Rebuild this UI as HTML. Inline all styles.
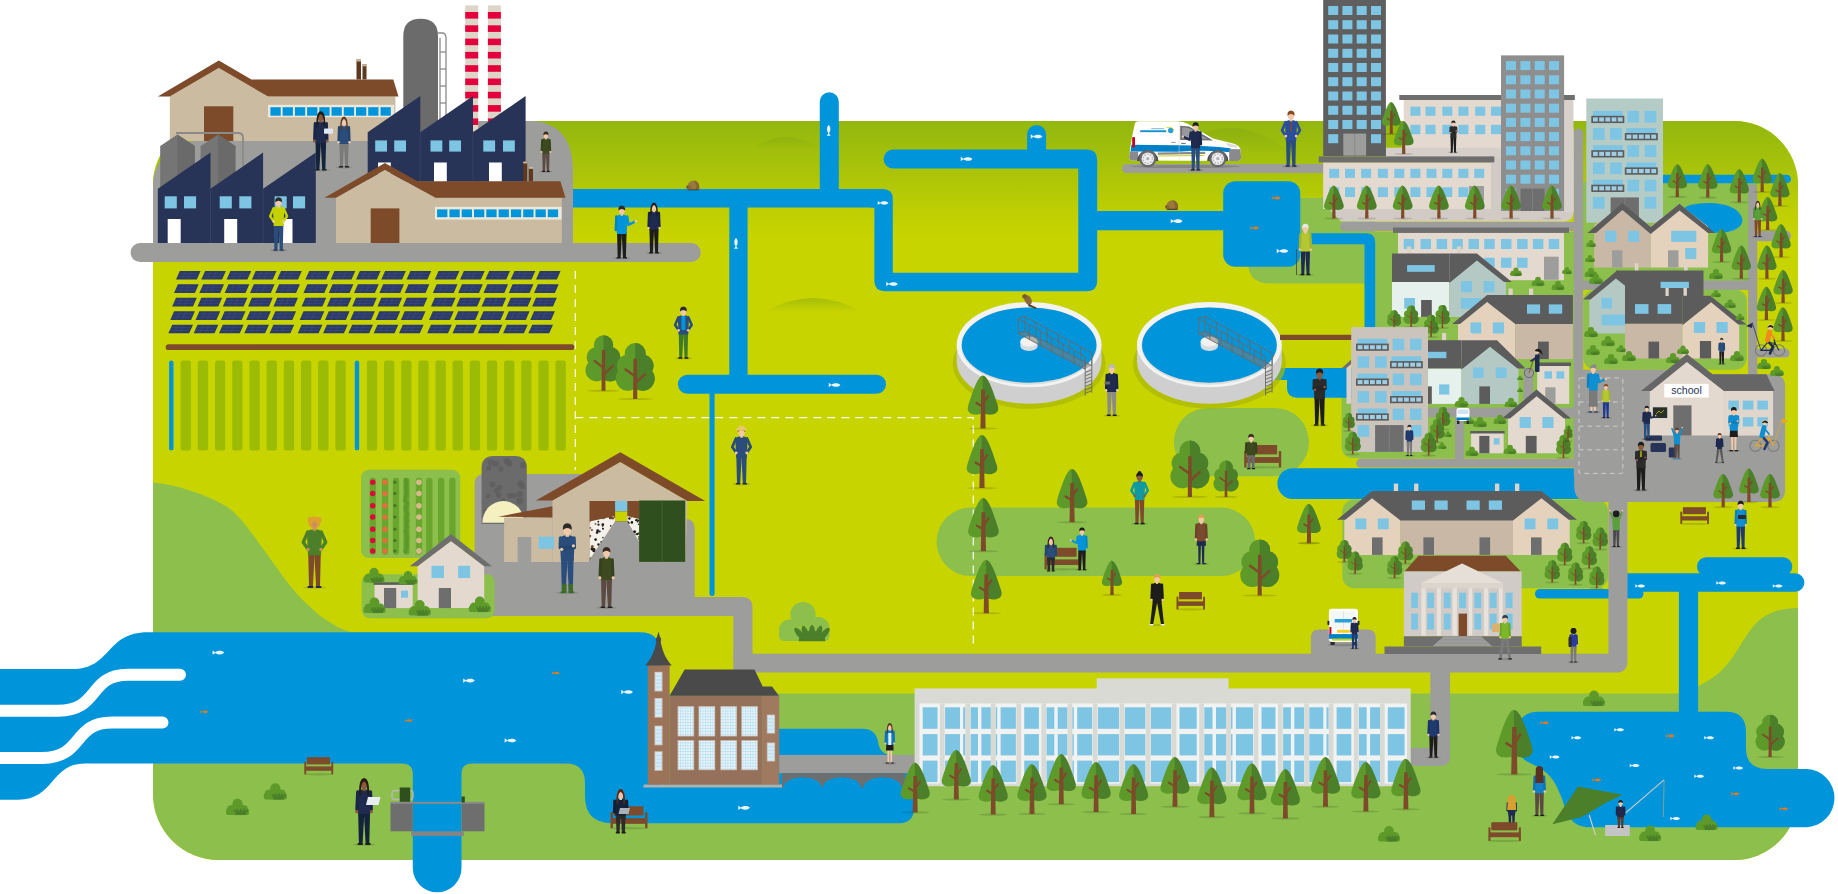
<!DOCTYPE html><html><head><meta charset="utf-8"><style>html,body{margin:0;padding:0;background:#fff}svg{display:block}</style></head><body><svg width="1838" height="894" viewBox="0 0 1838 894" font-family="Liberation Sans, sans-serif"><defs><linearGradient id="lg" x1="0" y1="0" x2="0" y2="1"><stop offset="0" stop-color="#93b70f"/><stop offset="0.4" stop-color="#a8c309"/><stop offset="0.75" stop-color="#bdce03"/><stop offset="1" stop-color="#c8d400"/></linearGradient><radialGradient id="hill" cx="0.5" cy="1" r="1" gradientTransform="translate(0,0)"><stop offset="0" stop-color="#9ab90a" stop-opacity="0"/><stop offset="0.8" stop-color="#9ab90a" stop-opacity="0.05"/><stop offset="1" stop-color="#8fb20c" stop-opacity="0.55"/></radialGradient><clipPath id="land"><path id="landp" d="M153,185 A64,64 0 0 1 217,121 L1734,121 A64,64 0 0 1 1798,185 L1798,796 A64,64 0 0 1 1734,860 L219,860 A66,66 0 0 1 153,794 Z"/></clipPath></defs><path d="M153,185 A64,64 0 0 1 217,121 L1734,121 A64,64 0 0 1 1798,185 L1798,796 A64,64 0 0 1 1734,860 L219,860 A66,66 0 0 1 153,794 Z" fill="#c8d400"/><g clip-path="url(#land)"><rect x="153" y="121" width="1650" height="118" fill="url(#lg)"/><defs><linearGradient id="hg" x1="0" y1="0" x2="0" y2="1"><stop offset="0" stop-color="#86ab10" stop-opacity="0.55"/><stop offset="1" stop-color="#86ab10" stop-opacity="0"/></linearGradient></defs><path d="M752,149 Q786,125 820,149 Z" fill="url(#hg)"/><path d="M765,312 Q813,284 861,312 Z" fill="url(#hg)"/><path d="M1168,154 Q1230,102 1292,154 Z" fill="url(#hg)"/><path d="M153,482.4 C175,484 205,494 226,506 C240,515 252,534 264,550 L283,576.5 C295,593 308,606 321,616.4 C332,624 342,630 352,632.2 L153,632.2 Z" fill="#8cbf4c"/><path d="M153,632 L640,632 L640,870 L153,870 Z" fill="#8cbf4c"/><path d="M640,693.5 L1678,693.5 L1698,686 C1730,672 1735,650 1752,628 C1765,612 1780,608.5 1798,608 L1798,870 L640,870 Z" fill="#8cbf4c"/></g><rect x="936.6" y="507.6" width="318.5" height="68.4" fill="#8cbf4c" rx="34"/><rect x="1173.9" y="407.9" width="135" height="68.3" fill="#8cbf4c" rx="34"/><path d="M1262,198 L1375,198 L1375,283.5 L1270,283.5 Q1248,283.5 1248,262 L1248,230 Z" fill="#8cbf4c"/><path d="M1375,232 L1574,232 L1574,458 L1354,458 Q1341.6,458 1341.6,446 L1341.6,392 Q1341.6,380 1354,380 L1375,380 Z" fill="#8cbf4c"/><rect x="1583" y="182" width="174" height="108" fill="#8cbf4c"/><rect x="1583.3" y="289.6" width="163.5" height="80.1" fill="#8cbf4c" rx="12"/><rect x="1342.3" y="499.6" width="265.8" height="88.7" fill="#8cbf4c" rx="12"/><path d="M0,669.1 L72,669.1 C112,669.1 105,632.2 148,632.2 L640,632.2 Q660,632.2 660,652 L660,784.5 L779,784.5 L779,728.7 L862,728.7 Q876,728.7 878,742 Q880,755 892,755 L914,755 L914,808 Q914,823.2 899,823.2 L612,823.2 Q585,823.2 585,796 L585,783 Q585,763.5 566,763.5 L472,763.5 Q461.5,763.5 461.5,774 L461.5,868 A24.3,24.3 0 0 1 412.8,868 L412.8,774 Q412.8,763.5 402,763.5 L85,763.5 C50,763.5 55,799.7 18,799.7 L0,799.7 Z" fill="#0095db"/><path d="M-10,710.7 L58,710.7 C100,710.7 88,674.8 128,674.8 L180,674.8" fill="none" stroke="#fff" stroke-width="12" stroke-linecap="round"/><path d="M-10,757.9 L42,757.9 C84,757.9 72,722.5 112,722.5 L162.5,722.5" fill="none" stroke="#fff" stroke-width="12" stroke-linecap="round"/><rect x="565" y="189" width="319" height="18.5" fill="#0095db"/><path d="M870,189 L883,189 Q892.8,189 892.8,199 L892.8,272.8 L1078.3,272.8 L1078.3,168.4 L893,168.4 A9.4,9.4 0 0 1 893,149.6 L1087,149.6 Q1097.2,149.6 1097.2,160 L1097.2,281 Q1097.2,291.2 1087,291.2 L885,291.2 Q874.4,291.2 874.4,281 L874.4,207.5 L870,207.5 Z" fill="#0095db"/><path d="M1027.1,152 L1027.1,134.4 A9.5,9.5 0 0 1 1046.1,134.4 L1046.1,152 Z" fill="#0095db"/><path d="M819.8,192 L819.8,101.7 A9.5,9.5 0 0 1 838.8,101.7 L838.8,192 Z" fill="#0095db"/><rect x="1095" y="211" width="135" height="19.3" fill="#0095db"/><rect x="1223.2" y="181.2" width="77.1" height="85.6" fill="#0095db" rx="12"/><path d="M1298,233.2 L1366,233.2 Q1375.2,233.2 1375.2,242 L1375.2,398 L1364.5,398 L1364.5,244.3 L1298,244.3 Z" fill="#0095db"/><path d="M1270,368 L1375.2,368 L1375.2,397.7 L1297,397.7 Q1287,397.7 1287,388 L1287,380 L1270,380 Z" fill="#0095db"/><rect x="729.3" y="200" width="18.3" height="180" fill="#0095db"/><rect x="677.9" y="374.8" width="208.1" height="19" fill="#0095db" rx="9.5"/><rect x="709.5" y="388" width="5.1" height="208" fill="#0095db" rx="2.5"/><path d="M1292.8,468.2 L1590,468.2 L1590,499 L1292.8,499 A15.4,15.4 0 0 1 1292.8,468.2 Z" fill="#0095db"/><rect x="1534.9" y="589.1" width="108.6" height="9.5" fill="#0095db" rx="4.8"/><rect x="1612" y="573.2" width="192.4" height="18.5" fill="#0095db" rx="9.2"/><rect x="1697" y="557.3" width="95.2" height="18.7" fill="#0095db" rx="9"/><rect x="1678.9" y="585" width="19.2" height="135" fill="#0095db"/><path d="M1539,711.7 L1726,711.7 Q1746,711.7 1746,732 L1746,748 Q1746,768.9 1767,768.9 L1807,768.9 A29.2,29.2 0 0 1 1807,827.2 L1590,827.2 C1566,827.2 1566,806 1560,794 C1553,776 1545,770 1532,764 C1520,759 1517.5,752 1517.5,742 L1517.5,733 Q1517.5,711.7 1539,711.7 Z" fill="#0095db"/><rect x="1660" y="174.7" width="131" height="8.6" fill="#0095db" rx="4.3"/><path d="M1690,205 C1712,200 1738,204 1742,218 C1745,230 1725,235 1708,232 C1695,230 1688,232 1682,228 C1676,222 1680,208 1690,205 Z" fill="#0095db"/><rect x="130.6" y="243" width="570.1" height="19" fill="#9d9d9c" rx="9.5"/><path d="M153,250 L153,186 A45,45 0 0 1 198,141 L420,141 L420,121 L528,121 Q573,121 573,172 L573,250 Z" fill="#9d9d9c"/><rect x="1122" y="164" width="208" height="9" fill="#9d9d9c" rx="4.5"/><path d="M474.6,484 Q474.6,474 484.6,474 L610,474 L610,518.8 L684.7,518.8 Q694.7,518.8 694.7,528.8 L694.7,597 L742,597 Q752.5,597 752.5,607.5 L752.5,660 L733.3,660 L733.3,616 L474.6,616 Z" fill="#9d9d9c"/><path d="M733.3,653.7 L1608.4,653.7 L1608.4,495 L1627.5,495 L1627.5,661 Q1627.5,672.6 1616,672.6 L733.3,672.6 Z" fill="#9d9d9c"/><path d="M1310.9,655 L1310.9,637.6 Q1310.9,629.6 1318.9,629.6 L1367.7,629.6 Q1375.7,629.6 1375.7,637.6 L1375.7,655 Z" fill="#9d9d9c"/><path d="M1430.3,670 L1450,670 L1450,757 Q1450,765.7 1441,765.7 L1410.7,765.7 L1410.7,747.7 L1430.3,747.7 Z" fill="#9d9d9c"/><rect x="1340" y="222" width="243" height="9.2" fill="#9d9d9c" rx="4.6"/><rect x="1573.8" y="128.5" width="9.4" height="351.5" fill="#9d9d9c" rx="4.7"/><rect x="1356.2" y="458.6" width="223.8" height="8.9" fill="#9d9d9c" rx="4.4"/><rect x="1428" y="407.7" width="148" height="9.6" fill="#9d9d9c"/><rect x="1455.1" y="417.3" width="8.7" height="42.7" fill="#9d9d9c"/><rect x="1523.5" y="368.4" width="9.6" height="41.6" fill="#9d9d9c"/><rect x="1580" y="280.6" width="170" height="9" fill="#9d9d9c"/><rect x="1748.2" y="184.6" width="9" height="195.4" fill="#9d9d9c"/><rect x="1755" y="230.8" width="36" height="10.4" fill="#9d9d9c" rx="5.2"/><rect x="1755" y="348.6" width="34.7" height="9" fill="#9d9d9c" rx="4.5"/><path d="M1574.2,369.7 L1700,369.7 L1700,374.3 L1773,374.3 Q1785.1,374.3 1785.1,386.4 L1785.1,490 Q1785.1,502.1 1773,502.1 L1590.2,502.1 Q1574.2,502.1 1574.2,486 Z" fill="#9d9d9c"/><g fill="none" stroke="#dcdcd8" stroke-width="0.8" stroke-dasharray="4.5 4"><rect x="1579" y="377.9" width="43.9" height="95.5" rx="1.5"/><line x1="1579" y1="402" x2="1622.9" y2="402"/><line x1="1579" y1="426.2" x2="1622.9" y2="426.2"/><line x1="1579" y1="449.8" x2="1622.9" y2="449.8"/></g><g fill="none" stroke="#fff" stroke-width="1.25" stroke-dasharray="8 6" opacity="0.92"><path d="M575.3,271 L575.3,470"/><path d="M575.3,417.6 L973.3,417.6 L973.3,647"/></g><path d="M403.3,140 L403.3,36 Q403.3,18.7 420.6,18.7 Q438,18.7 438,36 L438,140 Z" fill="#6b6b6b"/><g fill="none" stroke="#8a8a8a" stroke-width="1.3"><path d="M438,33 L442,33 Q446,33 446,38 L446,125"/><path d="M440,38 L440,125"/><line x1="440" y1="52" x2="446" y2="52"/><line x1="440" y1="69" x2="446" y2="69"/><line x1="440" y1="86" x2="446" y2="86"/><line x1="440" y1="103" x2="446" y2="103"/></g><rect x="465.2" y="5.4" width="13" height="129.6" fill="#ddd5c8"/><rect x="465.2" y="12" width="13" height="6.6" fill="#e4003a"/><rect x="465.2" y="25.3" width="13" height="6.6" fill="#e4003a"/><rect x="465.2" y="38.6" width="13" height="6.6" fill="#e4003a"/><rect x="465.2" y="51.9" width="13" height="6.6" fill="#e4003a"/><rect x="465.2" y="65.2" width="13" height="6.6" fill="#e4003a"/><rect x="465.2" y="78.5" width="13" height="6.6" fill="#e4003a"/><rect x="465.2" y="91.8" width="13" height="6.6" fill="#e4003a"/><rect x="465.2" y="105.1" width="13" height="6.6" fill="#e4003a"/><rect x="465.2" y="118.4" width="13" height="6.6" fill="#e4003a"/><rect x="465.2" y="131.7" width="13" height="6.6" fill="#e4003a"/><rect x="487.9" y="5.4" width="13" height="129.6" fill="#ddd5c8"/><rect x="487.9" y="12" width="13" height="6.6" fill="#e4003a"/><rect x="487.9" y="25.3" width="13" height="6.6" fill="#e4003a"/><rect x="487.9" y="38.6" width="13" height="6.6" fill="#e4003a"/><rect x="487.9" y="51.9" width="13" height="6.6" fill="#e4003a"/><rect x="487.9" y="65.2" width="13" height="6.6" fill="#e4003a"/><rect x="487.9" y="78.5" width="13" height="6.6" fill="#e4003a"/><rect x="487.9" y="91.8" width="13" height="6.6" fill="#e4003a"/><rect x="487.9" y="105.1" width="13" height="6.6" fill="#e4003a"/><rect x="487.9" y="118.4" width="13" height="6.6" fill="#e4003a"/><rect x="487.9" y="131.7" width="13" height="6.6" fill="#e4003a"/><polygon points="169.8,96.6 218.8,68 268,96.6 395.4,96.6 395.4,141 169.8,141" fill="#cbbba0"/><polygon points="157.8,96.6 218.8,60.4 251.4,79.4 393.3,79.4 398.5,96.6 268,96.6 218.8,68 169.8,96.6" fill="#7d4b2a"/><rect x="204" y="106.3" width="29.3" height="34.7" fill="#7d4b2a"/><rect x="268" y="104.8" width="126.2" height="12.4" fill="#eee8dc"/><rect x="270.4" y="107.2" width="10.3" height="8.5" fill="#0095db"/><rect x="282.6" y="107.2" width="10.3" height="8.5" fill="#0095db"/><rect x="294.9" y="107.2" width="10.3" height="8.5" fill="#0095db"/><rect x="307.1" y="107.2" width="10.3" height="8.5" fill="#0095db"/><rect x="319.3" y="107.2" width="10.3" height="8.5" fill="#0095db"/><rect x="331.5" y="107.2" width="10.3" height="8.5" fill="#0095db"/><rect x="343.8" y="107.2" width="10.3" height="8.5" fill="#0095db"/><rect x="356" y="107.2" width="10.3" height="8.5" fill="#0095db"/><rect x="368.2" y="107.2" width="10.3" height="8.5" fill="#0095db"/><rect x="380.5" y="107.2" width="10.3" height="8.5" fill="#0095db"/><rect x="356.5" y="59.5" width="4.5" height="19.9" fill="#5f3820"/><rect x="362.5" y="64.3" width="4" height="15.1" fill="#5f3820"/><rect x="356.5" y="59.5" width="4.5" height="2" fill="#cbbba0"/><rect x="362.5" y="64.3" width="4" height="2" fill="#cbbba0"/><polygon points="160.2,146 177.4,134.4 194.9,146 194.9,215 160.2,215" fill="#757575"/><polygon points="177.4,134.4 194.9,146 194.9,215 177.4,215" fill="#6a6a6a"/><polygon points="200.6,146 218.2,134.4 235.4,146 235.4,215 200.6,215" fill="#757575"/><polygon points="218.2,134.4 235.4,146 235.4,215 218.2,215" fill="#6a6a6a"/><path d="M176,133 L238,133 Q243,133 243,138 L243,166" fill="none" stroke="#8a8a8a" stroke-width="1.8"/><polygon points="367.7,181.5 367.7,132.3 420.3,96 420.3,132.3 473,96 473,132.3 525.6,96 525.6,181.5" fill="#283457"/><line x1="420.3" y1="132.3" x2="420.3" y2="181.5" stroke="#3a476b" stroke-width="0.6"/><line x1="473" y1="132.3" x2="473" y2="181.5" stroke="#3a476b" stroke-width="0.6"/><rect x="375.2" y="140.4" width="11.8" height="11.2" fill="#7ec5e3"/><rect x="394.2" y="140.4" width="11.8" height="11.2" fill="#7ec5e3"/><rect x="430.5" y="140.4" width="11.8" height="11.2" fill="#7ec5e3"/><rect x="449.2" y="140.4" width="11.8" height="11.2" fill="#7ec5e3"/><rect x="483.3" y="140.4" width="11.8" height="11.2" fill="#7ec5e3"/><rect x="503" y="140.4" width="11.8" height="11.2" fill="#7ec5e3"/><rect x="378" y="162.5" width="12.8" height="19.5" fill="#fff"/><rect x="434" y="162.5" width="12.8" height="19.5" fill="#fff"/><rect x="489" y="162.5" width="12.8" height="19.5" fill="#fff"/><ellipse cx="320.8" cy="170.3" rx="9.6" ry="1.1" fill="#000" opacity="0.13"/><polygon points="315.5,140.6 321,140.6 319.4,169.2 316.2,169.2" fill="#14233a"/><polygon points="320.6,140.6 326.1,140.6 325.4,169.2 322.2,169.2" fill="#14233a"/><rect x="314.9" y="168.9" width="4.9" height="1.7" fill="#1d1d1b" rx="0.8"/><rect x="321.8" y="168.9" width="4.9" height="1.7" fill="#1d1d1b" rx="0.8"/><path d="M318.3,121.4 L323.3,121.4 Q327,121.9 327,126 L326.2,143.1 L315.4,143.1 L314.6,126 Q314.6,121.9 318.3,121.4 Z" fill="#1f2a4f"/><line x1="315.1" y1="123.5" x2="314.5" y2="139" stroke="#1b2547" stroke-width="2.8" stroke-linecap="round"/><line x1="326.5" y1="123.5" x2="327.1" y2="139" stroke="#1b2547" stroke-width="2.8" stroke-linecap="round"/><circle cx="314.3" cy="141" r="1.4" fill="#8b5a3c"/><circle cx="327.3" cy="141" r="1.4" fill="#8b5a3c"/><rect x="319.4" y="119.2" width="2.7" height="3.4" fill="#8b5a3c"/><ellipse cx="320.8" cy="116.7" rx="3.4" ry="4.3" fill="#8b5a3c"/><path d="M316.5,126.4 Q315.8,111.7 320.8,111.2 Q325.8,111.7 325.1,126.4 L323.5,126.4 Q324.2,114.9 320.8,114.2 Q317.4,114.9 318.1,126.4 Z" fill="#1d1d1b"/><rect x="324" y="128.5" width="9" height="5.3" fill="#dfe8f2" rx="0.8"/><ellipse cx="344" cy="167.3" rx="8.3" ry="1.1" fill="#000" opacity="0.13"/><polygon points="339.4,141.8 344.2,141.8 342.8,166.4 340,166.4" fill="#7a7a7a"/><polygon points="343.8,141.8 348.6,141.8 348,166.4 345.2,166.4" fill="#7a7a7a"/><rect x="338.9" y="166.1" width="4.2" height="1.5" fill="#1d1d1b" rx="0.7"/><rect x="344.9" y="166.1" width="4.2" height="1.5" fill="#1d1d1b" rx="0.7"/><path d="M341.9,125.4 L346.1,125.4 Q349.4,125.8 349.4,129.3 L348.7,144 L339.3,144 L338.6,129.3 Q338.6,125.8 341.9,125.4 Z" fill="#2a4d7c"/><line x1="339.1" y1="127.1" x2="338.6" y2="140.5" stroke="#25456f" stroke-width="2.4" stroke-linecap="round"/><line x1="348.9" y1="127.1" x2="349.4" y2="140.5" stroke="#25456f" stroke-width="2.4" stroke-linecap="round"/><circle cx="338.5" cy="142.2" r="1.2" fill="#f2c9a8"/><circle cx="349.5" cy="142.2" r="1.2" fill="#f2c9a8"/><rect x="342.8" y="123.4" width="2.3" height="2.9" fill="#f2c9a8"/><ellipse cx="344" cy="121.3" rx="2.9" ry="3.7" fill="#f2c9a8"/><path d="M340.3,129.7 Q339.7,117 344,116.6 Q348.3,117 347.7,129.7 L346.3,129.7 Q346.9,119.7 344,119.1 Q341.1,119.7 341.7,129.7 Z" fill="#5a3a28"/><ellipse cx="545.9" cy="171.8" rx="6.5" ry="1.1" fill="#000" opacity="0.13"/><polygon points="542.3,151.6 546.1,151.6 545,171.1 542.7,171.1" fill="#5a4a42"/><polygon points="545.7,151.6 549.5,151.6 549.1,171.1 546.8,171.1" fill="#5a4a42"/><rect x="541.9" y="170.8" width="3.3" height="1.2" fill="#1d1d1b" rx="0.5"/><rect x="546.6" y="170.8" width="3.3" height="1.2" fill="#1d1d1b" rx="0.5"/><path d="M544.2,138.6 L547.6,138.6 Q550.1,138.9 550.1,141.7 L549.6,153.3 L542.2,153.3 L541.7,141.7 Q541.7,138.9 544.2,138.6 Z" fill="#3d4a1f"/><line x1="542.1" y1="140" x2="541.6" y2="150.5" stroke="#36421b" stroke-width="1.9" stroke-linecap="round"/><line x1="549.7" y1="140" x2="550.2" y2="150.5" stroke="#36421b" stroke-width="1.9" stroke-linecap="round"/><circle cx="541.5" cy="151.9" r="1" fill="#f2c9a8"/><circle cx="550.3" cy="151.9" r="1" fill="#f2c9a8"/><rect x="545" y="137.1" width="1.8" height="2.3" fill="#f2c9a8"/><ellipse cx="545.9" cy="135.4" rx="2.3" ry="2.9" fill="#f2c9a8"/><path d="M543.4,135.4 Q543,131.8 545.9,131.6 Q548.8,131.8 548.4,135.4 Q545.9,133.1 543.4,135.4 Z" fill="#3a2a20"/><polygon points="157.8,243 157.8,188.8 210.5,152.5 210.5,188.8 263.1,152.5 263.1,188.8 315.8,152.5 315.8,243" fill="#283457"/><line x1="210.5" y1="188.8" x2="210.5" y2="243" stroke="#3a476b" stroke-width="0.6"/><line x1="263.1" y1="188.8" x2="263.1" y2="243" stroke="#3a476b" stroke-width="0.6"/><rect x="164.7" y="196.3" width="12.1" height="12.1" fill="#7ec5e3"/><rect x="184" y="196.3" width="12.1" height="12.1" fill="#7ec5e3"/><rect x="219.7" y="196.3" width="12.1" height="12.1" fill="#7ec5e3"/><rect x="239.3" y="196.3" width="12.1" height="12.1" fill="#7ec5e3"/><rect x="274.6" y="196.3" width="12.1" height="12.1" fill="#7ec5e3"/><rect x="293" y="196.3" width="12.1" height="12.1" fill="#7ec5e3"/><rect x="167.7" y="219" width="13" height="24" fill="#fff"/><rect x="224.2" y="219" width="13" height="24" fill="#fff"/><rect x="279.5" y="219" width="13" height="24" fill="#fff"/><polygon points="336,197.8 384.9,170 435.6,197.8 561.9,197.8 561.9,243 336,243" fill="#cbbba0"/><polygon points="324.5,197.8 384.9,163.1 417.5,181.2 560.4,181.2 565.5,197.8 435.6,197.8 384.9,170 336,197.8" fill="#7d4b2a"/><rect x="370.7" y="208.4" width="28.7" height="34.6" fill="#7d4b2a"/><rect x="435" y="206.9" width="126.6" height="12.7" fill="#eee8dc"/><rect x="437.1" y="209.4" width="10.3" height="7.8" fill="#0095db"/><rect x="449.4" y="209.4" width="10.3" height="7.8" fill="#0095db"/><rect x="461.7" y="209.4" width="10.3" height="7.8" fill="#0095db"/><rect x="474" y="209.4" width="10.3" height="7.8" fill="#0095db"/><rect x="486.3" y="209.4" width="10.3" height="7.8" fill="#0095db"/><rect x="498.6" y="209.4" width="10.3" height="7.8" fill="#0095db"/><rect x="510.9" y="209.4" width="10.3" height="7.8" fill="#0095db"/><rect x="523.2" y="209.4" width="10.3" height="7.8" fill="#0095db"/><rect x="535.5" y="209.4" width="10.3" height="7.8" fill="#0095db"/><rect x="547.8" y="209.4" width="10.3" height="7.8" fill="#0095db"/><rect x="523.2" y="161.6" width="4" height="19.6" fill="#5f3820"/><rect x="528.7" y="167" width="4.3" height="14.2" fill="#5f3820"/><rect x="523.2" y="161.6" width="4" height="1.8" fill="#cbbba0"/><rect x="528.7" y="167" width="4.3" height="1.8" fill="#cbbba0"/><ellipse cx="278.6" cy="250.4" rx="8.6" ry="1.1" fill="#000" opacity="0.13"/><polygon points="273.8,223.7 278.8,223.7 277.4,249.5 274.4,249.5" fill="#2a4d7c"/><polygon points="278.4,223.7 283.4,223.7 282.8,249.5 279.8,249.5" fill="#2a4d7c"/><rect x="273.3" y="249.2" width="4.4" height="1.5" fill="#1f3a5f" rx="0.7"/><rect x="279.5" y="249.2" width="4.4" height="1.5" fill="#1f3a5f" rx="0.7"/><path d="M276.4,206.5 L280.8,206.5 Q284.2,207 284.2,210.6 L283.5,226 L273.7,226 L273,210.6 Q273,207 276.4,206.5 Z" fill="#c4d200"/><polyline points="273.5,208.4 270.2,216.2 273.7,221.3" fill="none" stroke="#c4d200" stroke-width="2.5" stroke-linejoin="round" stroke-linecap="round"/><polyline points="283.7,208.4 287,216.2 283.5,221.3" fill="none" stroke="#c4d200" stroke-width="2.5" stroke-linejoin="round" stroke-linecap="round"/><circle cx="273.7" cy="221.6" r="1.3" fill="#f2c9a8"/><circle cx="283.5" cy="221.6" r="1.3" fill="#f2c9a8"/><rect x="277.4" y="204.5" width="2.4" height="3.1" fill="#f2c9a8"/><ellipse cx="278.6" cy="202.3" rx="3.1" ry="3.9" fill="#f2c9a8"/><path d="M275.2,202.3 Q274.7,197.5 278.6,197.3 Q282.5,197.5 282,202.3 Q278.6,199.2 275.2,202.3 Z" fill="#2b2b2b"/><polygon points="179.8,270.9 200.6,270.9 196.8,279.5 176,279.5" fill="#2b3a67"/><path d="M178.6,273.8 L198.2,273.8 M177.3,276.7 L196.9,276.7 M185.6,270.9 L181.8,279.5 M191.4,270.9 L187.6,279.5" stroke="#4a5a8a" stroke-width="0.35" fill="none"/><polygon points="205.1,270.9 225.9,270.9 222.1,279.5 201.3,279.5" fill="#2b3a67"/><path d="M203.9,273.8 L223.5,273.8 M202.6,276.7 L222.2,276.7 M210.9,270.9 L207.1,279.5 M216.7,270.9 L212.9,279.5" stroke="#4a5a8a" stroke-width="0.35" fill="none"/><polygon points="230.4,270.9 251.2,270.9 247.4,279.5 226.6,279.5" fill="#2b3a67"/><path d="M229.2,273.8 L248.8,273.8 M227.9,276.7 L247.5,276.7 M236.2,270.9 L232.4,279.5 M242,270.9 L238.2,279.5" stroke="#4a5a8a" stroke-width="0.35" fill="none"/><polygon points="255.7,270.9 276.5,270.9 272.7,279.5 251.9,279.5" fill="#2b3a67"/><path d="M254.5,273.8 L274.1,273.8 M253.2,276.7 L272.8,276.7 M261.5,270.9 L257.7,279.5 M267.3,270.9 L263.5,279.5" stroke="#4a5a8a" stroke-width="0.35" fill="none"/><polygon points="281,270.9 301.8,270.9 298,279.5 277.2,279.5" fill="#2b3a67"/><path d="M279.8,273.8 L299.4,273.8 M278.5,276.7 L298.1,276.7 M286.8,270.9 L283,279.5 M292.6,270.9 L288.8,279.5" stroke="#4a5a8a" stroke-width="0.35" fill="none"/><polygon points="309.2,270.9 330,270.9 326.2,279.5 305.4,279.5" fill="#2b3a67"/><path d="M308,273.8 L327.6,273.8 M306.7,276.7 L326.3,276.7 M315,270.9 L311.2,279.5 M320.8,270.9 L317,279.5" stroke="#4a5a8a" stroke-width="0.35" fill="none"/><polygon points="334.5,270.9 355.3,270.9 351.5,279.5 330.7,279.5" fill="#2b3a67"/><path d="M333.3,273.8 L352.9,273.8 M332,276.7 L351.6,276.7 M340.3,270.9 L336.5,279.5 M346.1,270.9 L342.3,279.5" stroke="#4a5a8a" stroke-width="0.35" fill="none"/><polygon points="359.8,270.9 380.6,270.9 376.8,279.5 356,279.5" fill="#2b3a67"/><path d="M358.6,273.8 L378.2,273.8 M357.3,276.7 L376.9,276.7 M365.6,270.9 L361.8,279.5 M371.4,270.9 L367.6,279.5" stroke="#4a5a8a" stroke-width="0.35" fill="none"/><polygon points="385.1,270.9 405.9,270.9 402.1,279.5 381.3,279.5" fill="#2b3a67"/><path d="M383.9,273.8 L403.5,273.8 M382.6,276.7 L402.2,276.7 M390.9,270.9 L387.1,279.5 M396.7,270.9 L392.9,279.5" stroke="#4a5a8a" stroke-width="0.35" fill="none"/><polygon points="410.4,270.9 431.2,270.9 427.4,279.5 406.6,279.5" fill="#2b3a67"/><path d="M409.2,273.8 L428.8,273.8 M407.9,276.7 L427.5,276.7 M416.2,270.9 L412.4,279.5 M422,270.9 L418.2,279.5" stroke="#4a5a8a" stroke-width="0.35" fill="none"/><polygon points="438.6,270.9 459.4,270.9 455.6,279.5 434.8,279.5" fill="#2b3a67"/><path d="M437.4,273.8 L457,273.8 M436.1,276.7 L455.7,276.7 M444.4,270.9 L440.6,279.5 M450.2,270.9 L446.4,279.5" stroke="#4a5a8a" stroke-width="0.35" fill="none"/><polygon points="463.9,270.9 484.7,270.9 480.9,279.5 460.1,279.5" fill="#2b3a67"/><path d="M462.7,273.8 L482.3,273.8 M461.4,276.7 L481,276.7 M469.7,270.9 L465.9,279.5 M475.5,270.9 L471.7,279.5" stroke="#4a5a8a" stroke-width="0.35" fill="none"/><polygon points="489.2,270.9 510,270.9 506.2,279.5 485.4,279.5" fill="#2b3a67"/><path d="M488,273.8 L507.6,273.8 M486.7,276.7 L506.3,276.7 M495,270.9 L491.2,279.5 M500.8,270.9 L497,279.5" stroke="#4a5a8a" stroke-width="0.35" fill="none"/><polygon points="514.5,270.9 535.3,270.9 531.5,279.5 510.7,279.5" fill="#2b3a67"/><path d="M513.3,273.8 L532.9,273.8 M512,276.7 L531.6,276.7 M520.3,270.9 L516.5,279.5 M526.1,270.9 L522.3,279.5" stroke="#4a5a8a" stroke-width="0.35" fill="none"/><polygon points="539.8,270.9 560.6,270.9 556.8,279.5 536,279.5" fill="#2b3a67"/><path d="M538.6,273.8 L558.2,273.8 M537.3,276.7 L556.9,276.7 M545.6,270.9 L541.8,279.5 M551.4,270.9 L547.6,279.5" stroke="#4a5a8a" stroke-width="0.35" fill="none"/><polygon points="177.9,284.3 198.7,284.3 194.9,292.9 174.1,292.9" fill="#2b3a67"/><path d="M176.7,287.2 L196.3,287.2 M175.4,290.1 L195,290.1 M183.7,284.3 L179.9,292.9 M189.5,284.3 L185.7,292.9" stroke="#4a5a8a" stroke-width="0.35" fill="none"/><polygon points="203.2,284.3 224,284.3 220.2,292.9 199.4,292.9" fill="#2b3a67"/><path d="M202,287.2 L221.6,287.2 M200.7,290.1 L220.3,290.1 M209,284.3 L205.2,292.9 M214.8,284.3 L211,292.9" stroke="#4a5a8a" stroke-width="0.35" fill="none"/><polygon points="228.5,284.3 249.3,284.3 245.5,292.9 224.7,292.9" fill="#2b3a67"/><path d="M227.3,287.2 L246.9,287.2 M226,290.1 L245.6,290.1 M234.3,284.3 L230.5,292.9 M240.1,284.3 L236.3,292.9" stroke="#4a5a8a" stroke-width="0.35" fill="none"/><polygon points="253.8,284.3 274.6,284.3 270.8,292.9 250,292.9" fill="#2b3a67"/><path d="M252.6,287.2 L272.2,287.2 M251.3,290.1 L270.9,290.1 M259.6,284.3 L255.8,292.9 M265.4,284.3 L261.6,292.9" stroke="#4a5a8a" stroke-width="0.35" fill="none"/><polygon points="279.1,284.3 299.9,284.3 296.1,292.9 275.3,292.9" fill="#2b3a67"/><path d="M277.9,287.2 L297.5,287.2 M276.6,290.1 L296.2,290.1 M284.9,284.3 L281.1,292.9 M290.7,284.3 L286.9,292.9" stroke="#4a5a8a" stroke-width="0.35" fill="none"/><polygon points="307.3,284.3 328.1,284.3 324.3,292.9 303.5,292.9" fill="#2b3a67"/><path d="M306.1,287.2 L325.7,287.2 M304.8,290.1 L324.4,290.1 M313.1,284.3 L309.3,292.9 M318.9,284.3 L315.1,292.9" stroke="#4a5a8a" stroke-width="0.35" fill="none"/><polygon points="332.6,284.3 353.4,284.3 349.6,292.9 328.8,292.9" fill="#2b3a67"/><path d="M331.4,287.2 L351,287.2 M330.1,290.1 L349.7,290.1 M338.4,284.3 L334.6,292.9 M344.2,284.3 L340.4,292.9" stroke="#4a5a8a" stroke-width="0.35" fill="none"/><polygon points="357.9,284.3 378.7,284.3 374.9,292.9 354.1,292.9" fill="#2b3a67"/><path d="M356.7,287.2 L376.3,287.2 M355.4,290.1 L375,290.1 M363.7,284.3 L359.9,292.9 M369.5,284.3 L365.7,292.9" stroke="#4a5a8a" stroke-width="0.35" fill="none"/><polygon points="383.2,284.3 404,284.3 400.2,292.9 379.4,292.9" fill="#2b3a67"/><path d="M382,287.2 L401.6,287.2 M380.7,290.1 L400.3,290.1 M389,284.3 L385.2,292.9 M394.8,284.3 L391,292.9" stroke="#4a5a8a" stroke-width="0.35" fill="none"/><polygon points="408.5,284.3 429.3,284.3 425.5,292.9 404.7,292.9" fill="#2b3a67"/><path d="M407.3,287.2 L426.9,287.2 M406,290.1 L425.6,290.1 M414.3,284.3 L410.5,292.9 M420.1,284.3 L416.3,292.9" stroke="#4a5a8a" stroke-width="0.35" fill="none"/><polygon points="436.7,284.3 457.5,284.3 453.7,292.9 432.9,292.9" fill="#2b3a67"/><path d="M435.5,287.2 L455.1,287.2 M434.2,290.1 L453.8,290.1 M442.5,284.3 L438.7,292.9 M448.3,284.3 L444.5,292.9" stroke="#4a5a8a" stroke-width="0.35" fill="none"/><polygon points="462,284.3 482.8,284.3 479,292.9 458.2,292.9" fill="#2b3a67"/><path d="M460.8,287.2 L480.4,287.2 M459.5,290.1 L479.1,290.1 M467.8,284.3 L464,292.9 M473.6,284.3 L469.8,292.9" stroke="#4a5a8a" stroke-width="0.35" fill="none"/><polygon points="487.3,284.3 508.1,284.3 504.3,292.9 483.5,292.9" fill="#2b3a67"/><path d="M486.1,287.2 L505.7,287.2 M484.8,290.1 L504.4,290.1 M493.1,284.3 L489.3,292.9 M498.9,284.3 L495.1,292.9" stroke="#4a5a8a" stroke-width="0.35" fill="none"/><polygon points="512.6,284.3 533.4,284.3 529.6,292.9 508.8,292.9" fill="#2b3a67"/><path d="M511.4,287.2 L531,287.2 M510.1,290.1 L529.7,290.1 M518.4,284.3 L514.6,292.9 M524.2,284.3 L520.4,292.9" stroke="#4a5a8a" stroke-width="0.35" fill="none"/><polygon points="537.9,284.3 558.7,284.3 554.9,292.9 534.1,292.9" fill="#2b3a67"/><path d="M536.7,287.2 L556.3,287.2 M535.4,290.1 L555,290.1 M543.7,284.3 L539.9,292.9 M549.5,284.3 L545.7,292.9" stroke="#4a5a8a" stroke-width="0.35" fill="none"/><polygon points="176,297.8 196.8,297.8 193,306.4 172.2,306.4" fill="#2b3a67"/><path d="M174.8,300.7 L194.4,300.7 M173.5,303.6 L193.1,303.6 M181.8,297.8 L178,306.4 M187.6,297.8 L183.8,306.4" stroke="#4a5a8a" stroke-width="0.35" fill="none"/><polygon points="201.3,297.8 222.1,297.8 218.3,306.4 197.5,306.4" fill="#2b3a67"/><path d="M200.1,300.7 L219.7,300.7 M198.8,303.6 L218.4,303.6 M207.1,297.8 L203.3,306.4 M212.9,297.8 L209.1,306.4" stroke="#4a5a8a" stroke-width="0.35" fill="none"/><polygon points="226.6,297.8 247.4,297.8 243.6,306.4 222.8,306.4" fill="#2b3a67"/><path d="M225.4,300.7 L245,300.7 M224.1,303.6 L243.7,303.6 M232.4,297.8 L228.6,306.4 M238.2,297.8 L234.4,306.4" stroke="#4a5a8a" stroke-width="0.35" fill="none"/><polygon points="251.9,297.8 272.7,297.8 268.9,306.4 248.1,306.4" fill="#2b3a67"/><path d="M250.7,300.7 L270.3,300.7 M249.4,303.6 L269,303.6 M257.7,297.8 L253.9,306.4 M263.5,297.8 L259.7,306.4" stroke="#4a5a8a" stroke-width="0.35" fill="none"/><polygon points="277.2,297.8 298,297.8 294.2,306.4 273.4,306.4" fill="#2b3a67"/><path d="M276,300.7 L295.6,300.7 M274.7,303.6 L294.3,303.6 M283,297.8 L279.2,306.4 M288.8,297.8 L285,306.4" stroke="#4a5a8a" stroke-width="0.35" fill="none"/><polygon points="305.4,297.8 326.2,297.8 322.4,306.4 301.6,306.4" fill="#2b3a67"/><path d="M304.2,300.7 L323.8,300.7 M302.9,303.6 L322.5,303.6 M311.2,297.8 L307.4,306.4 M317,297.8 L313.2,306.4" stroke="#4a5a8a" stroke-width="0.35" fill="none"/><polygon points="330.7,297.8 351.5,297.8 347.7,306.4 326.9,306.4" fill="#2b3a67"/><path d="M329.5,300.7 L349.1,300.7 M328.2,303.6 L347.8,303.6 M336.5,297.8 L332.7,306.4 M342.3,297.8 L338.5,306.4" stroke="#4a5a8a" stroke-width="0.35" fill="none"/><polygon points="356,297.8 376.8,297.8 373,306.4 352.2,306.4" fill="#2b3a67"/><path d="M354.8,300.7 L374.4,300.7 M353.5,303.6 L373.1,303.6 M361.8,297.8 L358,306.4 M367.6,297.8 L363.8,306.4" stroke="#4a5a8a" stroke-width="0.35" fill="none"/><polygon points="381.3,297.8 402.1,297.8 398.3,306.4 377.5,306.4" fill="#2b3a67"/><path d="M380.1,300.7 L399.7,300.7 M378.8,303.6 L398.4,303.6 M387.1,297.8 L383.3,306.4 M392.9,297.8 L389.1,306.4" stroke="#4a5a8a" stroke-width="0.35" fill="none"/><polygon points="406.6,297.8 427.4,297.8 423.6,306.4 402.8,306.4" fill="#2b3a67"/><path d="M405.4,300.7 L425,300.7 M404.1,303.6 L423.7,303.6 M412.4,297.8 L408.6,306.4 M418.2,297.8 L414.4,306.4" stroke="#4a5a8a" stroke-width="0.35" fill="none"/><polygon points="434.8,297.8 455.6,297.8 451.8,306.4 431,306.4" fill="#2b3a67"/><path d="M433.6,300.7 L453.2,300.7 M432.3,303.6 L451.9,303.6 M440.6,297.8 L436.8,306.4 M446.4,297.8 L442.6,306.4" stroke="#4a5a8a" stroke-width="0.35" fill="none"/><polygon points="460.1,297.8 480.9,297.8 477.1,306.4 456.3,306.4" fill="#2b3a67"/><path d="M458.9,300.7 L478.5,300.7 M457.6,303.6 L477.2,303.6 M465.9,297.8 L462.1,306.4 M471.7,297.8 L467.9,306.4" stroke="#4a5a8a" stroke-width="0.35" fill="none"/><polygon points="485.4,297.8 506.2,297.8 502.4,306.4 481.6,306.4" fill="#2b3a67"/><path d="M484.2,300.7 L503.8,300.7 M482.9,303.6 L502.5,303.6 M491.2,297.8 L487.4,306.4 M497,297.8 L493.2,306.4" stroke="#4a5a8a" stroke-width="0.35" fill="none"/><polygon points="510.7,297.8 531.5,297.8 527.7,306.4 506.9,306.4" fill="#2b3a67"/><path d="M509.5,300.7 L529.1,300.7 M508.2,303.6 L527.8,303.6 M516.5,297.8 L512.7,306.4 M522.3,297.8 L518.5,306.4" stroke="#4a5a8a" stroke-width="0.35" fill="none"/><polygon points="536,297.8 556.8,297.8 553,306.4 532.2,306.4" fill="#2b3a67"/><path d="M534.8,300.7 L554.4,300.7 M533.5,303.6 L553.1,303.6 M541.8,297.8 L538,306.4 M547.6,297.8 L543.8,306.4" stroke="#4a5a8a" stroke-width="0.35" fill="none"/><polygon points="174.1,311.2 194.9,311.2 191.1,319.9 170.3,319.9" fill="#2b3a67"/><path d="M172.9,314.1 L192.5,314.1 M171.6,317.1 L191.2,317.1 M179.9,311.2 L176.1,319.9 M185.7,311.2 L181.9,319.9" stroke="#4a5a8a" stroke-width="0.35" fill="none"/><polygon points="199.4,311.2 220.2,311.2 216.4,319.9 195.6,319.9" fill="#2b3a67"/><path d="M198.2,314.1 L217.8,314.1 M196.9,317.1 L216.5,317.1 M205.2,311.2 L201.4,319.9 M211,311.2 L207.2,319.9" stroke="#4a5a8a" stroke-width="0.35" fill="none"/><polygon points="224.7,311.2 245.5,311.2 241.7,319.9 220.9,319.9" fill="#2b3a67"/><path d="M223.5,314.1 L243.1,314.1 M222.2,317.1 L241.8,317.1 M230.5,311.2 L226.7,319.9 M236.3,311.2 L232.5,319.9" stroke="#4a5a8a" stroke-width="0.35" fill="none"/><polygon points="250,311.2 270.8,311.2 267,319.9 246.2,319.9" fill="#2b3a67"/><path d="M248.8,314.1 L268.4,314.1 M247.5,317.1 L267.1,317.1 M255.8,311.2 L252,319.9 M261.6,311.2 L257.8,319.9" stroke="#4a5a8a" stroke-width="0.35" fill="none"/><polygon points="275.3,311.2 296.1,311.2 292.3,319.9 271.5,319.9" fill="#2b3a67"/><path d="M274.1,314.1 L293.7,314.1 M272.8,317.1 L292.4,317.1 M281.1,311.2 L277.3,319.9 M286.9,311.2 L283.1,319.9" stroke="#4a5a8a" stroke-width="0.35" fill="none"/><polygon points="303.5,311.2 324.3,311.2 320.5,319.9 299.7,319.9" fill="#2b3a67"/><path d="M302.3,314.1 L321.9,314.1 M301,317.1 L320.6,317.1 M309.3,311.2 L305.5,319.9 M315.1,311.2 L311.3,319.9" stroke="#4a5a8a" stroke-width="0.35" fill="none"/><polygon points="328.8,311.2 349.6,311.2 345.8,319.9 325,319.9" fill="#2b3a67"/><path d="M327.6,314.1 L347.2,314.1 M326.3,317.1 L345.9,317.1 M334.6,311.2 L330.8,319.9 M340.4,311.2 L336.6,319.9" stroke="#4a5a8a" stroke-width="0.35" fill="none"/><polygon points="354.1,311.2 374.9,311.2 371.1,319.9 350.3,319.9" fill="#2b3a67"/><path d="M352.9,314.1 L372.5,314.1 M351.6,317.1 L371.2,317.1 M359.9,311.2 L356.1,319.9 M365.7,311.2 L361.9,319.9" stroke="#4a5a8a" stroke-width="0.35" fill="none"/><polygon points="379.4,311.2 400.2,311.2 396.4,319.9 375.6,319.9" fill="#2b3a67"/><path d="M378.2,314.1 L397.8,314.1 M376.9,317.1 L396.5,317.1 M385.2,311.2 L381.4,319.9 M391,311.2 L387.2,319.9" stroke="#4a5a8a" stroke-width="0.35" fill="none"/><polygon points="404.7,311.2 425.5,311.2 421.7,319.9 400.9,319.9" fill="#2b3a67"/><path d="M403.5,314.1 L423.1,314.1 M402.2,317.1 L421.8,317.1 M410.5,311.2 L406.7,319.9 M416.3,311.2 L412.5,319.9" stroke="#4a5a8a" stroke-width="0.35" fill="none"/><polygon points="432.9,311.2 453.7,311.2 449.9,319.9 429.1,319.9" fill="#2b3a67"/><path d="M431.7,314.1 L451.3,314.1 M430.4,317.1 L450,317.1 M438.7,311.2 L434.9,319.9 M444.5,311.2 L440.7,319.9" stroke="#4a5a8a" stroke-width="0.35" fill="none"/><polygon points="458.2,311.2 479,311.2 475.2,319.9 454.4,319.9" fill="#2b3a67"/><path d="M457,314.1 L476.6,314.1 M455.7,317.1 L475.3,317.1 M464,311.2 L460.2,319.9 M469.8,311.2 L466,319.9" stroke="#4a5a8a" stroke-width="0.35" fill="none"/><polygon points="483.5,311.2 504.3,311.2 500.5,319.9 479.7,319.9" fill="#2b3a67"/><path d="M482.3,314.1 L501.9,314.1 M481,317.1 L500.6,317.1 M489.3,311.2 L485.5,319.9 M495.1,311.2 L491.3,319.9" stroke="#4a5a8a" stroke-width="0.35" fill="none"/><polygon points="508.8,311.2 529.6,311.2 525.8,319.9 505,319.9" fill="#2b3a67"/><path d="M507.6,314.1 L527.2,314.1 M506.3,317.1 L525.9,317.1 M514.6,311.2 L510.8,319.9 M520.4,311.2 L516.6,319.9" stroke="#4a5a8a" stroke-width="0.35" fill="none"/><polygon points="534.1,311.2 554.9,311.2 551.1,319.9 530.3,319.9" fill="#2b3a67"/><path d="M532.9,314.1 L552.5,314.1 M531.6,317.1 L551.2,317.1 M539.9,311.2 L536.1,319.9 M545.7,311.2 L541.9,319.9" stroke="#4a5a8a" stroke-width="0.35" fill="none"/><polygon points="172.2,324.7 193,324.7 189.2,333.3 168.4,333.3" fill="#2b3a67"/><path d="M171,327.6 L190.6,327.6 M169.7,330.5 L189.3,330.5 M178,324.7 L174.2,333.3 M183.8,324.7 L180,333.3" stroke="#4a5a8a" stroke-width="0.35" fill="none"/><polygon points="197.5,324.7 218.3,324.7 214.5,333.3 193.7,333.3" fill="#2b3a67"/><path d="M196.3,327.6 L215.9,327.6 M195,330.5 L214.6,330.5 M203.3,324.7 L199.5,333.3 M209.1,324.7 L205.3,333.3" stroke="#4a5a8a" stroke-width="0.35" fill="none"/><polygon points="222.8,324.7 243.6,324.7 239.8,333.3 219,333.3" fill="#2b3a67"/><path d="M221.6,327.6 L241.2,327.6 M220.3,330.5 L239.9,330.5 M228.6,324.7 L224.8,333.3 M234.4,324.7 L230.6,333.3" stroke="#4a5a8a" stroke-width="0.35" fill="none"/><polygon points="248.1,324.7 268.9,324.7 265.1,333.3 244.3,333.3" fill="#2b3a67"/><path d="M246.9,327.6 L266.5,327.6 M245.6,330.5 L265.2,330.5 M253.9,324.7 L250.1,333.3 M259.7,324.7 L255.9,333.3" stroke="#4a5a8a" stroke-width="0.35" fill="none"/><polygon points="273.4,324.7 294.2,324.7 290.4,333.3 269.6,333.3" fill="#2b3a67"/><path d="M272.2,327.6 L291.8,327.6 M270.9,330.5 L290.5,330.5 M279.2,324.7 L275.4,333.3 M285,324.7 L281.2,333.3" stroke="#4a5a8a" stroke-width="0.35" fill="none"/><polygon points="301.6,324.7 322.4,324.7 318.6,333.3 297.8,333.3" fill="#2b3a67"/><path d="M300.4,327.6 L320,327.6 M299.1,330.5 L318.7,330.5 M307.4,324.7 L303.6,333.3 M313.2,324.7 L309.4,333.3" stroke="#4a5a8a" stroke-width="0.35" fill="none"/><polygon points="326.9,324.7 347.7,324.7 343.9,333.3 323.1,333.3" fill="#2b3a67"/><path d="M325.7,327.6 L345.3,327.6 M324.4,330.5 L344,330.5 M332.7,324.7 L328.9,333.3 M338.5,324.7 L334.7,333.3" stroke="#4a5a8a" stroke-width="0.35" fill="none"/><polygon points="352.2,324.7 373,324.7 369.2,333.3 348.4,333.3" fill="#2b3a67"/><path d="M351,327.6 L370.6,327.6 M349.7,330.5 L369.3,330.5 M358,324.7 L354.2,333.3 M363.8,324.7 L360,333.3" stroke="#4a5a8a" stroke-width="0.35" fill="none"/><polygon points="377.5,324.7 398.3,324.7 394.5,333.3 373.7,333.3" fill="#2b3a67"/><path d="M376.3,327.6 L395.9,327.6 M375,330.5 L394.6,330.5 M383.3,324.7 L379.5,333.3 M389.1,324.7 L385.3,333.3" stroke="#4a5a8a" stroke-width="0.35" fill="none"/><polygon points="402.8,324.7 423.6,324.7 419.8,333.3 399,333.3" fill="#2b3a67"/><path d="M401.6,327.6 L421.2,327.6 M400.3,330.5 L419.9,330.5 M408.6,324.7 L404.8,333.3 M414.4,324.7 L410.6,333.3" stroke="#4a5a8a" stroke-width="0.35" fill="none"/><polygon points="431,324.7 451.8,324.7 448,333.3 427.2,333.3" fill="#2b3a67"/><path d="M429.8,327.6 L449.4,327.6 M428.5,330.5 L448.1,330.5 M436.8,324.7 L433,333.3 M442.6,324.7 L438.8,333.3" stroke="#4a5a8a" stroke-width="0.35" fill="none"/><polygon points="456.3,324.7 477.1,324.7 473.3,333.3 452.5,333.3" fill="#2b3a67"/><path d="M455.1,327.6 L474.7,327.6 M453.8,330.5 L473.4,330.5 M462.1,324.7 L458.3,333.3 M467.9,324.7 L464.1,333.3" stroke="#4a5a8a" stroke-width="0.35" fill="none"/><polygon points="481.6,324.7 502.4,324.7 498.6,333.3 477.8,333.3" fill="#2b3a67"/><path d="M480.4,327.6 L500,327.6 M479.1,330.5 L498.7,330.5 M487.4,324.7 L483.6,333.3 M493.2,324.7 L489.4,333.3" stroke="#4a5a8a" stroke-width="0.35" fill="none"/><polygon points="506.9,324.7 527.7,324.7 523.9,333.3 503.1,333.3" fill="#2b3a67"/><path d="M505.7,327.6 L525.3,327.6 M504.4,330.5 L524,330.5 M512.7,324.7 L508.9,333.3 M518.5,324.7 L514.7,333.3" stroke="#4a5a8a" stroke-width="0.35" fill="none"/><polygon points="532.2,324.7 553,324.7 549.2,333.3 528.4,333.3" fill="#2b3a67"/><path d="M531,327.6 L550.6,327.6 M529.7,330.5 L549.3,330.5 M538,324.7 L534.2,333.3 M543.8,324.7 L540,333.3" stroke="#4a5a8a" stroke-width="0.35" fill="none"/><rect x="165.7" y="344.2" width="408.6" height="5.9" fill="#7d4b2a" rx="2.9"/><rect x="180.6" y="360.4" width="10.3" height="90" fill="#9cbb05" rx="2.5"/><rect x="197.8" y="360.4" width="10.3" height="90" fill="#9cbb05" rx="2.5"/><rect x="215" y="360.4" width="10.3" height="90" fill="#9cbb05" rx="2.5"/><rect x="232.2" y="360.4" width="10.3" height="90" fill="#9cbb05" rx="2.5"/><rect x="249.4" y="360.4" width="10.3" height="90" fill="#9cbb05" rx="2.5"/><rect x="266.6" y="360.4" width="10.3" height="90" fill="#9cbb05" rx="2.5"/><rect x="283.8" y="360.4" width="10.3" height="90" fill="#9cbb05" rx="2.5"/><rect x="301" y="360.4" width="10.3" height="90" fill="#9cbb05" rx="2.5"/><rect x="318.2" y="360.4" width="10.3" height="90" fill="#9cbb05" rx="2.5"/><rect x="335.4" y="360.4" width="10.3" height="90" fill="#9cbb05" rx="2.5"/><rect x="366.9" y="360.4" width="10.3" height="90" fill="#9cbb05" rx="2.5"/><rect x="384" y="360.4" width="10.3" height="90" fill="#9cbb05" rx="2.5"/><rect x="401.2" y="360.4" width="10.3" height="90" fill="#9cbb05" rx="2.5"/><rect x="418.3" y="360.4" width="10.3" height="90" fill="#9cbb05" rx="2.5"/><rect x="435.5" y="360.4" width="10.3" height="90" fill="#9cbb05" rx="2.5"/><rect x="452.6" y="360.4" width="10.3" height="90" fill="#9cbb05" rx="2.5"/><rect x="469.8" y="360.4" width="10.3" height="90" fill="#9cbb05" rx="2.5"/><rect x="486.9" y="360.4" width="10.3" height="90" fill="#9cbb05" rx="2.5"/><rect x="504.1" y="360.4" width="10.3" height="90" fill="#9cbb05" rx="2.5"/><rect x="521.2" y="360.4" width="10.3" height="90" fill="#9cbb05" rx="2.5"/><rect x="538.4" y="360.4" width="10.3" height="90" fill="#9cbb05" rx="2.5"/><rect x="555.5" y="360.4" width="10.3" height="90" fill="#9cbb05" rx="2.5"/><rect x="169.1" y="360.4" width="4.4" height="90" fill="#0095db" rx="2.2"/><rect x="354.8" y="360.4" width="4.4" height="90" fill="#0095db" rx="2.2"/><rect x="361" y="469.7" width="99.2" height="88.3" fill="#8cbf4c" rx="8"/><rect x="369.6" y="477.8" width="6.3" height="77" fill="#6aa52e" rx="3"/><rect x="381.9" y="477.8" width="6.3" height="77" fill="#6aa52e" rx="3"/><rect x="392.8" y="477.8" width="6.3" height="77" fill="#6aa52e" rx="3"/><rect x="403.3" y="477.8" width="6.3" height="77" fill="#6aa52e" rx="3"/><rect x="415.8" y="477.8" width="6.3" height="77" fill="#6aa52e" rx="3"/><rect x="426.2" y="477.8" width="6.3" height="77" fill="#6aa52e" rx="3"/><rect x="438" y="477.8" width="6.3" height="77" fill="#6aa52e" rx="3"/><rect x="449.2" y="477.8" width="6.3" height="77" fill="#6aa52e" rx="3"/><circle cx="372.7" cy="482.2" r="2.7" fill="#e4003a"/><circle cx="385" cy="482.2" r="2.6" fill="#ea6b3c"/><circle cx="394.9" cy="482.2" r="1.6" fill="#3f7a22"/><circle cx="418.9" cy="482.2" r="2.8" fill="#d8b98c"/><circle cx="372.7" cy="493.5" r="2.7" fill="#e4003a"/><circle cx="385" cy="493.5" r="2.6" fill="#ea6b3c"/><circle cx="394.9" cy="493.5" r="1.6" fill="#3f7a22"/><circle cx="418.9" cy="493.5" r="2.8" fill="#d8b98c"/><circle cx="372.7" cy="505.7" r="2.7" fill="#e4003a"/><circle cx="385" cy="505.7" r="2.6" fill="#ea6b3c"/><circle cx="394.9" cy="505.7" r="1.6" fill="#3f7a22"/><circle cx="418.9" cy="505.7" r="2.8" fill="#d8b98c"/><circle cx="372.7" cy="517" r="2.7" fill="#e4003a"/><circle cx="385" cy="517" r="2.6" fill="#ea6b3c"/><circle cx="394.9" cy="517" r="1.6" fill="#3f7a22"/><circle cx="418.9" cy="517" r="2.8" fill="#d8b98c"/><circle cx="372.7" cy="529.2" r="2.7" fill="#e4003a"/><circle cx="385" cy="529.2" r="2.6" fill="#ea6b3c"/><circle cx="394.9" cy="529.2" r="1.6" fill="#3f7a22"/><circle cx="418.9" cy="529.2" r="2.8" fill="#d8b98c"/><circle cx="372.7" cy="540.5" r="2.7" fill="#e4003a"/><circle cx="385" cy="540.5" r="2.6" fill="#ea6b3c"/><circle cx="394.9" cy="540.5" r="1.6" fill="#3f7a22"/><circle cx="418.9" cy="540.5" r="2.8" fill="#d8b98c"/><circle cx="372.7" cy="550.9" r="2.7" fill="#e4003a"/><circle cx="385" cy="550.9" r="2.6" fill="#ea6b3c"/><circle cx="394.9" cy="550.9" r="1.6" fill="#3f7a22"/><circle cx="418.9" cy="550.9" r="2.8" fill="#d8b98c"/><circle cx="405.9" cy="480" r="2.1" fill="#5a982a"/><circle cx="406.5" cy="483.4" r="2.1" fill="#5a982a"/><circle cx="406.1" cy="486.8" r="2.1" fill="#5a982a"/><circle cx="406.6" cy="490.2" r="2.1" fill="#5a982a"/><circle cx="406.7" cy="493.6" r="2.1" fill="#5a982a"/><circle cx="405.5" cy="497" r="2.1" fill="#5a982a"/><circle cx="405.4" cy="500.4" r="2.1" fill="#5a982a"/><circle cx="407.1" cy="503.8" r="2.1" fill="#5a982a"/><circle cx="405.9" cy="507.2" r="2.1" fill="#5a982a"/><circle cx="405.9" cy="510.6" r="2.1" fill="#5a982a"/><circle cx="407.4" cy="514" r="2.1" fill="#5a982a"/><circle cx="406.3" cy="517.4" r="2.1" fill="#5a982a"/><circle cx="407.1" cy="520.8" r="2.1" fill="#5a982a"/><circle cx="406.4" cy="524.2" r="2.1" fill="#5a982a"/><circle cx="406.7" cy="527.6" r="2.1" fill="#5a982a"/><circle cx="405.7" cy="531" r="2.1" fill="#5a982a"/><circle cx="406.7" cy="534.4" r="2.1" fill="#5a982a"/><circle cx="407.1" cy="537.8" r="2.1" fill="#5a982a"/><circle cx="406.4" cy="541.2" r="2.1" fill="#5a982a"/><circle cx="406.9" cy="544.6" r="2.1" fill="#5a982a"/><circle cx="406.7" cy="548" r="2.1" fill="#5a982a"/><circle cx="405.5" cy="551.4" r="2.1" fill="#5a982a"/><rect x="361.7" y="574.2" width="133" height="44.1" fill="#8cbf4c" rx="8"/><path d="M481.6,524 L481.6,468 Q481.6,456.1 493.6,456.1 L514.8,456.1 Q526.8,456.1 526.8,468 L526.8,524 Z" fill="#6b6b6b"/><circle cx="514.2" cy="495.5" r="2.6" fill="#5e5e5e" opacity="0.8"/><circle cx="486.2" cy="511.9" r="2.8" fill="#5e5e5e" opacity="0.8"/><circle cx="512.7" cy="512.7" r="3.1" fill="#5e5e5e" opacity="0.8"/><circle cx="520.5" cy="483.7" r="3.2" fill="#5e5e5e" opacity="0.8"/><circle cx="502.1" cy="516.1" r="3.3" fill="#5e5e5e" opacity="0.8"/><circle cx="488.8" cy="468.2" r="2.5" fill="#5e5e5e" opacity="0.8"/><circle cx="522.2" cy="486.2" r="3" fill="#5e5e5e" opacity="0.8"/><circle cx="496.6" cy="490.4" r="2.7" fill="#5e5e5e" opacity="0.8"/><circle cx="498.5" cy="495.1" r="2.9" fill="#5e5e5e" opacity="0.8"/><circle cx="519.8" cy="500.9" r="3.3" fill="#5e5e5e" opacity="0.8"/><circle cx="518" cy="519.5" r="3" fill="#5e5e5e" opacity="0.8"/><circle cx="491.3" cy="511.6" r="3.4" fill="#5e5e5e" opacity="0.8"/><circle cx="519.8" cy="494.1" r="3.1" fill="#5e5e5e" opacity="0.8"/><circle cx="493.1" cy="509.9" r="2.9" fill="#5e5e5e" opacity="0.8"/><circle cx="496" cy="463.8" r="3.2" fill="#5e5e5e" opacity="0.8"/><circle cx="523.1" cy="465.3" r="3.2" fill="#5e5e5e" opacity="0.8"/><circle cx="500.8" cy="469" r="2.6" fill="#5e5e5e" opacity="0.8"/><circle cx="514.6" cy="512.4" r="2.3" fill="#5e5e5e" opacity="0.8"/><circle cx="508.7" cy="462.7" r="3.1" fill="#5e5e5e" opacity="0.8"/><circle cx="497.7" cy="512.9" r="3.4" fill="#5e5e5e" opacity="0.8"/><circle cx="504.5" cy="519.9" r="2.6" fill="#5e5e5e" opacity="0.8"/><circle cx="488" cy="496" r="2.2" fill="#5e5e5e" opacity="0.8"/><circle cx="492.6" cy="484.5" r="2.9" fill="#5e5e5e" opacity="0.8"/><circle cx="491" cy="462.5" r="3.2" fill="#5e5e5e" opacity="0.8"/><circle cx="497.1" cy="517.5" r="3.3" fill="#5e5e5e" opacity="0.8"/><circle cx="499.5" cy="487.6" r="2.8" fill="#5e5e5e" opacity="0.8"/><circle cx="509.8" cy="495.7" r="2.9" fill="#5e5e5e" opacity="0.8"/><circle cx="508.9" cy="516.4" r="2.8" fill="#5e5e5e" opacity="0.8"/><circle cx="501.6" cy="503.2" r="2.5" fill="#5e5e5e" opacity="0.8"/><circle cx="496.6" cy="518.7" r="2.8" fill="#5e5e5e" opacity="0.8"/><circle cx="506.1" cy="460.7" r="2.7" fill="#5e5e5e" opacity="0.8"/><circle cx="507.3" cy="461.2" r="2.9" fill="#5e5e5e" opacity="0.8"/><circle cx="509.3" cy="463.6" r="3" fill="#5e5e5e" opacity="0.8"/><circle cx="503" cy="500.8" r="2.6" fill="#5e5e5e" opacity="0.8"/><path d="M482.4,522.7 A20.9,21.7 0 0 1 524.2,522.7 Z" fill="#f5f0c0"/><polygon points="552.4,500.5 620.3,461.9 687.4,501 685.3,561.9 552.4,561.9" fill="#cbbba0"/><polygon points="504.1,517.5 552.4,517.5 552.4,561.9 504.1,561.9" fill="#cbbba0"/><polygon points="498.1,516.7 552.4,506.3 552.4,517.5" fill="#7d4b2a"/><rect x="517.7" y="537.1" width="13.5" height="24.8" fill="#9d9d9c"/><rect x="538.6" y="536.6" width="15.6" height="12.2" fill="#7ec5e3"/><rect x="589.5" y="501" width="49.6" height="60.9" fill="#7d4b2a"/><rect x="615.1" y="501" width="12.2" height="10.5" fill="#7ec5e3"/><rect x="615.1" y="511.5" width="12.2" height="9.9" fill="#c8d400"/><polygon points="615.1,521.4 627.3,521.4 639.1,542 639.1,561.9 589.5,561.9 589.5,560" fill="#9d9d9c"/><clipPath id="cowL"><polygon points="589.5,521.4 615.1,516 615.1,521.4 589.5,560"/></clipPath><clipPath id="cowR"><polygon points="627.3,516 639.1,519 639.1,542 627.3,521.4"/></clipPath><g clip-path="url(#cowL)"><rect x="589" y="515" width="27" height="47" fill="#f4f1ea"/><circle cx="608.1" cy="548.5" r="0.7" fill="#1d1d1b"/><circle cx="614.8" cy="516.9" r="1" fill="#7d4b2a"/><circle cx="601.3" cy="542.1" r="1" fill="#1d1d1b"/><circle cx="594" cy="549.4" r="1.4" fill="#1d1d1b"/><circle cx="597.1" cy="532.6" r="1.3" fill="#1d1d1b"/><circle cx="615.2" cy="546.1" r="0.8" fill="#7d4b2a"/><circle cx="595" cy="551.4" r="0.9" fill="#1d1d1b"/><circle cx="607.3" cy="544.6" r="0.8" fill="#7d4b2a"/><circle cx="597.7" cy="530.7" r="1.4" fill="#1d1d1b"/><circle cx="610.9" cy="558.3" r="0.8" fill="#7d4b2a"/><circle cx="606.6" cy="554.9" r="1.1" fill="#1d1d1b"/><circle cx="610.2" cy="517.5" r="1.5" fill="#1d1d1b"/><circle cx="610.8" cy="552.9" r="0.8" fill="#1d1d1b"/><circle cx="598.2" cy="552.4" r="0.8" fill="#7d4b2a"/><circle cx="598.3" cy="521.7" r="0.9" fill="#1d1d1b"/><circle cx="601.5" cy="543.9" r="0.9" fill="#7d4b2a"/><circle cx="600.1" cy="556.5" r="0.8" fill="#1d1d1b"/><circle cx="601.9" cy="552.6" r="1.2" fill="#7d4b2a"/><circle cx="600.7" cy="557.8" r="1.4" fill="#1d1d1b"/><circle cx="589.9" cy="536.1" r="1.3" fill="#7d4b2a"/><circle cx="603" cy="528.7" r="1" fill="#1d1d1b"/><circle cx="612.3" cy="553.8" r="1.5" fill="#1d1d1b"/><circle cx="610.9" cy="518" r="1.4" fill="#7d4b2a"/><circle cx="602.8" cy="524.7" r="1.4" fill="#1d1d1b"/><circle cx="604.6" cy="516.6" r="1.3" fill="#1d1d1b"/><circle cx="602.6" cy="526.5" r="0.7" fill="#7d4b2a"/><circle cx="600.2" cy="557.3" r="1.2" fill="#1d1d1b"/><circle cx="592.4" cy="558.8" r="1.1" fill="#1d1d1b"/><circle cx="598.5" cy="524.7" r="1.1" fill="#1d1d1b"/><circle cx="593.6" cy="550.8" r="1.4" fill="#1d1d1b"/><circle cx="611.2" cy="516.3" r="1.2" fill="#1d1d1b"/><circle cx="590.3" cy="527.9" r="0.9" fill="#7d4b2a"/><circle cx="603" cy="518.2" r="1" fill="#1d1d1b"/><circle cx="612.1" cy="550.1" r="0.7" fill="#1d1d1b"/><circle cx="590.8" cy="558.9" r="1.4" fill="#1d1d1b"/><circle cx="602.9" cy="537.6" r="0.8" fill="#1d1d1b"/><circle cx="598.5" cy="544.5" r="1.2" fill="#1d1d1b"/><circle cx="596.2" cy="559.5" r="1" fill="#1d1d1b"/><circle cx="604" cy="547.5" r="1" fill="#1d1d1b"/><circle cx="604.3" cy="517.9" r="1.1" fill="#7d4b2a"/><circle cx="610.1" cy="532.7" r="1.3" fill="#7d4b2a"/><circle cx="612.9" cy="518.3" r="1.2" fill="#7d4b2a"/><circle cx="597.5" cy="557.8" r="1" fill="#1d1d1b"/><circle cx="595.6" cy="539.6" r="1.3" fill="#1d1d1b"/><circle cx="610.7" cy="525.9" r="0.8" fill="#1d1d1b"/><circle cx="614.3" cy="532.5" r="1.4" fill="#1d1d1b"/><circle cx="592.3" cy="546.4" r="1.5" fill="#7d4b2a"/><circle cx="606.9" cy="555" r="1.3" fill="#7d4b2a"/><circle cx="591.9" cy="530" r="1.1" fill="#7d4b2a"/><circle cx="608.3" cy="536.8" r="0.9" fill="#1d1d1b"/><circle cx="590.2" cy="520" r="0.8" fill="#1d1d1b"/><circle cx="593.8" cy="517" r="1.4" fill="#1d1d1b"/><circle cx="589.7" cy="521.1" r="1.1" fill="#7d4b2a"/><circle cx="614.7" cy="541.5" r="1.3" fill="#1d1d1b"/><circle cx="615.9" cy="540.8" r="1.1" fill="#1d1d1b"/><circle cx="591.9" cy="549" r="1.4" fill="#1d1d1b"/><circle cx="603.9" cy="554.3" r="0.8" fill="#1d1d1b"/><circle cx="595.5" cy="523.9" r="0.9" fill="#7d4b2a"/><circle cx="607.9" cy="557.5" r="0.9" fill="#7d4b2a"/><circle cx="599.7" cy="531.4" r="1" fill="#1d1d1b"/></g><g clip-path="url(#cowR)"><rect x="627" y="515" width="13" height="30" fill="#f4f1ea"/><circle cx="631.9" cy="522.4" r="1.3" fill="#1d1d1b"/><circle cx="638" cy="542.1" r="0.9" fill="#1d1d1b"/><circle cx="634.4" cy="531.7" r="1.2" fill="#1d1d1b"/><circle cx="635.9" cy="520.2" r="0.9" fill="#1d1d1b"/><circle cx="638.5" cy="520.4" r="0.9" fill="#1d1d1b"/><circle cx="633.3" cy="534.9" r="1.3" fill="#1d1d1b"/><circle cx="634.6" cy="539.2" r="0.7" fill="#1d1d1b"/><circle cx="636.8" cy="520" r="1" fill="#1d1d1b"/><circle cx="639.2" cy="539" r="1" fill="#1d1d1b"/><circle cx="637.1" cy="534.1" r="1.2" fill="#1d1d1b"/><circle cx="634.7" cy="531.8" r="1.3" fill="#1d1d1b"/><circle cx="638.6" cy="524.3" r="0.8" fill="#1d1d1b"/><circle cx="637.5" cy="521.4" r="1" fill="#1d1d1b"/><circle cx="630.1" cy="529" r="1.2" fill="#1d1d1b"/><circle cx="632.4" cy="534.8" r="1.1" fill="#1d1d1b"/><circle cx="629.7" cy="531.7" r="1.2" fill="#1d1d1b"/><circle cx="635.5" cy="516.7" r="1.3" fill="#1d1d1b"/><circle cx="627.9" cy="541.6" r="1.1" fill="#1d1d1b"/><circle cx="638.5" cy="517.2" r="1.2" fill="#1d1d1b"/><circle cx="638.6" cy="533.5" r="1.1" fill="#1d1d1b"/><circle cx="627.9" cy="521.9" r="0.8" fill="#1d1d1b"/><circle cx="638.6" cy="536.9" r="0.7" fill="#1d1d1b"/><circle cx="635.1" cy="534.2" r="0.6" fill="#1d1d1b"/><circle cx="639.1" cy="520.6" r="0.6" fill="#1d1d1b"/><circle cx="629.4" cy="518.5" r="1.2" fill="#1d1d1b"/><circle cx="628.5" cy="523.1" r="1.2" fill="#1d1d1b"/><circle cx="627.5" cy="528.2" r="1.1" fill="#1d1d1b"/><circle cx="631.4" cy="516.8" r="0.8" fill="#1d1d1b"/></g><rect x="639.1" y="500.5" width="46.2" height="61.4" fill="#2f4f1f"/><line x1="662.1" y1="500.5" x2="662.1" y2="561.9" stroke="#46692f" stroke-width="0.8"/><polygon points="535.9,500.5 620.3,452.2 705.2,501 687.4,501 620.3,461.9 552.4,500.5" fill="#7d4b2a"/><polygon points="417.6,566.3 451,541 484.2,566.3 484.2,608.1 417.6,608.1" fill="#e3d9cf"/><polygon points="409.8,566.3 451,534 492,566.3 484.2,566.3 451,541 417.6,566.3" fill="#6e6e6e"/><rect x="431.5" y="565.8" width="12.5" height="12.2" fill="#7ec5e3"/><rect x="458.1" y="565.8" width="12" height="12.2" fill="#7ec5e3"/><rect x="438.8" y="588" width="12.2" height="20.1" fill="#6e6e6e"/><rect x="374.5" y="584.5" width="38.2" height="23.6" fill="#e3d9cf"/><rect x="373.5" y="582.3" width="40.2" height="2.5" fill="#5c5c5c"/><rect x="384" y="588" width="12.2" height="20.1" fill="#6e6e6e"/><rect x="401" y="590.6" width="7" height="7.1" fill="#7ec5e3"/><g fill="#5e9a2a"><circle cx="374" cy="572.4" r="4.6"/><circle cx="368.5" cy="577.7" r="4.2"/><circle cx="379.5" cy="577.7" r="4.2"/><circle cx="372" cy="578.5" r="4.4"/><circle cx="376.6" cy="578.5" r="4.4"/><rect x="363.5" y="576.7" width="21" height="5.9" rx="2"/></g><g fill="#4b7f2a"><path d="M372.3,582.6 A4.8,3.8 0 0 1 382,582.6 Z"/><ellipse cx="374" cy="579.5" rx="1.1" ry="2.7" transform="rotate(-40 374 581.6)"/><ellipse cx="375.5" cy="579.5" rx="1.1" ry="2.7" transform="rotate(-20 375.5 581.6)"/><ellipse cx="377.1" cy="579.5" rx="1.1" ry="2.7" transform="rotate(0 377.1 581.6)"/><ellipse cx="378.8" cy="579.5" rx="1.1" ry="2.7" transform="rotate(20 378.8 581.6)"/><ellipse cx="380.3" cy="579.5" rx="1.1" ry="2.7" transform="rotate(40 380.3 581.6)"/></g><g fill="#5e9a2a"><circle cx="408" cy="575.1" r="4.2"/><circle cx="403.1" cy="579.9" r="3.8"/><circle cx="412.9" cy="579.9" r="3.8"/><circle cx="406.2" cy="580.6" r="4"/><circle cx="410.4" cy="580.6" r="4"/><rect x="398.5" y="579" width="19" height="5.3" rx="2"/></g><g fill="#4b7f2a"><path d="M406.5,584.3 A4.4,3.4 0 0 1 415.2,584.3 Z"/><ellipse cx="408" cy="581.4" rx="1" ry="2.5" transform="rotate(-40 408 583.3)"/><ellipse cx="409.3" cy="581.4" rx="1" ry="2.5" transform="rotate(-20 409.3 583.3)"/><ellipse cx="410.9" cy="581.4" rx="1" ry="2.5" transform="rotate(0 410.9 583.3)"/><ellipse cx="412.4" cy="581.4" rx="1" ry="2.5" transform="rotate(20 412.4 583.3)"/><ellipse cx="413.7" cy="581.4" rx="1" ry="2.5" transform="rotate(40 413.7 583.3)"/></g><g fill="#5e9a2a"><circle cx="374.5" cy="602.4" r="4.9"/><circle cx="368.8" cy="607.9" r="4.4"/><circle cx="380.2" cy="607.9" r="4.4"/><circle cx="372.5" cy="608.7" r="4.6"/><circle cx="377.2" cy="608.7" r="4.6"/><rect x="363.5" y="606.8" width="22" height="6.2" rx="2"/></g><g fill="#4b7f2a"><path d="M372.7,613 A5.1,4 0 0 1 382.9,613 Z"/><ellipse cx="374.5" cy="609.7" rx="1.1" ry="2.9" transform="rotate(-40 374.5 611.9)"/><ellipse cx="376" cy="609.7" rx="1.1" ry="2.9" transform="rotate(-20 376 611.9)"/><ellipse cx="377.8" cy="609.7" rx="1.1" ry="2.9" transform="rotate(0 377.8 611.9)"/><ellipse cx="379.6" cy="609.7" rx="1.1" ry="2.9" transform="rotate(20 379.6 611.9)"/><ellipse cx="381.1" cy="609.7" rx="1.1" ry="2.9" transform="rotate(40 381.1 611.9)"/></g><g fill="#5e9a2a"><circle cx="419.7" cy="604.9" r="4.9"/><circle cx="414" cy="610.4" r="4.4"/><circle cx="425.4" cy="610.4" r="4.4"/><circle cx="417.7" cy="611.2" r="4.6"/><circle cx="422.4" cy="611.2" r="4.6"/><rect x="408.7" y="609.3" width="22" height="6.2" rx="2"/></g><g fill="#4b7f2a"><path d="M417.9,615.5 A5.1,4 0 0 1 428.1,615.5 Z"/><ellipse cx="419.7" cy="612.2" rx="1.1" ry="2.9" transform="rotate(-40 419.7 614.4)"/><ellipse cx="421.2" cy="612.2" rx="1.1" ry="2.9" transform="rotate(-20 421.2 614.4)"/><ellipse cx="423" cy="612.2" rx="1.1" ry="2.9" transform="rotate(0 423 614.4)"/><ellipse cx="424.8" cy="612.2" rx="1.1" ry="2.9" transform="rotate(20 424.8 614.4)"/><ellipse cx="426.3" cy="612.2" rx="1.1" ry="2.9" transform="rotate(40 426.3 614.4)"/></g><g fill="#5e9a2a"><circle cx="479.8" cy="601.4" r="4.9"/><circle cx="474.1" cy="606.9" r="4.4"/><circle cx="485.5" cy="606.9" r="4.4"/><circle cx="477.8" cy="607.7" r="4.6"/><circle cx="482.5" cy="607.7" r="4.6"/><rect x="468.8" y="605.8" width="22" height="6.2" rx="2"/></g><g fill="#4b7f2a"><path d="M478,612 A5.1,4 0 0 1 488.2,612 Z"/><ellipse cx="479.8" cy="608.7" rx="1.1" ry="2.9" transform="rotate(-40 479.8 610.9)"/><ellipse cx="481.3" cy="608.7" rx="1.1" ry="2.9" transform="rotate(-20 481.3 610.9)"/><ellipse cx="483.1" cy="608.7" rx="1.1" ry="2.9" transform="rotate(0 483.1 610.9)"/><ellipse cx="484.9" cy="608.7" rx="1.1" ry="2.9" transform="rotate(20 484.9 610.9)"/><ellipse cx="486.4" cy="608.7" rx="1.1" ry="2.9" transform="rotate(40 486.4 610.9)"/></g><ellipse cx="567.3" cy="592.8" rx="11.3" ry="1.1" fill="#000" opacity="0.13"/><polygon points="561,557.9 567.6,557.9 565.7,591.6 561.8,591.6" fill="#2a4d7c"/><polygon points="567,557.9 573.6,557.9 572.8,591.6 568.9,591.6" fill="#2a4d7c"/><rect x="560.4" y="591.2" width="5.7" height="2" fill="#3d6b2a" rx="0.9"/><rect x="568.5" y="591.2" width="5.7" height="2" fill="#3d6b2a" rx="0.9"/><path d="M564.4,535.4 L570.2,535.4 Q574.6,536 574.6,540.8 L573.7,560.9 L560.9,560.9 L560,540.8 Q560,536 564.4,535.4 Z" fill="#2a4d7c"/><line x1="560.5" y1="537.8" x2="560.2" y2="547.4" stroke="#2a4d7c" stroke-width="3.3" stroke-linecap="round"/><line x1="574.1" y1="537.8" x2="574.4" y2="547.4" stroke="#2a4d7c" stroke-width="3.3" stroke-linecap="round"/><line x1="560.5" y1="547.8" x2="572.9" y2="546.1" stroke="#25456f" stroke-width="3.3" stroke-linecap="round"/><line x1="574.1" y1="547.8" x2="562.9" y2="549.2" stroke="#25456f" stroke-width="3.3" stroke-linecap="round"/><circle cx="573.4" cy="545.8" r="1.6" fill="#f2c9a8"/><circle cx="561.7" cy="549.3" r="1.6" fill="#f2c9a8"/><rect x="565.7" y="532.8" width="3.2" height="4" fill="#f2c9a8"/><ellipse cx="567.3" cy="529.9" rx="4" ry="5.1" fill="#f2c9a8"/><path d="M562.9,529.9 Q562.2,523.6 567.3,523.3 Q572.4,523.6 571.7,529.9 Q567.3,525.9 562.9,529.9 Z" fill="#2b2b2b"/><rect x="562" y="584" width="4.5" height="8.5" fill="#3d6b2a"/><rect x="568.5" y="584" width="4.5" height="8.5" fill="#3d6b2a"/><ellipse cx="606.5" cy="607.8" rx="9.9" ry="1.1" fill="#000" opacity="0.13"/><polygon points="601,577.2 606.7,577.2 605.1,606.7 601.7,606.7" fill="#5a4a42"/><polygon points="606.3,577.2 612,577.2 611.3,606.7 607.9,606.7" fill="#5a4a42"/><rect x="600.4" y="606.4" width="5" height="1.7" fill="#1d1d1b" rx="0.8"/><rect x="607.5" y="606.4" width="5" height="1.7" fill="#1d1d1b" rx="0.8"/><path d="M603.9,557.5 L609.1,557.5 Q612.9,558 612.9,562.2 L612.1,579.8 L600.9,579.8 L600.1,562.2 Q600.1,558 603.9,557.5 Z" fill="#3d4a1f"/><line x1="600.7" y1="559.6" x2="600" y2="575.6" stroke="#36421b" stroke-width="2.9" stroke-linecap="round"/><line x1="612.3" y1="559.6" x2="613" y2="575.6" stroke="#36421b" stroke-width="2.9" stroke-linecap="round"/><circle cx="599.9" cy="577.7" r="1.5" fill="#f2c9a8"/><circle cx="613.1" cy="577.7" r="1.5" fill="#f2c9a8"/><rect x="605.1" y="555.2" width="2.8" height="3.5" fill="#f2c9a8"/><ellipse cx="606.5" cy="552.6" rx="3.5" ry="4.4" fill="#f2c9a8"/><path d="M602.7,552.6 Q602.1,547.2 606.5,546.9 Q610.9,547.2 610.3,552.6 Q606.5,549.1 602.7,552.6 Z" fill="#3a2a20"/><ellipse cx="314.5" cy="587.5" rx="11.4" ry="1.1" fill="#000" opacity="0.13"/><polygon points="308.2,552.3 314.8,552.3 312.9,586.3 309,586.3" fill="#7d4b2a"/><polygon points="314.2,552.3 320.8,552.3 320,586.3 316.1,586.3" fill="#7d4b2a"/><rect x="307.5" y="585.9" width="5.8" height="2" fill="#1f2a5f" rx="0.9"/><rect x="315.7" y="585.9" width="5.8" height="2" fill="#1f2a5f" rx="0.9"/><path d="M311.5,529.6 L317.5,529.6 Q321.9,530.1 321.9,534.9 L321,555.2 L308,555.2 L307.1,534.9 Q307.1,530.1 311.5,529.6 Z" fill="#4b7f2a"/><polyline points="307.8,532 303.3,542.3 308,549.1" fill="none" stroke="#4b7f2a" stroke-width="3.4" stroke-linejoin="round" stroke-linecap="round"/><polyline points="321.2,532 325.7,542.3 321,549.1" fill="none" stroke="#4b7f2a" stroke-width="3.4" stroke-linejoin="round" stroke-linecap="round"/><circle cx="308" cy="549.5" r="1.7" fill="#c98f62"/><circle cx="321" cy="549.5" r="1.7" fill="#c98f62"/><rect x="312.9" y="526.9" width="3.2" height="4" fill="#c98f62"/><ellipse cx="314.5" cy="523.9" rx="4" ry="5.1" fill="#c98f62"/><path d="M310.1,523.9 Q309.4,517.6 314.5,517.3 Q319.6,517.6 318.9,523.9 Q314.5,519.9 310.1,523.9 Z" fill="#e0a030"/><circle cx="314.5" cy="522.5" r="6" fill="#e0a030"/><circle cx="310.5" cy="520" r="3" fill="#e0a030"/><circle cx="318.5" cy="520" r="3" fill="#e0a030"/><ellipse cx="314.5" cy="524.8" rx="2.5" ry="3.1" fill="#c98f62"/><ellipse cx="741.5" cy="484.3" rx="9.4" ry="1.1" fill="#000" opacity="0.13"/><polygon points="736.3,455.2 741.7,455.2 740.2,483.3 737,483.3" fill="#2a4d7c"/><polygon points="741.3,455.2 746.7,455.2 746,483.3 742.8,483.3" fill="#2a4d7c"/><rect x="735.7" y="482.9" width="4.8" height="1.7" fill="#1f2a4f" rx="0.8"/><rect x="742.5" y="482.9" width="4.8" height="1.7" fill="#1f2a4f" rx="0.8"/><path d="M739.1,436.5 L743.9,436.5 Q747.6,437 747.6,441 L746.8,457.7 L736.2,457.7 L735.4,441 Q735.4,437 739.1,436.5 Z" fill="#2a4d7c"/><polyline points="736,438.5 732.3,447 736.2,452.6" fill="none" stroke="#2a4d7c" stroke-width="2.8" stroke-linejoin="round" stroke-linecap="round"/><polyline points="747,438.5 750.7,447 746.8,452.6" fill="none" stroke="#2a4d7c" stroke-width="2.8" stroke-linejoin="round" stroke-linecap="round"/><circle cx="736.2" cy="452.9" r="1.4" fill="#f2c9a8"/><circle cx="746.8" cy="452.9" r="1.4" fill="#f2c9a8"/><rect x="740.2" y="434.3" width="2.7" height="3.3" fill="#f2c9a8"/><ellipse cx="741.5" cy="431.9" rx="3.3" ry="4.2" fill="#f2c9a8"/><path d="M737.8,431.9 Q737.3,426.7 741.5,426.4 Q745.7,426.7 745.2,431.9 Q741.5,428.6 737.8,431.9 Z" fill="#8a4a20"/><ellipse cx="741.5" cy="429.2" rx="5.4" ry="1.6" fill="#e8c870"/><ellipse cx="741.5" cy="428" rx="3.2" ry="2.2" fill="#e8c870"/><g fill="#8cbf4c"><circle cx="803" cy="614.5" r="12.6"/><circle cx="789.5" cy="630" r="10.5"/><circle cx="818" cy="628.5" r="11.5"/><rect x="779" y="628" width="50.5" height="13" rx="5"/></g><g fill="#4b7f2a"><path d="M798.7,641.2 A13.3,10.4 0 0 1 825.3,641.2 Z"/><ellipse cx="803.3" cy="632.5" rx="2.9" ry="7.5" transform="rotate(-40 803.3 638.3)"/><ellipse cx="807.4" cy="632.5" rx="2.9" ry="7.5" transform="rotate(-20 807.4 638.3)"/><ellipse cx="812" cy="632.5" rx="2.9" ry="7.5" transform="rotate(0 812 638.3)"/><ellipse cx="816.6" cy="632.5" rx="2.9" ry="7.5" transform="rotate(20 816.6 638.3)"/><ellipse cx="820.7" cy="632.5" rx="2.9" ry="7.5" transform="rotate(40 820.7 638.3)"/></g><ellipse cx="603.5" cy="390.8" rx="16.2" ry="1.1" fill="#000" opacity="0.13"/><clipPath id="c676"><rect x="603.5" y="333.2" width="36" height="59.6"/></clipPath><g fill="#5e9a2a"><circle cx="603.5" cy="345" r="9.7"/><circle cx="596.7" cy="357.2" r="10.1"/><circle cx="610.3" cy="357.2" r="10.1"/><circle cx="596.7" cy="370.2" r="11.2"/><circle cx="610.3" cy="370.2" r="11.2"/><circle cx="603.5" cy="364.2" r="10.8"/></g><g fill="#4b7f2a" clip-path="url(#c676)"><circle cx="603.5" cy="345" r="9.7"/><circle cx="596.7" cy="357.2" r="10.1"/><circle cx="610.3" cy="357.2" r="10.1"/><circle cx="596.7" cy="370.2" r="11.2"/><circle cx="610.3" cy="370.2" r="11.2"/><circle cx="603.5" cy="364.2" r="10.8"/></g><polygon points="601.5,390.8 601.9,350.1 605.1,350.1 605.5,390.8" fill="#7d4b2a"/><line x1="603.5" y1="367.9" x2="594.5" y2="360.9" stroke="#7d4b2a" stroke-width="2.2" stroke-linecap="round"/><line x1="603.5" y1="374.9" x2="612.5" y2="366" stroke="#7d4b2a" stroke-width="2.2" stroke-linecap="round"/><ellipse cx="635.2" cy="399" rx="17.6" ry="1.1" fill="#000" opacity="0.13"/><clipPath id="c683"><rect x="635.2" y="341.9" width="39" height="59.1"/></clipPath><g fill="#5e9a2a"><circle cx="635.2" cy="353.6" r="10.5"/><circle cx="627.8" cy="365.7" r="10.9"/><circle cx="642.6" cy="365.7" r="10.9"/><circle cx="627.8" cy="378.6" r="12.1"/><circle cx="642.6" cy="378.6" r="12.1"/><circle cx="635.2" cy="372.6" r="11.7"/></g><g fill="#4b7f2a" clip-path="url(#c683)"><circle cx="635.2" cy="353.6" r="10.5"/><circle cx="627.8" cy="365.7" r="10.9"/><circle cx="642.6" cy="365.7" r="10.9"/><circle cx="627.8" cy="378.6" r="12.1"/><circle cx="642.6" cy="378.6" r="12.1"/><circle cx="635.2" cy="372.6" r="11.7"/></g><polygon points="633.1,399 633.5,358.7 636.9,358.7 637.3,399" fill="#7d4b2a"/><line x1="635.2" y1="376.3" x2="625.5" y2="369.4" stroke="#7d4b2a" stroke-width="2.4" stroke-linecap="round"/><line x1="635.2" y1="383.2" x2="645" y2="374.4" stroke="#7d4b2a" stroke-width="2.4" stroke-linecap="round"/><ellipse cx="621.8" cy="258.3" rx="8.6" ry="1.1" fill="#000" opacity="0.13"/><polygon points="617,231.8 622,231.8 620.6,257.4 617.7,257.4" fill="#1d1d1b"/><polygon points="621.6,231.8 626.6,231.8 625.9,257.4 623,257.4" fill="#1d1d1b"/><rect x="616.5" y="257.1" width="4.3" height="1.5" fill="#1d1d1b" rx="0.7"/><rect x="622.7" y="257.1" width="4.3" height="1.5" fill="#1d1d1b" rx="0.7"/><path d="M619.6,214.7 L624,214.7 Q627.4,215.1 627.4,218.7 L626.7,234 L616.9,234 L616.2,218.7 Q616.2,215.1 619.6,214.7 Z" fill="#0095db"/><line x1="616.4" y1="216.5" x2="615.8" y2="229.9" stroke="#0086c5" stroke-width="2.5" stroke-linecap="round"/><polyline points="627.2,216.5 628.4,224.8 634.4,221.8" fill="none" stroke="#0095db" stroke-width="2.5" stroke-linejoin="round" stroke-linecap="round"/><circle cx="635.8" cy="221.3" r="1.3" fill="#f2c9a8"/><rect x="620.6" y="212.7" width="2.4" height="3" fill="#f2c9a8"/><ellipse cx="621.8" cy="210.5" rx="3" ry="3.8" fill="#f2c9a8"/><path d="M618.5,210.5 Q618,205.7 621.8,205.5 Q625.6,205.7 625.1,210.5 Q621.8,207.4 618.5,210.5 Z" fill="#2b2b2b"/><ellipse cx="654" cy="253.1" rx="8.3" ry="1.1" fill="#000" opacity="0.13"/><polygon points="649.4,227.7 654.2,227.7 652.8,252.2 650,252.2" fill="#1d1d1b"/><polygon points="653.8,227.7 658.6,227.7 658,252.2 655.2,252.2" fill="#1d1d1b"/><rect x="649" y="251.9" width="4.2" height="1.5" fill="#1d1d1b" rx="0.7"/><rect x="654.9" y="251.9" width="4.2" height="1.5" fill="#1d1d1b" rx="0.7"/><path d="M651.9,211.3 L656.1,211.3 Q659.3,211.6 659.3,215.1 L658.7,229.8 L649.3,229.8 L648.7,215.1 Q648.7,211.6 651.9,211.3 Z" fill="#1f2a4f"/><line x1="649.1" y1="213" x2="648.6" y2="226.3" stroke="#1b2547" stroke-width="2.4" stroke-linecap="round"/><line x1="658.9" y1="213" x2="659.4" y2="226.3" stroke="#1b2547" stroke-width="2.4" stroke-linecap="round"/><circle cx="648.5" cy="228.1" r="1.2" fill="#f2c9a8"/><circle cx="659.5" cy="228.1" r="1.2" fill="#f2c9a8"/><rect x="652.8" y="209.3" width="2.3" height="2.9" fill="#f2c9a8"/><ellipse cx="654" cy="207.2" rx="2.9" ry="3.7" fill="#f2c9a8"/><path d="M650.3,215.5 Q649.7,202.9 654,202.5 Q658.3,202.9 657.7,215.5 L656.3,215.5 Q656.9,205.6 654,205 Q651.1,205.6 651.7,215.5 Z" fill="#1d1d1b"/><ellipse cx="683.4" cy="358.4" rx="8.5" ry="1.1" fill="#000" opacity="0.13"/><polygon points="678.7,332.4 683.6,332.4 682.2,357.5 679.3,357.5" fill="#3f7a2a"/><polygon points="683.2,332.4 688.1,332.4 687.5,357.5 684.6,357.5" fill="#3f7a2a"/><rect x="678.2" y="357.2" width="4.3" height="1.5" fill="#1d1d1b" rx="0.7"/><rect x="684.3" y="357.2" width="4.3" height="1.5" fill="#1d1d1b" rx="0.7"/><path d="M681.2,315.6 L685.6,315.6 Q688.9,315.9 688.9,319.5 L688.2,334.5 L678.6,334.5 L677.9,319.5 Q677.9,315.9 681.2,315.6 Z" fill="#2a4d7c"/><polyline points="678.4,317.3 675.1,325 678.6,330" fill="none" stroke="#2a4d7c" stroke-width="2.5" stroke-linejoin="round" stroke-linecap="round"/><polyline points="688.4,317.3 691.7,325 688.2,330" fill="none" stroke="#2a4d7c" stroke-width="2.5" stroke-linejoin="round" stroke-linecap="round"/><circle cx="678.6" cy="330.3" r="1.3" fill="#f2c9a8"/><circle cx="688.2" cy="330.3" r="1.3" fill="#f2c9a8"/><rect x="682.2" y="313.6" width="2.4" height="3" fill="#f2c9a8"/><ellipse cx="683.4" cy="311.4" rx="3" ry="3.8" fill="#f2c9a8"/><path d="M680.1,311.4 Q679.6,306.7 683.4,306.5 Q687.2,306.7 686.7,311.4 Q683.4,308.4 680.1,311.4 Z" fill="#2b2b2b"/><rect x="681.4" y="316" width="4" height="14" fill="#0095db"/><ellipse cx="1029.1" cy="363.7" rx="76.4" ry="45.1" fill="#a9b800" opacity="0.7"/><path d="M956.7,344.7 L956.7,361.2 A72.4,42.6 0 0 0 1101.5,361.2 L1101.5,344.7 Z" fill="#cfcfcf"/><ellipse cx="1029.1" cy="344.7" rx="72.4" ry="42.6" fill="#f3f3f1"/><ellipse cx="1029.1" cy="345.9" rx="67.8" ry="38.8" fill="#dcdcda"/><ellipse cx="1029.1" cy="345.1" rx="67.4" ry="37.6" fill="#0095db"/><path d="M1020.3,341.6 L1020.3,346 A8.7,5 0 0 0 1037.7,346 L1037.7,341.6 Z" fill="#d5dde1"/><ellipse cx="1029" cy="341.6" rx="8.7" ry="5" fill="#f2f2f0"/><polygon points="1018.3,333.6 1024.9,331.4 1091.8,365.6 1085.2,369.2" fill="#7a7a78" opacity="0.55"/><g stroke="#6a6a68" stroke-width="0.9" fill="none"><path d="M1018.3,333.6 L1085.2,369.2 M1024.9,331.4 L1091.8,365.6 M1018.3,318.6 L1085.2,356.7 M1024.9,316.4 L1091.8,353.1"/><path d="M1018.3,333.6 L1018.3,318.6"/><path d="M1024.9,331.4 L1024.9,316.4"/><path d="M1029.4,339.5 L1029.4,324.9"/><path d="M1036,337.1 L1036,322.5"/><path d="M1040.6,345.5 L1040.6,331.3"/><path d="M1047.2,342.8 L1047.2,328.6"/><path d="M1051.8,351.4 L1051.8,337.6"/><path d="M1058.3,348.5 L1058.3,334.8"/><path d="M1062.9,357.3 L1062.9,344"/><path d="M1069.5,354.2 L1069.5,340.9"/><path d="M1074,363.3 L1074,350.3"/><path d="M1080.6,359.9 L1080.6,347"/><path d="M1085.2,369.2 L1085.2,356.7"/><path d="M1091.8,365.6 L1091.8,353.1"/><path d="M1018.3,318.6 L1024.9,316.4 M1018.3,333.6 L1024.9,331.4"/></g><g stroke="#6a6a68" stroke-width="0.9" fill="none"><path d="M1085.2,359.2 L1085.2,395.6 M1091.8,355.6 L1091.8,392.7"/><path d="M1085.2,372.4 L1091.8,369.8"/><path d="M1085.2,375.9 L1091.8,373.3"/><path d="M1085.2,379.4 L1091.8,376.8"/><path d="M1085.2,382.9 L1091.8,380.3"/><path d="M1085.2,386.4 L1091.8,383.8"/><path d="M1085.2,389.9 L1091.8,387.3"/><path d="M1085.2,393.4 L1091.8,390.8"/></g><ellipse cx="1209.4" cy="363.7" rx="76.4" ry="45.1" fill="#a9b800" opacity="0.7"/><path d="M1137,344.7 L1137,361.2 A72.4,42.6 0 0 0 1281.8,361.2 L1281.8,344.7 Z" fill="#cfcfcf"/><ellipse cx="1209.4" cy="344.7" rx="72.4" ry="42.6" fill="#f3f3f1"/><ellipse cx="1209.4" cy="345.9" rx="67.8" ry="38.8" fill="#dcdcda"/><ellipse cx="1209.4" cy="345.1" rx="67.4" ry="37.6" fill="#0095db"/><path d="M1200.6,341.6 L1200.6,346 A8.7,5 0 0 0 1218,346 L1218,341.6 Z" fill="#d5dde1"/><ellipse cx="1209.3" cy="341.6" rx="8.7" ry="5" fill="#f2f2f0"/><polygon points="1198.6,333.6 1205.2,331.4 1272.1,365.6 1265.5,369.2" fill="#7a7a78" opacity="0.55"/><g stroke="#6a6a68" stroke-width="0.9" fill="none"><path d="M1198.6,333.6 L1265.5,369.2 M1205.2,331.4 L1272.1,365.6 M1198.6,318.6 L1265.5,356.7 M1205.2,316.4 L1272.1,353.1"/><path d="M1198.6,333.6 L1198.6,318.6"/><path d="M1205.2,331.4 L1205.2,316.4"/><path d="M1209.8,339.5 L1209.8,324.9"/><path d="M1216.3,337.1 L1216.3,322.5"/><path d="M1220.9,345.5 L1220.9,331.3"/><path d="M1227.5,342.8 L1227.5,328.6"/><path d="M1232.1,351.4 L1232.1,337.6"/><path d="M1238.7,348.5 L1238.7,334.8"/><path d="M1243.2,357.3 L1243.2,344"/><path d="M1249.8,354.2 L1249.8,340.9"/><path d="M1254.3,363.3 L1254.3,350.3"/><path d="M1260.9,359.9 L1260.9,347"/><path d="M1265.5,369.2 L1265.5,356.7"/><path d="M1272.1,365.6 L1272.1,353.1"/><path d="M1198.6,318.6 L1205.2,316.4 M1198.6,333.6 L1205.2,331.4"/></g><g stroke="#6a6a68" stroke-width="0.9" fill="none"><path d="M1265.5,359.2 L1265.5,395.6 M1272.1,355.6 L1272.1,392.7"/><path d="M1265.5,372.4 L1272.1,369.8"/><path d="M1265.5,375.9 L1272.1,373.3"/><path d="M1265.5,379.4 L1272.1,376.8"/><path d="M1265.5,382.9 L1272.1,380.3"/><path d="M1265.5,386.4 L1272.1,383.8"/><path d="M1265.5,389.9 L1272.1,387.3"/><path d="M1265.5,393.4 L1272.1,390.8"/></g><rect x="1280" y="334.8" width="73" height="5.2" fill="#7d4b2a"/><g transform="translate(693.2,185.2) scale(1)"><path d="M-6,4.4 Q-6.6,-1 -3,-3.6 Q0.5,-5.6 3.6,-3.4 Q6.4,-1 6,4.4 Z" fill="#9a7a3a"/><path d="M0.5,-4.6 Q4,-4.6 5.6,-1 Q6.3,1 6,4.4 L2.5,4.4 Q4,0 0.5,-4.6Z" fill="#84662e"/><ellipse cx="-4.6" cy="2.2" rx="2.5" ry="2.1" fill="#8a6a30"/><circle cx="-5.6" cy="1.6" r="0.5" fill="#2b2b2b"/><rect x="-5" y="4" width="10.5" height="1.1" rx="0.5" fill="#5a4020"/></g><g transform="translate(1172,204.8) scale(1)"><path d="M-6,4.4 Q-6.6,-1 -3,-3.6 Q0.5,-5.6 3.6,-3.4 Q6.4,-1 6,4.4 Z" fill="#9a7a3a"/><path d="M0.5,-4.6 Q4,-4.6 5.6,-1 Q6.3,1 6,4.4 L2.5,4.4 Q4,0 0.5,-4.6Z" fill="#84662e"/><ellipse cx="-4.6" cy="2.2" rx="2.5" ry="2.1" fill="#8a6a30"/><circle cx="-5.6" cy="1.6" r="0.5" fill="#2b2b2b"/><rect x="-5" y="4" width="10.5" height="1.1" rx="0.5" fill="#5a4020"/></g><g transform="translate(1028,300) rotate(-28)"><ellipse cx="0" cy="0" rx="3.4" ry="5.2" fill="#8a6a3a"/><circle cx="-1.4" cy="-4.8" r="2.3" fill="#7a5a2e"/><path d="M1,4 L8.5,7.5 L8,9 L0,6 Z" fill="#5a4020" transform="rotate(28)"/></g><g transform="translate(828.7,130) rotate(90) scale(1.1)"><path d="M-4.5,0 C-3,-2 1,-2 3,-0.3 L5.2,-1.8 L5.2,1.8 L3,0.3 C1,2 -3,2 -4.5,0Z" fill="#e8f4fb"/></g><g transform="translate(736,243) rotate(90) scale(1.1)"><path d="M-4.5,0 C-3,-2 1,-2 3,-0.3 L5.2,-1.8 L5.2,1.8 L3,0.3 C1,2 -3,2 -4.5,0Z" fill="#e8f4fb"/></g><g transform="translate(967,159) scale(-1.2,1.2)"><path d="M-4.5,0 C-3,-2 1,-2 3,-0.3 L5.2,-1.8 L5.2,1.8 L3,0.3 C1,2 -3,2 -4.5,0Z" fill="#e8f4fb"/></g><g transform="translate(1037,136.5) scale(-1.2,1.2)"><path d="M-4.5,0 C-3,-2 1,-2 3,-0.3 L5.2,-1.8 L5.2,1.8 L3,0.3 C1,2 -3,2 -4.5,0Z" fill="#e8f4fb"/></g><g transform="translate(883.5,203) scale(-1.1,1.1)"><path d="M-4.5,0 C-3,-2 1,-2 3,-0.3 L5.2,-1.8 L5.2,1.8 L3,0.3 C1,2 -3,2 -4.5,0Z" fill="#e8f4fb"/></g><g transform="translate(892.5,284) scale(-1.2,1.2)"><path d="M-4.5,0 C-3,-2 1,-2 3,-0.3 L5.2,-1.8 L5.2,1.8 L3,0.3 C1,2 -3,2 -4.5,0Z" fill="#e8f4fb"/></g><g transform="translate(835,385) scale(-1.2,1.2)"><path d="M-4.5,0 C-3,-2 1,-2 3,-0.3 L5.2,-1.8 L5.2,1.8 L3,0.3 C1,2 -3,2 -4.5,0Z" fill="#e8f4fb"/></g><g transform="translate(1177,221.2) scale(-1.2,1.2)"><path d="M-4.5,0 C-3,-2 1,-2 3,-0.3 L5.2,-1.8 L5.2,1.8 L3,0.3 C1,2 -3,2 -4.5,0Z" fill="#e8f4fb"/></g><g transform="translate(1283,251) scale(-1.2,1.2)"><path d="M-4.5,0 C-3,-2 1,-2 3,-0.3 L5.2,-1.8 L5.2,1.8 L3,0.3 C1,2 -3,2 -4.5,0Z" fill="#e8f4fb"/></g><g transform="translate(1276.5,198) scale(-0.9,0.9)"><path d="M-4.5,0 C-3,-2 1,-2 3,-0.3 L5.2,-1.8 L5.2,1.8 L3,0.3 C1,2 -3,2 -4.5,0Z" fill="#e07a1f"/></g><g transform="translate(1255,228) scale(-0.9,0.9)"><path d="M-4.5,0 C-3,-2 1,-2 3,-0.3 L5.2,-1.8 L5.2,1.8 L3,0.3 C1,2 -3,2 -4.5,0Z" fill="#e07a1f"/></g><ellipse cx="983" cy="428.5" rx="14.7" ry="1.1" fill="#000" opacity="0.13"/><path d="M983,375.5 C978.4,375.5 973.7,388.4 968.3,405.3 C966,412.4 970.6,414.7 976.5,414.7 L983,413.5 Z" fill="#5e9a2a"/><path d="M982.6,375.6 C987.6,375.5 992.3,388.4 997.7,405.3 C1000,412.4 995.4,414.7 989.5,414.7 L983,413.5 Z" fill="#4b7f2a"/><polygon points="980.4,428.5 981.2,389.6 984.8,389.6 985.6,428.5" fill="#7d4b2a"/><line x1="983" y1="406.9" x2="976.5" y2="403" stroke="#7d4b2a" stroke-width="2.2" stroke-linecap="round"/><line x1="983" y1="403" x2="988" y2="395.9" stroke="#7d4b2a" stroke-width="2.2" stroke-linecap="round"/><ellipse cx="982" cy="488.1" rx="14.7" ry="1.1" fill="#000" opacity="0.13"/><path d="M982,434.9 C977.4,434.9 972.7,447.9 967.3,464.8 C965,471.9 969.6,474.3 975.5,474.3 L982,473.1 Z" fill="#5e9a2a"/><path d="M981.6,435 C986.6,434.9 991.3,447.9 996.7,464.8 C999,471.9 994.4,474.3 988.5,474.3 L982,473.1 Z" fill="#4b7f2a"/><polygon points="979.4,488.1 980.2,449.1 983.8,449.1 984.6,488.1" fill="#7d4b2a"/><line x1="982" y1="466.4" x2="975.5" y2="462.5" stroke="#7d4b2a" stroke-width="2.2" stroke-linecap="round"/><line x1="982" y1="462.5" x2="987" y2="455.4" stroke="#7d4b2a" stroke-width="2.2" stroke-linecap="round"/><ellipse cx="983.4" cy="551.2" rx="14.7" ry="1.1" fill="#000" opacity="0.13"/><path d="M983.4,498 C978.8,498 974.1,511 968.7,527.9 C966.4,535 971,537.4 976.9,537.4 L983.4,536.2 Z" fill="#5e9a2a"/><path d="M983,498.1 C988,498 992.7,511 998.1,527.9 C1000.4,535 995.8,537.4 989.9,537.4 L983.4,536.2 Z" fill="#4b7f2a"/><polygon points="980.8,551.2 981.6,512.2 985.2,512.2 986,551.2" fill="#7d4b2a"/><line x1="983.4" y1="529.5" x2="976.9" y2="525.6" stroke="#7d4b2a" stroke-width="2.2" stroke-linecap="round"/><line x1="983.4" y1="525.6" x2="988.4" y2="518.5" stroke="#7d4b2a" stroke-width="2.2" stroke-linecap="round"/><ellipse cx="986.3" cy="613.2" rx="14.7" ry="1.1" fill="#000" opacity="0.13"/><path d="M986.3,560 C981.6,560 977,573 971.6,589.9 C969.2,597 973.9,599.4 979.8,599.4 L986.3,598.2 Z" fill="#5e9a2a"/><path d="M985.9,560.1 C990.9,560 995.6,573 1001,589.9 C1003.3,597 998.7,599.4 992.8,599.4 L986.3,598.2 Z" fill="#4b7f2a"/><polygon points="983.7,613.2 984.5,574.2 988.1,574.2 988.9,613.2" fill="#7d4b2a"/><line x1="986.3" y1="591.5" x2="979.8" y2="587.6" stroke="#7d4b2a" stroke-width="2.2" stroke-linecap="round"/><line x1="986.3" y1="587.6" x2="991.3" y2="580.5" stroke="#7d4b2a" stroke-width="2.2" stroke-linecap="round"/><ellipse cx="1072.1" cy="522.2" rx="14.7" ry="1.1" fill="#000" opacity="0.13"/><path d="M1072.1,468.9 C1067.4,468.9 1062.8,481.9 1057.4,498.9 C1055,506 1059.7,508.3 1065.6,508.3 L1072.1,507.2 Z" fill="#5e9a2a"/><path d="M1071.7,469 C1076.8,468.9 1081.4,481.9 1086.8,498.9 C1089.1,506 1084.5,508.3 1078.6,508.3 L1072.1,507.2 Z" fill="#4b7f2a"/><polygon points="1069.5,522.2 1070.3,483.1 1073.9,483.1 1074.7,522.2" fill="#7d4b2a"/><line x1="1072.1" y1="500.5" x2="1065.6" y2="496.5" stroke="#7d4b2a" stroke-width="2.2" stroke-linecap="round"/><line x1="1072.1" y1="496.5" x2="1077.1" y2="489.4" stroke="#7d4b2a" stroke-width="2.2" stroke-linecap="round"/><ellipse cx="1112" cy="594.9" rx="9.7" ry="1.1" fill="#000" opacity="0.13"/><path d="M1112,560.6 C1108.9,560.6 1105.8,569 1102.3,579.9 C1100.7,584.5 1103.8,586 1107.7,586 L1112,585.2 Z" fill="#5e9a2a"/><path d="M1111.6,560.8 C1115.1,560.6 1118.2,569 1121.7,579.9 C1123.3,584.5 1120.2,586 1116.3,586 L1112,585.2 Z" fill="#4b7f2a"/><polygon points="1110.3,594.9 1110.8,569.7 1113.2,569.7 1113.7,594.9" fill="#7d4b2a"/><line x1="1112" y1="580.9" x2="1107.7" y2="578.4" stroke="#7d4b2a" stroke-width="1.5" stroke-linecap="round"/><line x1="1112" y1="578.4" x2="1115.3" y2="573.8" stroke="#7d4b2a" stroke-width="1.5" stroke-linecap="round"/><ellipse cx="1308.9" cy="543.1" rx="11.2" ry="1.1" fill="#000" opacity="0.13"/><path d="M1308.9,503.8 C1305.4,503.8 1301.9,513.4 1297.7,525.9 C1296,531.1 1299.5,532.9 1304,532.9 L1308.9,532 Z" fill="#5e9a2a"/><path d="M1308.5,503.9 C1312.4,503.8 1316,513.4 1320.1,525.9 C1321.8,531.1 1318.3,532.9 1313.8,532.9 L1308.9,532 Z" fill="#4b7f2a"/><polygon points="1306.9,543.1 1307.5,514.3 1310.3,514.3 1310.9,543.1" fill="#7d4b2a"/><line x1="1308.9" y1="527.1" x2="1304" y2="524.2" stroke="#7d4b2a" stroke-width="1.7" stroke-linecap="round"/><line x1="1308.9" y1="524.2" x2="1312.7" y2="518.9" stroke="#7d4b2a" stroke-width="1.7" stroke-linecap="round"/><ellipse cx="1189.9" cy="496.9" rx="17.6" ry="1.1" fill="#000" opacity="0.13"/><clipPath id="c867"><rect x="1189.9" y="439.3" width="39" height="59.6"/></clipPath><g fill="#5e9a2a"><circle cx="1189.9" cy="451.1" r="10.5"/><circle cx="1182.5" cy="463.3" r="10.9"/><circle cx="1197.3" cy="463.3" r="10.9"/><circle cx="1182.5" cy="476.3" r="12.1"/><circle cx="1197.3" cy="476.3" r="12.1"/><circle cx="1189.9" cy="470.3" r="11.7"/></g><g fill="#4b7f2a" clip-path="url(#c867)"><circle cx="1189.9" cy="451.1" r="10.5"/><circle cx="1182.5" cy="463.3" r="10.9"/><circle cx="1197.3" cy="463.3" r="10.9"/><circle cx="1182.5" cy="476.3" r="12.1"/><circle cx="1197.3" cy="476.3" r="12.1"/><circle cx="1189.9" cy="470.3" r="11.7"/></g><polygon points="1187.8,496.9 1188.2,456.2 1191.6,456.2 1192,496.9" fill="#7d4b2a"/><line x1="1189.9" y1="474" x2="1180.2" y2="467" stroke="#7d4b2a" stroke-width="2.4" stroke-linecap="round"/><line x1="1189.9" y1="481" x2="1199.7" y2="472.1" stroke="#7d4b2a" stroke-width="2.4" stroke-linecap="round"/><ellipse cx="1226" cy="496.9" rx="11.2" ry="1.1" fill="#000" opacity="0.13"/><clipPath id="c874"><rect x="1226" y="459.1" width="25" height="39.8"/></clipPath><g fill="#5e9a2a"><circle cx="1226" cy="467.4" r="6.8"/><circle cx="1221.2" cy="475.2" r="7"/><circle cx="1230.8" cy="475.2" r="7"/><circle cx="1221.2" cy="483.7" r="7.8"/><circle cx="1230.8" cy="483.7" r="7.8"/><circle cx="1226" cy="479.7" r="7.5"/></g><g fill="#4b7f2a" clip-path="url(#c874)"><circle cx="1226" cy="467.4" r="6.8"/><circle cx="1221.2" cy="475.2" r="7"/><circle cx="1230.8" cy="475.2" r="7"/><circle cx="1221.2" cy="483.7" r="7.8"/><circle cx="1230.8" cy="483.7" r="7.8"/><circle cx="1226" cy="479.7" r="7.5"/></g><polygon points="1224.6,496.9 1224.9,470.7 1227.1,470.7 1227.4,496.9" fill="#7d4b2a"/><line x1="1226" y1="482.2" x2="1219.8" y2="477.6" stroke="#7d4b2a" stroke-width="1.5" stroke-linecap="round"/><line x1="1226" y1="486.7" x2="1232.2" y2="480.9" stroke="#7d4b2a" stroke-width="1.5" stroke-linecap="round"/><ellipse cx="1259.7" cy="595.5" rx="17.6" ry="1.1" fill="#000" opacity="0.13"/><clipPath id="c881"><rect x="1259.7" y="538.2" width="39" height="59.3"/></clipPath><g fill="#5e9a2a"><circle cx="1259.7" cy="550" r="10.5"/><circle cx="1252.3" cy="562" r="10.9"/><circle cx="1267.1" cy="562" r="10.9"/><circle cx="1252.3" cy="575" r="12.1"/><circle cx="1267.1" cy="575" r="12.1"/><circle cx="1259.7" cy="569" r="11.7"/></g><g fill="#4b7f2a" clip-path="url(#c881)"><circle cx="1259.7" cy="550" r="10.5"/><circle cx="1252.3" cy="562" r="10.9"/><circle cx="1267.1" cy="562" r="10.9"/><circle cx="1252.3" cy="575" r="12.1"/><circle cx="1267.1" cy="575" r="12.1"/><circle cx="1259.7" cy="569" r="11.7"/></g><polygon points="1257.6,595.5 1258,555.1 1261.4,555.1 1261.8,595.5" fill="#7d4b2a"/><line x1="1259.7" y1="572.7" x2="1250" y2="565.7" stroke="#7d4b2a" stroke-width="2.4" stroke-linecap="round"/><line x1="1259.7" y1="579.7" x2="1269.5" y2="570.9" stroke="#7d4b2a" stroke-width="2.4" stroke-linecap="round"/><ellipse cx="1262.7" cy="467.4" rx="18.5" ry="1.1" fill="#000" opacity="0.13"/><rect x="1247.5" y="445" width="29.6" height="9.4" fill="#7d4b2a"/><rect x="1244.9" y="457.1" width="35.5" height="5.8" fill="#7d4b2a"/><rect x="1244.2" y="451" width="2.4" height="16.4" fill="#7d4b2a"/><rect x="1278.8" y="451" width="2.4" height="16.4" fill="#7d4b2a"/><polygon points="1247.1,453.5 1255.1,453.5 1254.9,457.9 1247.3,457.9" fill="#6a6a6a"/><polygon points="1247.3,455.2 1250.7,455.2 1250.2,468.2 1247.8,468.2" fill="#6a6a6a"/><polygon points="1251.5,455.2 1254.9,455.2 1254.4,468.2 1252,468.2" fill="#6a6a6a"/><rect x="1247.1" y="467.9" width="3.4" height="1.3" fill="#1d1d1b" rx="0.5"/><rect x="1251.7" y="467.9" width="3.4" height="1.3" fill="#1d1d1b" rx="0.5"/><path d="M1249.2,441.8 L1253,441.8 Q1256.3,442.2 1256.3,445.3 L1255.3,455.2 L1246.9,455.2 L1245.9,445.3 Q1245.9,442.2 1249.2,441.8 Z" fill="#3d4a1f"/><line x1="1246.3" y1="443.4" x2="1246" y2="452.3" stroke="#36421b" stroke-width="2.3" stroke-linecap="round"/><line x1="1255.9" y1="443.4" x2="1256.2" y2="452.3" stroke="#36421b" stroke-width="2.3" stroke-linecap="round"/><rect x="1250.1" y="440.1" width="2.1" height="2.6" fill="#f2c9a8"/><ellipse cx="1251.1" cy="438.1" rx="2.6" ry="3.3" fill="#f2c9a8"/><path d="M1248.2,438.1 Q1247.8,434 1251.1,433.9 Q1254.4,434 1254,438.1 Q1251.1,435.5 1248.2,438.1 Z" fill="#3a2a20"/><ellipse cx="1319.6" cy="425.5" rx="9.3" ry="1.1" fill="#000" opacity="0.13"/><polygon points="1314.5,396.9 1319.8,396.9 1318.3,424.5 1315.1,424.5" fill="#1d1d1b"/><polygon points="1319.4,396.9 1324.7,396.9 1324.1,424.5 1320.9,424.5" fill="#1d1d1b"/><rect x="1313.9" y="424.2" width="4.7" height="1.6" fill="#1d1d1b" rx="0.8"/><rect x="1320.6" y="424.2" width="4.7" height="1.6" fill="#1d1d1b" rx="0.8"/><path d="M1317.2,378.5 L1322,378.5 Q1325.6,378.9 1325.6,382.8 L1324.8,399.3 L1314.4,399.3 L1313.6,382.8 Q1313.6,378.9 1317.2,378.5 Z" fill="#2b2b2b"/><line x1="1314" y1="380.4" x2="1313.8" y2="388.3" stroke="#2b2b2b" stroke-width="2.7" stroke-linecap="round"/><line x1="1325.2" y1="380.4" x2="1325.4" y2="388.3" stroke="#2b2b2b" stroke-width="2.7" stroke-linecap="round"/><line x1="1314" y1="388.6" x2="1324.2" y2="387.2" stroke="#262626" stroke-width="2.7" stroke-linecap="round"/><line x1="1325.2" y1="388.6" x2="1316" y2="389.7" stroke="#262626" stroke-width="2.7" stroke-linecap="round"/><circle cx="1324.6" cy="387" r="1.3" fill="#8b5a3c"/><circle cx="1315" cy="389.8" r="1.3" fill="#8b5a3c"/><rect x="1318.3" y="376.3" width="2.6" height="3.3" fill="#8b5a3c"/><ellipse cx="1319.6" cy="373.9" rx="3.3" ry="4.1" fill="#8b5a3c"/><path d="M1316,373.9 Q1315.5,368.8 1319.6,368.6 Q1323.7,368.8 1323.2,373.9 Q1319.6,370.6 1316,373.9 Z" fill="#1d1d1b"/><ellipse cx="1111.7" cy="415.7" rx="8.4" ry="1.1" fill="#000" opacity="0.13"/><polygon points="1107.1,389.8 1111.9,389.8 1110.5,414.8 1107.6,414.8" fill="#8a8a8a"/><polygon points="1111.5,389.8 1116.3,389.8 1115.8,414.8 1112.9,414.8" fill="#8a8a8a"/><rect x="1106.6" y="414.5" width="4.3" height="1.5" fill="#1d1d1b" rx="0.7"/><rect x="1112.6" y="414.5" width="4.3" height="1.5" fill="#1d1d1b" rx="0.7"/><path d="M1109.5,373.1 L1113.9,373.1 Q1117.1,373.5 1117.1,377.1 L1116.4,392 L1107,392 L1106.3,377.1 Q1106.3,373.5 1109.5,373.1 Z" fill="#1f2a4f"/><line x1="1106.8" y1="374.9" x2="1106.2" y2="388.4" stroke="#1b2547" stroke-width="2.5" stroke-linecap="round"/><line x1="1116.6" y1="374.9" x2="1117.2" y2="388.4" stroke="#1b2547" stroke-width="2.5" stroke-linecap="round"/><circle cx="1106.1" cy="390.2" r="1.2" fill="#f2c9a8"/><circle cx="1117.3" cy="390.2" r="1.2" fill="#f2c9a8"/><rect x="1110.5" y="371.1" width="2.4" height="3" fill="#f2c9a8"/><ellipse cx="1111.7" cy="368.9" rx="3" ry="3.8" fill="#f2c9a8"/><path d="M1108.4,368.9 Q1107.9,364.3 1111.7,364.1 Q1115.5,364.3 1115,368.9 Q1111.7,366 1108.4,368.9 Z" fill="#b8b8b8"/><rect x="1104.5" y="381.5" width="5.5" height="3" fill="#6a6a6a" rx="0.5"/><ellipse cx="1139.6" cy="523.9" rx="8.4" ry="1.1" fill="#000" opacity="0.13"/><polygon points="1134.9,498 1139.8,498 1138.4,523 1135.5,523" fill="#7d4b2a"/><polygon points="1139.4,498 1144.3,498 1143.7,523 1140.8,523" fill="#7d4b2a"/><rect x="1134.4" y="522.7" width="4.3" height="1.5" fill="#1d1d1b" rx="0.7"/><rect x="1140.5" y="522.7" width="4.3" height="1.5" fill="#1d1d1b" rx="0.7"/><path d="M1137.4,481.2 L1141.8,481.2 Q1145,481.6 1145,485.2 L1144.4,500.1 L1134.8,500.1 L1134.2,485.2 Q1134.2,481.6 1137.4,481.2 Z" fill="#0e9aa0"/><polyline points="1134.6,483 1131.4,490.6 1134.8,495.6" fill="none" stroke="#0e9aa0" stroke-width="2.5" stroke-linejoin="round" stroke-linecap="round"/><polyline points="1144.6,483 1147.8,490.6 1144.4,495.6" fill="none" stroke="#0e9aa0" stroke-width="2.5" stroke-linejoin="round" stroke-linecap="round"/><circle cx="1134.8" cy="495.9" r="1.3" fill="#8b5a3c"/><circle cx="1144.4" cy="495.9" r="1.3" fill="#8b5a3c"/><rect x="1138.4" y="479.2" width="2.4" height="3" fill="#8b5a3c"/><ellipse cx="1139.6" cy="477.1" rx="3" ry="3.8" fill="#8b5a3c"/><path d="M1136.3,477.1 Q1135.8,472.4 1139.6,472.2 Q1143.4,472.4 1142.9,477.1 Q1139.6,474.1 1136.3,477.1 Z" fill="#1d1d1b"/><circle cx="1139.6" cy="472.6" r="1.7" fill="#1d1d1b"/><ellipse cx="1201.3" cy="564" rx="8.1" ry="1.1" fill="#000" opacity="0.13"/><polygon points="1198.1,540.1 1201,540.1 1200.4,563.2 1198.5,563.2" fill="#1f2a4f"/><polygon points="1201.6,540.1 1204.5,540.1 1204.1,563.2 1202.2,563.2" fill="#1f2a4f"/><polygon points="1197.1,538.6 1205.5,538.6 1206,545.8 1196.6,545.8" fill="#1f2a4f"/><rect x="1196.4" y="562.9" width="4.1" height="1.4" fill="#1f2a4f" rx="0.7"/><rect x="1202.2" y="562.9" width="4.1" height="1.4" fill="#1f2a4f" rx="0.7"/><path d="M1199.2,523.1 L1203.4,523.1 Q1206.5,523.4 1206.5,526.9 L1205.9,541.2 L1196.7,541.2 L1196.1,526.9 Q1196.1,523.4 1199.2,523.1 Z" fill="#7a4a2e"/><line x1="1196.5" y1="524.8" x2="1196" y2="537.8" stroke="#6d4229" stroke-width="2.4" stroke-linecap="round"/><line x1="1206" y1="524.8" x2="1206.6" y2="537.8" stroke="#6d4229" stroke-width="2.4" stroke-linecap="round"/><circle cx="1195.9" cy="539.5" r="1.2" fill="#f2c9a8"/><circle cx="1206.7" cy="539.5" r="1.2" fill="#f2c9a8"/><rect x="1200.2" y="521.2" width="2.3" height="2.9" fill="#f2c9a8"/><ellipse cx="1201.3" cy="519.1" rx="2.8" ry="3.6" fill="#f2c9a8"/><path d="M1198.2,519.1 Q1197.7,514.6 1201.3,514.4 Q1204.9,514.6 1204.4,519.1 Q1201.3,516.2 1198.2,519.1 Z" fill="#e0a050"/><ellipse cx="1062.5" cy="569.3" rx="18" ry="1.1" fill="#000" opacity="0.13"/><rect x="1047.7" y="547.8" width="28.9" height="9" fill="#7d4b2a"/><rect x="1045.2" y="559.4" width="34.7" height="5.6" fill="#7d4b2a"/><rect x="1044.5" y="553.6" width="2.3" height="15.7" fill="#7d4b2a"/><rect x="1078.3" y="553.6" width="2.3" height="15.7" fill="#7d4b2a"/><polygon points="1046.9,555.9 1054.9,555.9 1054.7,560.3 1047.1,560.3" fill="#2b2b2b"/><polygon points="1047.1,557.6 1050.5,557.6 1050,570.6 1047.6,570.6" fill="#2b2b2b"/><polygon points="1051.3,557.6 1054.7,557.6 1054.2,570.6 1051.8,570.6" fill="#2b2b2b"/><rect x="1046.9" y="570.3" width="3.4" height="1.3" fill="#1d1d1b" rx="0.5"/><rect x="1051.5" y="570.3" width="3.4" height="1.3" fill="#1d1d1b" rx="0.5"/><path d="M1049,544.2 L1052.8,544.2 Q1056.1,544.6 1056.1,547.7 L1055.1,557.6 L1046.7,557.6 L1045.7,547.7 Q1045.7,544.6 1049,544.2 Z" fill="#2a4d7c"/><line x1="1046.1" y1="545.8" x2="1045.8" y2="554.7" stroke="#25456f" stroke-width="2.3" stroke-linecap="round"/><line x1="1055.7" y1="545.8" x2="1056" y2="554.7" stroke="#25456f" stroke-width="2.3" stroke-linecap="round"/><rect x="1049.9" y="542.5" width="2.1" height="2.6" fill="#f2c9a8"/><ellipse cx="1050.9" cy="540.5" rx="2.6" ry="3.3" fill="#f2c9a8"/><path d="M1047.6,548 Q1047.1,536.7 1050.9,536.4 Q1054.7,536.7 1054.2,548 L1053,548 Q1053.5,539.1 1050.9,538.6 Q1048.3,539.1 1048.8,548 Z" fill="#3a2020"/><ellipse cx="1082" cy="570" rx="6.9" ry="1.1" fill="#000" opacity="0.13"/><polygon points="1078.2,548.7 1082.2,548.7 1081,569.2 1078.7,569.2" fill="#1d1d1b"/><polygon points="1081.8,548.7 1085.8,548.7 1085.3,569.2 1083,569.2" fill="#1d1d1b"/><rect x="1077.8" y="569" width="3.5" height="1.2" fill="#1d1d1b" rx="0.6"/><rect x="1082.7" y="569" width="3.5" height="1.2" fill="#1d1d1b" rx="0.6"/><path d="M1080.2,535 L1083.8,535 Q1086.5,535.3 1086.5,538.2 L1085.9,550.5 L1078.1,550.5 L1077.5,538.2 Q1077.5,535.3 1080.2,535 Z" fill="#0095db"/><line x1="1086.3" y1="536.4" x2="1086.8" y2="547.2" stroke="#0086c5" stroke-width="2" stroke-linecap="round"/><polyline points="1077.7,536.4 1076.7,543.1 1071.9,540.7" fill="none" stroke="#0095db" stroke-width="2" stroke-linejoin="round" stroke-linecap="round"/><circle cx="1070.8" cy="540.3" r="1.1" fill="#f2c9a8"/><rect x="1081" y="533.4" width="1.9" height="2.4" fill="#f2c9a8"/><ellipse cx="1082" cy="531.6" rx="2.4" ry="3.1" fill="#f2c9a8"/><path d="M1079.3,531.6 Q1078.9,527.8 1082,527.6 Q1085.1,527.8 1084.7,531.6 Q1082,529.1 1079.3,531.6 Z" fill="#1d1d1b"/><ellipse cx="1157.1" cy="625.1" rx="8.3" ry="1.1" fill="#000" opacity="0.13"/><polygon points="1152.8,600.4 1157.5,600.4 1153.2,624.2 1150.2,624.2" fill="#1d1d1b"/><polygon points="1156.7,600.4 1161.4,600.4 1164,624.2 1161,624.2" fill="#1d1d1b"/><rect x="1149.3" y="623.9" width="4.3" height="1.5" fill="#f0f0f0" rx="0.7"/><rect x="1160.6" y="623.9" width="4.3" height="1.5" fill="#f0f0f0" rx="0.7"/><path d="M1154.9,582.9 L1159.3,582.9 Q1162.5,583.3 1162.5,586.8 L1161.8,601.6 L1152.4,601.6 L1151.7,586.8 Q1151.7,583.3 1154.9,582.9 Z" fill="#1d1d1b"/><line x1="1152.2" y1="584.7" x2="1151.6" y2="598.1" stroke="#1a1a18" stroke-width="2.4" stroke-linecap="round"/><line x1="1162" y1="584.7" x2="1162.6" y2="598.1" stroke="#1a1a18" stroke-width="2.4" stroke-linecap="round"/><circle cx="1151.5" cy="599.9" r="1.2" fill="#f2c9a8"/><circle cx="1162.7" cy="599.9" r="1.2" fill="#f2c9a8"/><rect x="1155.9" y="581" width="2.3" height="2.9" fill="#f2c9a8"/><ellipse cx="1157.1" cy="578.8" rx="2.9" ry="3.7" fill="#f2c9a8"/><path d="M1153.9,578.8 Q1153.4,574.2 1157.1,574 Q1160.8,574.2 1160.3,578.8 Q1157.1,575.9 1153.9,578.8 Z" fill="#e0a050"/><ellipse cx="1190.8" cy="609.4" rx="14.2" ry="1.1" fill="#000" opacity="0.13"/><rect x="1179.1" y="592" width="22.8" height="7.3" fill="#7d4b2a"/><rect x="1177.1" y="601.4" width="27.4" height="4.5" fill="#7d4b2a"/><rect x="1176.5" y="596.7" width="1.9" height="12.7" fill="#7d4b2a"/><rect x="1203.1" y="596.7" width="1.9" height="12.7" fill="#7d4b2a"/><ellipse cx="1305.4" cy="274.9" rx="8.3" ry="1.1" fill="#000" opacity="0.13"/><polygon points="1300.8,249.2 1305.6,249.2 1304.2,274 1301.4,274" fill="#1f2a4f"/><polygon points="1305.2,249.2 1310,249.2 1309.4,274 1306.6,274" fill="#1f2a4f"/><rect x="1300.3" y="273.7" width="4.2" height="1.5" fill="#1d1d1b" rx="0.7"/><rect x="1306.3" y="273.7" width="4.2" height="1.5" fill="#1d1d1b" rx="0.7"/><path d="M1303.2,232.6 L1307.6,232.6 Q1310.8,233 1310.8,236.6 L1310.1,251.4 L1300.7,251.4 L1300,236.6 Q1300,233 1303.2,232.6 Z" fill="#b5c832"/><line x1="1300.5" y1="234.4" x2="1299.9" y2="247.8" stroke="#a2b42d" stroke-width="2.5" stroke-linecap="round"/><line x1="1310.3" y1="234.4" x2="1310.9" y2="247.8" stroke="#a2b42d" stroke-width="2.5" stroke-linecap="round"/><circle cx="1299.8" cy="249.6" r="1.2" fill="#f2c9a8"/><circle cx="1311" cy="249.6" r="1.2" fill="#f2c9a8"/><rect x="1304.2" y="230.7" width="2.4" height="2.9" fill="#f2c9a8"/><ellipse cx="1305.4" cy="228.5" rx="2.9" ry="3.7" fill="#f2c9a8"/><path d="M1302.2,228.5 Q1301.7,223.9 1305.4,223.7 Q1309.1,223.9 1308.6,228.5 Q1305.4,225.6 1302.2,228.5 Z" fill="#e8e8e8"/><line x1="1296.5" y1="249" x2="1296.5" y2="275" stroke="#5a4a42" stroke-width="0.9"/><g transform="translate(1129.2,120.9) scale(1)"><ellipse cx="56" cy="45.6" rx="56" ry="1.6" fill="#000" opacity="0.15"/><path d="M3,15 L5.4,3.5 Q6,0.5 9.5,0.4 L47.9,0.4 Q54,0.6 59,3.2 L83.8,17.6 L105,22.8 Q111,25 111.6,29.5 L111.9,37.7 Q111.6,40 109,40 L3,39.6 Q0.2,39.3 0,36.5 L1,27 Z" fill="#fff"/><path d="M2.2,23.9 L47.9,24.3 Q80,24.6 101.1,27.3 L103.5,31.5 Q80,28.6 47.9,30.8 L1.4,30.5 Z" fill="#0080c8"/><path d="M0.6,30.5 L9,30.7 L9,39.8 L3,39.6 Q0.2,39.3 0,36.5 Z" fill="#8a8a8e"/><path d="M100,28 L111.3,28.4 L111.9,37.7 Q111.6,40 109,40 L100,40 Z" fill="#8a8a8e"/><path d="M28.5,31.6 L76,30.8 L76,33 L28.5,33.8 Z" fill="#8a8a8e"/><path d="M29,34.6 L75,34 L75,35 L29,35.6 Z" fill="#c8d400"/><path d="M51,4.8 L60,5.6 L84,19.5 L51,19.2 Z" fill="#6e6f72"/><path d="M53,6.4 L59.4,7 L78.5,18 L53,17.8 Z" fill="#98999c"/><path d="M70,11.5 L72.5,13 L72.5,19.4 L70,19.4 Z" fill="#fff"/><rect x="3" y="16" width="2.8" height="10.5" rx="1" fill="#c4002a"/><path d="M97,21.8 L107.5,24.5 L108.5,27 L98.5,25.3 Z" fill="#dcdcdc"/><path d="M11,10.3 L37,10.3" stroke="#1a8fd0" stroke-width="1.9"/><path d="M22,7.8 L35,7.8" stroke="#1a8fd0" stroke-width="0.6"/><circle cx="41.5" cy="9.6" r="2.7" fill="#2aa0d8"/><path d="M37.5,6.6 Q42,4.8 44.8,9" stroke="#c8d400" stroke-width="0.8" fill="none"/><line x1="50" y1="2" x2="50" y2="39" stroke="#d4d4d4" stroke-width="0.5"/><rect x="42" y="21" width="4.5" height="1" fill="#9a9a9a"/><rect x="52" y="22" width="4.5" height="1" fill="#6a6a6a"/><path d="M8,40 A10.6,10.6 0 0 1 29.2,40 Z" fill="#4a4a4e"/><circle cx="18.6" cy="37.8" r="8.6" fill="#6a6a6e"/><circle cx="18.6" cy="37.8" r="6.3" fill="#eeeef0"/><circle cx="18.6" cy="37.8" r="4.6" fill="none" stroke="#b8b8bc" stroke-width="1.4" stroke-dasharray="1.6 1.3"/><circle cx="18.6" cy="37.8" r="1.6" fill="#b0b0b4"/><path d="M78,40 A10.6,10.6 0 0 1 99.2,40 Z" fill="#4a4a4e"/><circle cx="88.6" cy="37.8" r="8.6" fill="#6a6a6e"/><circle cx="88.6" cy="37.8" r="6.3" fill="#eeeef0"/><circle cx="88.6" cy="37.8" r="4.6" fill="none" stroke="#b8b8bc" stroke-width="1.4" stroke-dasharray="1.6 1.3"/><circle cx="88.6" cy="37.8" r="1.6" fill="#b0b0b4"/></g><ellipse cx="1195.6" cy="170.3" rx="7.8" ry="1.1" fill="#000" opacity="0.13"/><polygon points="1191.3,146.2 1195.8,146.2 1194.5,169.5 1191.8,169.5" fill="#2a4d7c"/><polygon points="1195.4,146.2 1199.9,146.2 1199.4,169.5 1196.7,169.5" fill="#2a4d7c"/><rect x="1190.8" y="169.2" width="4" height="1.4" fill="#1d1d1b" rx="0.6"/><rect x="1196.4" y="169.2" width="4" height="1.4" fill="#1d1d1b" rx="0.6"/><path d="M1193.6,130.6 L1197.6,130.6 Q1200.7,131 1200.7,134.3 L1200,148.2 L1191.2,148.2 L1190.5,134.3 Q1190.5,131 1193.6,130.6 Z" fill="#1f2a4f"/><line x1="1200.5" y1="132.3" x2="1201" y2="144.4" stroke="#1b2547" stroke-width="2.3" stroke-linecap="round"/><polyline points="1190.7,132.3 1189.6,139.8 1184.1,137.1" fill="none" stroke="#1f2a4f" stroke-width="2.3" stroke-linejoin="round" stroke-linecap="round"/><circle cx="1182.9" cy="136.6" r="1.2" fill="#f2c9a8"/><rect x="1194.5" y="128.8" width="2.2" height="2.8" fill="#f2c9a8"/><ellipse cx="1195.6" cy="126.8" rx="2.8" ry="3.5" fill="#f2c9a8"/><path d="M1192.6,126.8 Q1192.1,122.4 1195.6,122.2 Q1199.1,122.4 1198.6,126.8 Q1195.6,124 1192.6,126.8 Z" fill="#1d1d1b"/><ellipse cx="1291" cy="166.5" rx="9.1" ry="1.1" fill="#000" opacity="0.13"/><polygon points="1286,138.4 1291.2,138.4 1289.7,165.5 1286.6,165.5" fill="#2a4d7c"/><polygon points="1290.8,138.4 1296,138.4 1295.4,165.5 1292.3,165.5" fill="#2a4d7c"/><rect x="1285.4" y="165.2" width="4.6" height="1.6" fill="#1f2a4f" rx="0.8"/><rect x="1292" y="165.2" width="4.6" height="1.6" fill="#1f2a4f" rx="0.8"/><path d="M1288.6,120.2 L1293.4,120.2 Q1296.9,120.7 1296.9,124.5 L1296.2,140.7 L1285.8,140.7 L1285.1,124.5 Q1285.1,120.7 1288.6,120.2 Z" fill="#2a4d9c"/><polygon points="1290.4,120.2 1291.6,120.2 1291.9,130.4 1291,132 1290.1,130.4" fill="#7d4b2a"/><polyline points="1285.6,122.2 1282.1,130.4 1285.8,135.8" fill="none" stroke="#2a4d9c" stroke-width="2.7" stroke-linejoin="round" stroke-linecap="round"/><polyline points="1296.4,122.2 1299.9,130.4 1296.2,135.8" fill="none" stroke="#2a4d9c" stroke-width="2.7" stroke-linejoin="round" stroke-linecap="round"/><circle cx="1285.8" cy="136.1" r="1.4" fill="#f2c9a8"/><circle cx="1296.2" cy="136.1" r="1.4" fill="#f2c9a8"/><rect x="1289.7" y="118.1" width="2.6" height="3.2" fill="#f2c9a8"/><ellipse cx="1291" cy="115.7" rx="3.2" ry="4.1" fill="#f2c9a8"/><path d="M1287.5,115.7 Q1286.9,110.7 1291,110.5 Q1295.1,110.7 1294.5,115.7 Q1291,112.5 1287.5,115.7 Z" fill="#8a4a20"/><rect x="1403.7" y="100" width="167.8" height="50" fill="#e3d9cf"/><rect x="1399.3" y="95" width="175.5" height="5" fill="#6e6e6e"/><rect x="1410.4" y="106.7" width="10" height="9.1" fill="#7ec5e3"/><rect x="1410.4" y="124.8" width="10" height="9.4" fill="#7ec5e3"/><rect x="1425.5" y="106.7" width="10" height="9.1" fill="#7ec5e3"/><rect x="1425.5" y="124.8" width="10" height="9.4" fill="#7ec5e3"/><rect x="1442.3" y="106.7" width="10" height="9.1" fill="#7ec5e3"/><rect x="1442.3" y="124.8" width="10" height="9.4" fill="#7ec5e3"/><rect x="1458.4" y="106.7" width="10" height="9.1" fill="#7ec5e3"/><rect x="1458.4" y="124.8" width="10" height="9.4" fill="#7ec5e3"/><rect x="1475.2" y="106.7" width="10" height="9.1" fill="#7ec5e3"/><rect x="1475.2" y="124.8" width="10" height="9.4" fill="#7ec5e3"/><rect x="1491" y="106.7" width="10" height="9.1" fill="#7ec5e3"/><rect x="1491" y="124.8" width="10" height="9.4" fill="#7ec5e3"/><rect x="1385.9" y="147.7" width="115.1" height="9.3" fill="#d6cfc9"/><rect x="1491" y="157" width="82.5" height="55" fill="#d2cbc5"/><path d="M1564,128.5 L1573.5,128.5 L1573.5,212 L1564,212 Z" fill="#d2cbc5"/><path d="M1328.5,208.8 L1573.5,208.8 L1573.5,212 Q1573.5,221.6 1563,221.6 L1341,221.6 Z" fill="#d2cbc5"/><rect x="1564" y="100" width="9.5" height="112" fill="#d8d1cb"/><rect x="1323.2" y="0" width="62.7" height="156" fill="#5f5f5f"/><rect x="1328.2" y="6" width="10" height="9" fill="#7ec5e3"/><rect x="1342.4" y="6" width="10" height="9" fill="#7ec5e3"/><rect x="1356.7" y="6" width="10" height="9" fill="#7ec5e3"/><rect x="1371" y="6" width="10" height="9" fill="#7ec5e3"/><rect x="1328.2" y="20.2" width="10" height="9" fill="#7ec5e3"/><rect x="1342.4" y="20.2" width="10" height="9" fill="#7ec5e3"/><rect x="1356.7" y="20.2" width="10" height="9" fill="#7ec5e3"/><rect x="1371" y="20.2" width="10" height="9" fill="#7ec5e3"/><rect x="1328.2" y="34.5" width="10" height="9" fill="#7ec5e3"/><rect x="1342.4" y="34.5" width="10" height="9" fill="#7ec5e3"/><rect x="1356.7" y="34.5" width="10" height="9" fill="#7ec5e3"/><rect x="1371" y="34.5" width="10" height="9" fill="#7ec5e3"/><rect x="1328.2" y="48.8" width="10" height="9" fill="#7ec5e3"/><rect x="1342.4" y="48.8" width="10" height="9" fill="#7ec5e3"/><rect x="1356.7" y="48.8" width="10" height="9" fill="#7ec5e3"/><rect x="1371" y="48.8" width="10" height="9" fill="#7ec5e3"/><rect x="1328.2" y="63" width="10" height="9" fill="#7ec5e3"/><rect x="1342.4" y="63" width="10" height="9" fill="#7ec5e3"/><rect x="1356.7" y="63" width="10" height="9" fill="#7ec5e3"/><rect x="1371" y="63" width="10" height="9" fill="#7ec5e3"/><rect x="1328.2" y="77.2" width="10" height="9" fill="#7ec5e3"/><rect x="1342.4" y="77.2" width="10" height="9" fill="#7ec5e3"/><rect x="1356.7" y="77.2" width="10" height="9" fill="#7ec5e3"/><rect x="1371" y="77.2" width="10" height="9" fill="#7ec5e3"/><rect x="1328.2" y="91.5" width="10" height="9" fill="#7ec5e3"/><rect x="1342.4" y="91.5" width="10" height="9" fill="#7ec5e3"/><rect x="1356.7" y="91.5" width="10" height="9" fill="#7ec5e3"/><rect x="1371" y="91.5" width="10" height="9" fill="#7ec5e3"/><rect x="1328.2" y="105.8" width="10" height="9" fill="#7ec5e3"/><rect x="1342.4" y="105.8" width="10" height="9" fill="#7ec5e3"/><rect x="1356.7" y="105.8" width="10" height="9" fill="#7ec5e3"/><rect x="1371" y="105.8" width="10" height="9" fill="#7ec5e3"/><rect x="1328.2" y="120" width="10" height="9" fill="#7ec5e3"/><rect x="1342.4" y="120" width="10" height="9" fill="#7ec5e3"/><rect x="1356.7" y="120" width="10" height="9" fill="#7ec5e3"/><rect x="1371" y="120" width="10" height="9" fill="#7ec5e3"/><rect x="1328.2" y="134.2" width="10" height="9" fill="#7ec5e3"/><rect x="1371" y="134.2" width="10" height="9" fill="#7ec5e3"/><rect x="1343.3" y="133.6" width="22.8" height="22" fill="#9d9d9c"/><line x1="1354.7" y1="133.6" x2="1354.7" y2="155.6" stroke="#7a7a7a" stroke-width="0.6"/><rect x="1323.2" y="162.4" width="167.8" height="46.6" fill="#e3d9cf"/><rect x="1318.8" y="156.4" width="175.5" height="6" fill="#6e6e6e"/><rect x="1329.2" y="168.8" width="10" height="9.1" fill="#7ec5e3"/><rect x="1329.2" y="187.2" width="10" height="9.8" fill="#7ec5e3"/><rect x="1345" y="168.8" width="10" height="9.1" fill="#7ec5e3"/><rect x="1345" y="187.2" width="10" height="9.8" fill="#7ec5e3"/><rect x="1361.1" y="168.8" width="10" height="9.1" fill="#7ec5e3"/><rect x="1361.1" y="187.2" width="10" height="9.8" fill="#7ec5e3"/><rect x="1377.9" y="168.8" width="10" height="9.1" fill="#7ec5e3"/><rect x="1377.9" y="187.2" width="10" height="9.8" fill="#7ec5e3"/><rect x="1394.3" y="168.8" width="10" height="9.1" fill="#7ec5e3"/><rect x="1394.3" y="187.2" width="10" height="9.8" fill="#7ec5e3"/><rect x="1410.4" y="168.8" width="10" height="9.1" fill="#7ec5e3"/><rect x="1410.4" y="187.2" width="10" height="9.8" fill="#7ec5e3"/><rect x="1426.5" y="168.8" width="10" height="9.1" fill="#7ec5e3"/><rect x="1426.5" y="187.2" width="10" height="9.8" fill="#7ec5e3"/><rect x="1442.3" y="168.8" width="10" height="9.1" fill="#7ec5e3"/><rect x="1442.3" y="187.2" width="10" height="9.8" fill="#7ec5e3"/><rect x="1458.4" y="168.8" width="10" height="9.1" fill="#7ec5e3"/><rect x="1458.4" y="187.2" width="10" height="9.8" fill="#7ec5e3"/><rect x="1474.2" y="168.8" width="10" height="9.1" fill="#7ec5e3"/><rect x="1469" y="186" width="15" height="23" fill="#9d9d9c"/><rect x="1501" y="55.4" width="63.1" height="155.6" fill="#8e8e8e"/><rect x="1506" y="61.1" width="10" height="9" fill="#7ec5e3"/><rect x="1520.4" y="61.1" width="10" height="9" fill="#7ec5e3"/><rect x="1534.7" y="61.1" width="10" height="9" fill="#7ec5e3"/><rect x="1549" y="61.1" width="10" height="9" fill="#7ec5e3"/><rect x="1506" y="75.3" width="10" height="9" fill="#7ec5e3"/><rect x="1520.4" y="75.3" width="10" height="9" fill="#7ec5e3"/><rect x="1534.7" y="75.3" width="10" height="9" fill="#7ec5e3"/><rect x="1549" y="75.3" width="10" height="9" fill="#7ec5e3"/><rect x="1506" y="89.5" width="10" height="9" fill="#7ec5e3"/><rect x="1520.4" y="89.5" width="10" height="9" fill="#7ec5e3"/><rect x="1534.7" y="89.5" width="10" height="9" fill="#7ec5e3"/><rect x="1549" y="89.5" width="10" height="9" fill="#7ec5e3"/><rect x="1506" y="103.7" width="10" height="9" fill="#7ec5e3"/><rect x="1520.4" y="103.7" width="10" height="9" fill="#7ec5e3"/><rect x="1534.7" y="103.7" width="10" height="9" fill="#7ec5e3"/><rect x="1549" y="103.7" width="10" height="9" fill="#7ec5e3"/><rect x="1506" y="117.9" width="10" height="9" fill="#7ec5e3"/><rect x="1520.4" y="117.9" width="10" height="9" fill="#7ec5e3"/><rect x="1534.7" y="117.9" width="10" height="9" fill="#7ec5e3"/><rect x="1549" y="117.9" width="10" height="9" fill="#7ec5e3"/><rect x="1506" y="132.1" width="10" height="9" fill="#7ec5e3"/><rect x="1520.4" y="132.1" width="10" height="9" fill="#7ec5e3"/><rect x="1534.7" y="132.1" width="10" height="9" fill="#7ec5e3"/><rect x="1549" y="132.1" width="10" height="9" fill="#7ec5e3"/><rect x="1506" y="146.3" width="10" height="9" fill="#7ec5e3"/><rect x="1520.4" y="146.3" width="10" height="9" fill="#7ec5e3"/><rect x="1534.7" y="146.3" width="10" height="9" fill="#7ec5e3"/><rect x="1549" y="146.3" width="10" height="9" fill="#7ec5e3"/><rect x="1506" y="160.5" width="10" height="9" fill="#7ec5e3"/><rect x="1520.4" y="160.5" width="10" height="9" fill="#7ec5e3"/><rect x="1534.7" y="160.5" width="10" height="9" fill="#7ec5e3"/><rect x="1549" y="160.5" width="10" height="9" fill="#7ec5e3"/><rect x="1506" y="174.7" width="10" height="9" fill="#7ec5e3"/><rect x="1520.4" y="174.7" width="10" height="9" fill="#7ec5e3"/><rect x="1534.7" y="174.7" width="10" height="9" fill="#7ec5e3"/><rect x="1549" y="174.7" width="10" height="9" fill="#7ec5e3"/><rect x="1506" y="188.9" width="10" height="9" fill="#7ec5e3"/><rect x="1549" y="188.9" width="10" height="9" fill="#7ec5e3"/><rect x="1520.5" y="188.6" width="24.1" height="22.4" fill="#6e6e6e"/><line x1="1532.5" y1="188.6" x2="1532.5" y2="211" stroke="#8a8a8a" stroke-width="0.6"/><ellipse cx="1391.3" cy="134" rx="9" ry="1.1" fill="#000" opacity="0.13"/><path d="M1391.3,102 C1388.5,102 1385.6,109.8 1382.3,120 C1380.8,124.3 1383.7,125.7 1387.3,125.7 L1391.3,125 Z" fill="#5e9a2a"/><path d="M1390.9,102.2 C1394.1,102 1397,109.8 1400.3,120 C1401.8,124.3 1398.9,125.7 1395.3,125.7 L1391.3,125 Z" fill="#4b7f2a"/><polygon points="1389.7,134 1390.2,110.5 1392.4,110.5 1392.9,134" fill="#7d4b2a"/><line x1="1391.3" y1="120.9" x2="1387.3" y2="118.6" stroke="#7d4b2a" stroke-width="1.4" stroke-linecap="round"/><line x1="1391.3" y1="118.6" x2="1394.3" y2="114.3" stroke="#7d4b2a" stroke-width="1.4" stroke-linecap="round"/><ellipse cx="1403.7" cy="154" rx="9.5" ry="1.1" fill="#000" opacity="0.13"/><path d="M1403.7,121 C1400.7,121 1397.7,129.1 1394.2,139.6 C1392.7,144 1395.7,145.4 1399.5,145.4 L1403.7,144.7 Z" fill="#5e9a2a"/><path d="M1403.3,121.2 C1406.7,121 1409.7,129.1 1413.2,139.6 C1414.7,144 1411.7,145.4 1407.9,145.4 L1403.7,144.7 Z" fill="#4b7f2a"/><polygon points="1402,154 1402.5,129.8 1404.9,129.8 1405.4,154" fill="#7d4b2a"/><line x1="1403.7" y1="140.5" x2="1399.5" y2="138.1" stroke="#7d4b2a" stroke-width="1.4" stroke-linecap="round"/><line x1="1403.7" y1="138.1" x2="1406.9" y2="133.7" stroke="#7d4b2a" stroke-width="1.4" stroke-linecap="round"/><ellipse cx="1453.4" cy="152.5" rx="5.2" ry="1.1" fill="#000" opacity="0.13"/><polygon points="1450.5,136.4 1453.5,136.4 1452.7,152 1450.9,152" fill="#1d1d1b"/><polygon points="1453.3,136.4 1456.3,136.4 1455.9,152 1454.1,152" fill="#1d1d1b"/><rect x="1450.2" y="151.8" width="2.6" height="0.9" fill="#1d1d1b" rx="0.4"/><rect x="1454" y="151.8" width="2.6" height="0.9" fill="#1d1d1b" rx="0.4"/><path d="M1452.1,126.1 L1454.7,126.1 Q1456.8,126.3 1456.8,128.5 L1456.3,137.8 L1450.5,137.8 L1450,128.5 Q1450,126.3 1452.1,126.1 Z" fill="#2b2b2b"/><line x1="1450.3" y1="127.2" x2="1450.1" y2="131.6" stroke="#2b2b2b" stroke-width="1.5" stroke-linecap="round"/><line x1="1456.5" y1="127.2" x2="1456.7" y2="131.6" stroke="#2b2b2b" stroke-width="1.5" stroke-linecap="round"/><line x1="1450.3" y1="131.8" x2="1456" y2="131" stroke="#262626" stroke-width="1.5" stroke-linecap="round"/><line x1="1456.5" y1="131.8" x2="1451.4" y2="132.4" stroke="#262626" stroke-width="1.5" stroke-linecap="round"/><circle cx="1456.2" cy="130.9" r="0.7" fill="#f2c9a8"/><circle cx="1450.8" cy="132.5" r="0.7" fill="#f2c9a8"/><rect x="1452.7" y="124.8" width="1.5" height="1.8" fill="#f2c9a8"/><ellipse cx="1453.4" cy="123.5" rx="1.8" ry="2.3" fill="#f2c9a8"/><path d="M1451.4,123.5 Q1451.1,120.6 1453.4,120.5 Q1455.7,120.6 1455.4,123.5 Q1453.4,121.7 1451.4,123.5 Z" fill="#1d1d1b"/><ellipse cx="1333.9" cy="218.5" rx="9.5" ry="1.1" fill="#000" opacity="0.13"/><path d="M1333.9,185.6 C1330.9,185.6 1327.9,193.6 1324.4,204.1 C1322.9,208.5 1325.9,209.9 1329.7,209.9 L1333.9,209.2 Z" fill="#5e9a2a"/><path d="M1333.5,185.8 C1336.9,185.6 1339.9,193.6 1343.4,204.1 C1344.9,208.5 1341.9,209.9 1338.1,209.9 L1333.9,209.2 Z" fill="#4b7f2a"/><polygon points="1332.2,218.5 1332.7,194.4 1335.1,194.4 1335.6,218.5" fill="#7d4b2a"/><line x1="1333.9" y1="205.1" x2="1329.7" y2="202.6" stroke="#7d4b2a" stroke-width="1.4" stroke-linecap="round"/><line x1="1333.9" y1="202.6" x2="1337.1" y2="198.3" stroke="#7d4b2a" stroke-width="1.4" stroke-linecap="round"/><ellipse cx="1366.8" cy="218.5" rx="9.5" ry="1.1" fill="#000" opacity="0.13"/><path d="M1366.8,185.6 C1363.8,185.6 1360.8,193.6 1357.3,204.1 C1355.8,208.5 1358.8,209.9 1362.6,209.9 L1366.8,209.2 Z" fill="#5e9a2a"/><path d="M1366.4,185.8 C1369.8,185.6 1372.8,193.6 1376.3,204.1 C1377.8,208.5 1374.8,209.9 1371,209.9 L1366.8,209.2 Z" fill="#4b7f2a"/><polygon points="1365.1,218.5 1365.6,194.4 1368,194.4 1368.5,218.5" fill="#7d4b2a"/><line x1="1366.8" y1="205.1" x2="1362.6" y2="202.6" stroke="#7d4b2a" stroke-width="1.4" stroke-linecap="round"/><line x1="1366.8" y1="202.6" x2="1370" y2="198.3" stroke="#7d4b2a" stroke-width="1.4" stroke-linecap="round"/><ellipse cx="1402.7" cy="218.5" rx="9.5" ry="1.1" fill="#000" opacity="0.13"/><path d="M1402.7,185.6 C1399.7,185.6 1396.7,193.6 1393.2,204.1 C1391.7,208.5 1394.7,209.9 1398.5,209.9 L1402.7,209.2 Z" fill="#5e9a2a"/><path d="M1402.3,185.8 C1405.7,185.6 1408.7,193.6 1412.2,204.1 C1413.7,208.5 1410.7,209.9 1406.9,209.9 L1402.7,209.2 Z" fill="#4b7f2a"/><polygon points="1401,218.5 1401.5,194.4 1403.9,194.4 1404.4,218.5" fill="#7d4b2a"/><line x1="1402.7" y1="205.1" x2="1398.5" y2="202.6" stroke="#7d4b2a" stroke-width="1.4" stroke-linecap="round"/><line x1="1402.7" y1="202.6" x2="1405.9" y2="198.3" stroke="#7d4b2a" stroke-width="1.4" stroke-linecap="round"/><ellipse cx="1438.9" cy="218.5" rx="9.5" ry="1.1" fill="#000" opacity="0.13"/><path d="M1438.9,185.6 C1435.9,185.6 1432.9,193.6 1429.4,204.1 C1427.9,208.5 1430.9,209.9 1434.7,209.9 L1438.9,209.2 Z" fill="#5e9a2a"/><path d="M1438.5,185.8 C1441.9,185.6 1444.9,193.6 1448.4,204.1 C1449.9,208.5 1446.9,209.9 1443.1,209.9 L1438.9,209.2 Z" fill="#4b7f2a"/><polygon points="1437.2,218.5 1437.7,194.4 1440.1,194.4 1440.6,218.5" fill="#7d4b2a"/><line x1="1438.9" y1="205.1" x2="1434.7" y2="202.6" stroke="#7d4b2a" stroke-width="1.4" stroke-linecap="round"/><line x1="1438.9" y1="202.6" x2="1442.1" y2="198.3" stroke="#7d4b2a" stroke-width="1.4" stroke-linecap="round"/><ellipse cx="1474.8" cy="218.5" rx="9.5" ry="1.1" fill="#000" opacity="0.13"/><path d="M1474.8,185.6 C1471.8,185.6 1468.8,193.6 1465.3,204.1 C1463.8,208.5 1466.8,209.9 1470.6,209.9 L1474.8,209.2 Z" fill="#5e9a2a"/><path d="M1474.4,185.8 C1477.8,185.6 1480.8,193.6 1484.3,204.1 C1485.8,208.5 1482.8,209.9 1479,209.9 L1474.8,209.2 Z" fill="#4b7f2a"/><polygon points="1473.1,218.5 1473.6,194.4 1476,194.4 1476.5,218.5" fill="#7d4b2a"/><line x1="1474.8" y1="205.1" x2="1470.6" y2="202.6" stroke="#7d4b2a" stroke-width="1.4" stroke-linecap="round"/><line x1="1474.8" y1="202.6" x2="1478" y2="198.3" stroke="#7d4b2a" stroke-width="1.4" stroke-linecap="round"/><ellipse cx="1511.1" cy="218.5" rx="9.5" ry="1.1" fill="#000" opacity="0.13"/><path d="M1511.1,185.6 C1508.1,185.6 1505.1,193.6 1501.6,204.1 C1500.1,208.5 1503.1,209.9 1506.9,209.9 L1511.1,209.2 Z" fill="#5e9a2a"/><path d="M1510.7,185.8 C1514.1,185.6 1517.1,193.6 1520.6,204.1 C1522.1,208.5 1519.1,209.9 1515.3,209.9 L1511.1,209.2 Z" fill="#4b7f2a"/><polygon points="1509.4,218.5 1509.9,194.4 1512.3,194.4 1512.8,218.5" fill="#7d4b2a"/><line x1="1511.1" y1="205.1" x2="1506.9" y2="202.6" stroke="#7d4b2a" stroke-width="1.4" stroke-linecap="round"/><line x1="1511.1" y1="202.6" x2="1514.3" y2="198.3" stroke="#7d4b2a" stroke-width="1.4" stroke-linecap="round"/><ellipse cx="1552" cy="218.5" rx="9.5" ry="1.1" fill="#000" opacity="0.13"/><path d="M1552,185.6 C1549,185.6 1546,193.6 1542.5,204.1 C1541,208.5 1544,209.9 1547.8,209.9 L1552,209.2 Z" fill="#5e9a2a"/><path d="M1551.6,185.8 C1555,185.6 1558,193.6 1561.5,204.1 C1563,208.5 1560,209.9 1556.2,209.9 L1552,209.2 Z" fill="#4b7f2a"/><polygon points="1550.3,218.5 1550.8,194.4 1553.2,194.4 1553.7,218.5" fill="#7d4b2a"/><line x1="1552" y1="205.1" x2="1547.8" y2="202.6" stroke="#7d4b2a" stroke-width="1.4" stroke-linecap="round"/><line x1="1552" y1="202.6" x2="1555.2" y2="198.3" stroke="#7d4b2a" stroke-width="1.4" stroke-linecap="round"/><rect x="1398" y="232.6" width="166" height="47.6" fill="#e3d9cf"/><rect x="1393" y="227.5" width="176" height="5.4" fill="#6e6e6e"/><rect x="1403.7" y="239" width="10.5" height="10" fill="#7ec5e3"/><rect x="1420.5" y="239" width="10.5" height="10" fill="#7ec5e3"/><rect x="1436.6" y="239" width="10.5" height="10" fill="#7ec5e3"/><rect x="1452.3" y="239" width="10.5" height="10" fill="#7ec5e3"/><rect x="1468.5" y="239" width="10.5" height="10" fill="#7ec5e3"/><rect x="1468.5" y="257.7" width="10.5" height="10.1" fill="#7ec5e3"/><rect x="1484.2" y="239" width="10.5" height="10" fill="#7ec5e3"/><rect x="1484.2" y="257.7" width="10.5" height="10.1" fill="#7ec5e3"/><rect x="1501" y="239" width="10.5" height="10" fill="#7ec5e3"/><rect x="1501" y="257.7" width="10.5" height="10.1" fill="#7ec5e3"/><rect x="1517.1" y="239" width="10.5" height="10" fill="#7ec5e3"/><rect x="1517.1" y="257.7" width="10.5" height="10.1" fill="#7ec5e3"/><rect x="1532.9" y="239" width="10.5" height="10" fill="#7ec5e3"/><rect x="1548.7" y="239" width="10.5" height="10" fill="#7ec5e3"/><rect x="1544" y="256.7" width="14.7" height="23.1" fill="#9d9d9c"/><rect x="1586.3" y="98.5" width="76.7" height="124.2" fill="#b5ccc6"/><rect x="1627.4" y="110.8" width="11.7" height="11.8" fill="#7ec5e3"/><rect x="1644.6" y="110.8" width="11.7" height="11.8" fill="#7ec5e3"/><rect x="1592.8" y="110.8" width="30" height="6.5" fill="#7ec5e3"/><rect x="1591.3" y="115.8" width="33" height="7.3" fill="#5c5c5c"/><rect x="1593" y="117.4" width="4.8" height="4.1" fill="#9fcde3"/><rect x="1599.2" y="117.4" width="4.8" height="4.1" fill="#9fcde3"/><rect x="1605.4" y="117.4" width="4.8" height="4.1" fill="#9fcde3"/><rect x="1611.6" y="117.4" width="4.8" height="4.1" fill="#9fcde3"/><rect x="1617.8" y="117.4" width="4.8" height="4.1" fill="#9fcde3"/><rect x="1592.9" y="128" width="11.7" height="11.8" fill="#7ec5e3"/><rect x="1610.1" y="128" width="11.7" height="11.8" fill="#7ec5e3"/><rect x="1626.3" y="128" width="30" height="6.5" fill="#7ec5e3"/><rect x="1624.8" y="133" width="33" height="7.3" fill="#5c5c5c"/><rect x="1626.5" y="134.6" width="4.8" height="4.1" fill="#9fcde3"/><rect x="1632.7" y="134.6" width="4.8" height="4.1" fill="#9fcde3"/><rect x="1638.9" y="134.6" width="4.8" height="4.1" fill="#9fcde3"/><rect x="1645.1" y="134.6" width="4.8" height="4.1" fill="#9fcde3"/><rect x="1651.3" y="134.6" width="4.8" height="4.1" fill="#9fcde3"/><rect x="1627.4" y="145.2" width="11.7" height="11.8" fill="#7ec5e3"/><rect x="1644.6" y="145.2" width="11.7" height="11.8" fill="#7ec5e3"/><rect x="1592.8" y="145.2" width="30" height="6.5" fill="#7ec5e3"/><rect x="1591.3" y="150.2" width="33" height="7.3" fill="#5c5c5c"/><rect x="1593" y="151.8" width="4.8" height="4.1" fill="#9fcde3"/><rect x="1599.2" y="151.8" width="4.8" height="4.1" fill="#9fcde3"/><rect x="1605.4" y="151.8" width="4.8" height="4.1" fill="#9fcde3"/><rect x="1611.6" y="151.8" width="4.8" height="4.1" fill="#9fcde3"/><rect x="1617.8" y="151.8" width="4.8" height="4.1" fill="#9fcde3"/><rect x="1592.9" y="162.4" width="11.7" height="11.8" fill="#7ec5e3"/><rect x="1610.1" y="162.4" width="11.7" height="11.8" fill="#7ec5e3"/><rect x="1626.3" y="162.4" width="30" height="6.5" fill="#7ec5e3"/><rect x="1624.8" y="167.4" width="33" height="7.3" fill="#5c5c5c"/><rect x="1626.5" y="169" width="4.8" height="4.1" fill="#9fcde3"/><rect x="1632.7" y="169" width="4.8" height="4.1" fill="#9fcde3"/><rect x="1638.9" y="169" width="4.8" height="4.1" fill="#9fcde3"/><rect x="1645.1" y="169" width="4.8" height="4.1" fill="#9fcde3"/><rect x="1651.3" y="169" width="4.8" height="4.1" fill="#9fcde3"/><rect x="1627.4" y="179.7" width="11.7" height="11.8" fill="#7ec5e3"/><rect x="1644.6" y="179.7" width="11.7" height="11.8" fill="#7ec5e3"/><rect x="1592.8" y="179.7" width="30" height="6.5" fill="#7ec5e3"/><rect x="1591.3" y="184.7" width="33" height="7.3" fill="#5c5c5c"/><rect x="1593" y="186.3" width="4.8" height="4.1" fill="#9fcde3"/><rect x="1599.2" y="186.3" width="4.8" height="4.1" fill="#9fcde3"/><rect x="1605.4" y="186.3" width="4.8" height="4.1" fill="#9fcde3"/><rect x="1611.6" y="186.3" width="4.8" height="4.1" fill="#9fcde3"/><rect x="1617.8" y="186.3" width="4.8" height="4.1" fill="#9fcde3"/><rect x="1592.9" y="196.9" width="11.7" height="11.8" fill="#7ec5e3"/><rect x="1644.6" y="196.9" width="11.7" height="11.8" fill="#7ec5e3"/><rect x="1610.6" y="197.4" width="28.3" height="25.3" fill="#6e6e6e"/><line x1="1624.8" y1="197.4" x2="1624.8" y2="222.7" stroke="#8a8a8a" stroke-width="0.6"/><ellipse cx="1677.3" cy="196.9" rx="9.3" ry="1.1" fill="#000" opacity="0.13"/><path d="M1677.3,164.2 C1674.4,164.2 1671.5,172.2 1668,182.6 C1666.6,186.9 1669.5,188.4 1673.2,188.4 L1677.3,187.7 Z" fill="#5e9a2a"/><path d="M1676.9,164.3 C1680.2,164.2 1683.1,172.2 1686.6,182.6 C1688,186.9 1685.1,188.4 1681.4,188.4 L1677.3,187.7 Z" fill="#4b7f2a"/><polygon points="1675.6,196.9 1676.2,172.9 1678.4,172.9 1679,196.9" fill="#7d4b2a"/><line x1="1677.3" y1="183.6" x2="1673.2" y2="181.1" stroke="#7d4b2a" stroke-width="1.4" stroke-linecap="round"/><line x1="1677.3" y1="181.1" x2="1680.4" y2="176.8" stroke="#7d4b2a" stroke-width="1.4" stroke-linecap="round"/><ellipse cx="1707.8" cy="197.6" rx="9.3" ry="1.1" fill="#000" opacity="0.13"/><path d="M1707.8,164.2 C1704.9,164.2 1702,172.4 1698.5,183 C1697.1,187.4 1700,188.9 1703.7,188.9 L1707.8,188.2 Z" fill="#5e9a2a"/><path d="M1707.4,164.3 C1710.7,164.2 1713.6,172.4 1717.1,183 C1718.5,187.4 1715.6,188.9 1711.9,188.9 L1707.8,188.2 Z" fill="#4b7f2a"/><polygon points="1706.1,197.6 1706.7,173.1 1708.9,173.1 1709.5,197.6" fill="#7d4b2a"/><line x1="1707.8" y1="184" x2="1703.7" y2="181.5" stroke="#7d4b2a" stroke-width="1.4" stroke-linecap="round"/><line x1="1707.8" y1="181.5" x2="1710.9" y2="177.1" stroke="#7d4b2a" stroke-width="1.4" stroke-linecap="round"/><ellipse cx="1739.3" cy="202.3" rx="9.3" ry="1.1" fill="#000" opacity="0.13"/><path d="M1739.3,169 C1736.4,169 1733.5,177.1 1730,187.7 C1728.6,192.2 1731.5,193.6 1735.2,193.6 L1739.3,192.9 Z" fill="#5e9a2a"/><path d="M1738.9,169.2 C1742.2,169 1745.1,177.1 1748.6,187.7 C1750,192.2 1747.1,193.6 1743.4,193.6 L1739.3,192.9 Z" fill="#4b7f2a"/><polygon points="1737.6,202.3 1738.2,177.9 1740.4,177.9 1741,202.3" fill="#7d4b2a"/><line x1="1739.3" y1="188.7" x2="1735.2" y2="186.2" stroke="#7d4b2a" stroke-width="1.4" stroke-linecap="round"/><line x1="1739.3" y1="186.2" x2="1742.4" y2="181.8" stroke="#7d4b2a" stroke-width="1.4" stroke-linecap="round"/><ellipse cx="1762.2" cy="192" rx="9.3" ry="1.1" fill="#000" opacity="0.13"/><path d="M1762.2,158.7 C1759.3,158.7 1756.4,166.8 1752.9,177.4 C1751.5,181.9 1754.4,183.3 1758.1,183.3 L1762.2,182.6 Z" fill="#5e9a2a"/><path d="M1761.8,158.8 C1765.1,158.7 1768,166.8 1771.5,177.4 C1772.9,181.9 1770,183.3 1766.3,183.3 L1762.2,182.6 Z" fill="#4b7f2a"/><polygon points="1760.5,192 1761.1,167.6 1763.3,167.6 1763.9,192" fill="#7d4b2a"/><line x1="1762.2" y1="178.4" x2="1758.1" y2="175.9" stroke="#7d4b2a" stroke-width="1.4" stroke-linecap="round"/><line x1="1762.2" y1="175.9" x2="1765.3" y2="171.5" stroke="#7d4b2a" stroke-width="1.4" stroke-linecap="round"/><ellipse cx="1779.9" cy="206" rx="9.3" ry="1.1" fill="#000" opacity="0.13"/><path d="M1779.9,173 C1777,173 1774.1,181.1 1770.6,191.6 C1769.2,196 1772.1,197.4 1775.8,197.4 L1779.9,196.7 Z" fill="#5e9a2a"/><path d="M1779.5,173.2 C1782.8,173 1785.8,181.1 1789.2,191.6 C1790.6,196 1787.7,197.4 1784,197.4 L1779.9,196.7 Z" fill="#4b7f2a"/><polygon points="1778.2,206 1778.8,181.8 1781,181.8 1781.6,206" fill="#7d4b2a"/><line x1="1779.9" y1="192.5" x2="1775.8" y2="190.1" stroke="#7d4b2a" stroke-width="1.4" stroke-linecap="round"/><line x1="1779.9" y1="190.1" x2="1783" y2="185.7" stroke="#7d4b2a" stroke-width="1.4" stroke-linecap="round"/><polygon points="1594.1,225.2 1622.4,205.5 1650.7,226.5 1650.7,267.5 1594.1,267.5" fill="#c9b8a5"/><polygon points="1650.7,226.5 1679.5,204.3 1708.1,226.5 1708.1,267.5 1650.7,267.5" fill="#e4d2bd"/><polygon points="1587.5,233 1622.4,203 1650.7,227 1679.5,203.8 1715.2,233 1708,233 1679.5,210.5 1650.7,234 1622.4,210 1596,233" fill="#5c5c5c"/><rect x="1605.2" y="230.8" width="11.1" height="11.1" fill="#7ec5e3"/><rect x="1628.1" y="230.8" width="11.1" height="11.1" fill="#7ec5e3"/><rect x="1612.1" y="250.3" width="10.3" height="17.2" fill="#9d9d9c"/><rect x="1671.2" y="230.8" width="25.1" height="11.1" fill="#7ec5e3"/><rect x="1685.2" y="248" width="11.1" height="11" fill="#7ec5e3"/><rect x="1668" y="250.3" width="10.5" height="17.2" fill="#9d9d9c"/><ellipse cx="1767.6" cy="230" rx="9.3" ry="1.1" fill="#000" opacity="0.13"/><path d="M1767.6,196.9 C1764.7,196.9 1761.8,205 1758.3,215.5 C1756.9,219.9 1759.8,221.4 1763.5,221.4 L1767.6,220.7 Z" fill="#5e9a2a"/><path d="M1767.2,197.1 C1770.5,196.9 1773.4,205 1776.9,215.5 C1778.3,219.9 1775.4,221.4 1771.7,221.4 L1767.6,220.7 Z" fill="#4b7f2a"/><polygon points="1765.9,230 1766.5,205.7 1768.7,205.7 1769.3,230" fill="#7d4b2a"/><line x1="1767.6" y1="216.5" x2="1763.5" y2="214" stroke="#7d4b2a" stroke-width="1.4" stroke-linecap="round"/><line x1="1767.6" y1="214" x2="1770.7" y2="209.6" stroke="#7d4b2a" stroke-width="1.4" stroke-linecap="round"/><ellipse cx="1781.1" cy="257.2" rx="9.3" ry="1.1" fill="#000" opacity="0.13"/><path d="M1781.1,224 C1778.2,224 1775.2,232.1 1771.8,242.7 C1770.4,247.1 1773.3,248.6 1777,248.6 L1781.1,247.8 Z" fill="#5e9a2a"/><path d="M1780.7,224.2 C1784,224 1786.9,232.1 1790.4,242.7 C1791.8,247.1 1788.9,248.6 1785.2,248.6 L1781.1,247.8 Z" fill="#4b7f2a"/><polygon points="1779.4,257.2 1780,232.8 1782.2,232.8 1782.8,257.2" fill="#7d4b2a"/><line x1="1781.1" y1="243.7" x2="1777" y2="241.2" stroke="#7d4b2a" stroke-width="1.4" stroke-linecap="round"/><line x1="1781.1" y1="241.2" x2="1784.2" y2="236.8" stroke="#7d4b2a" stroke-width="1.4" stroke-linecap="round"/><ellipse cx="1721.6" cy="262" rx="9.3" ry="1.1" fill="#000" opacity="0.13"/><path d="M1721.6,228.9 C1718.7,228.9 1715.8,237 1712.3,247.5 C1710.9,251.9 1713.8,253.4 1717.5,253.4 L1721.6,252.7 Z" fill="#5e9a2a"/><path d="M1721.2,229.1 C1724.5,228.9 1727.4,237 1730.9,247.5 C1732.3,251.9 1729.4,253.4 1725.7,253.4 L1721.6,252.7 Z" fill="#4b7f2a"/><polygon points="1719.9,262 1720.5,237.7 1722.7,237.7 1723.3,262" fill="#7d4b2a"/><line x1="1721.6" y1="248.5" x2="1717.5" y2="246" stroke="#7d4b2a" stroke-width="1.4" stroke-linecap="round"/><line x1="1721.6" y1="246" x2="1724.7" y2="241.6" stroke="#7d4b2a" stroke-width="1.4" stroke-linecap="round"/><ellipse cx="1741.3" cy="278.8" rx="9.3" ry="1.1" fill="#000" opacity="0.13"/><path d="M1741.3,245.4 C1738.4,245.4 1735.5,253.6 1732,264.2 C1730.6,268.6 1733.5,270.1 1737.2,270.1 L1741.3,269.4 Z" fill="#5e9a2a"/><path d="M1740.9,245.6 C1744.2,245.4 1747.1,253.6 1750.6,264.2 C1752,268.6 1749.1,270.1 1745.4,270.1 L1741.3,269.4 Z" fill="#4b7f2a"/><polygon points="1739.6,278.8 1740.2,254.3 1742.4,254.3 1743,278.8" fill="#7d4b2a"/><line x1="1741.3" y1="265.2" x2="1737.2" y2="262.7" stroke="#7d4b2a" stroke-width="1.4" stroke-linecap="round"/><line x1="1741.3" y1="262.7" x2="1744.4" y2="258.3" stroke="#7d4b2a" stroke-width="1.4" stroke-linecap="round"/><ellipse cx="1766.9" cy="278.8" rx="9.3" ry="1.1" fill="#000" opacity="0.13"/><path d="M1766.9,245.4 C1764,245.4 1761.1,253.6 1757.6,264.2 C1756.2,268.6 1759.1,270.1 1762.8,270.1 L1766.9,269.4 Z" fill="#5e9a2a"/><path d="M1766.5,245.6 C1769.8,245.4 1772.8,253.6 1776.2,264.2 C1777.6,268.6 1774.7,270.1 1771,270.1 L1766.9,269.4 Z" fill="#4b7f2a"/><polygon points="1765.2,278.8 1765.8,254.3 1768,254.3 1768.6,278.8" fill="#7d4b2a"/><line x1="1766.9" y1="265.2" x2="1762.8" y2="262.7" stroke="#7d4b2a" stroke-width="1.4" stroke-linecap="round"/><line x1="1766.9" y1="262.7" x2="1770" y2="258.3" stroke="#7d4b2a" stroke-width="1.4" stroke-linecap="round"/><ellipse cx="1783.1" cy="303" rx="9.3" ry="1.1" fill="#000" opacity="0.13"/><path d="M1783.1,270 C1780.2,270 1777.2,278.1 1773.8,288.6 C1772.4,293 1775.3,294.4 1779,294.4 L1783.1,293.7 Z" fill="#5e9a2a"/><path d="M1782.7,270.1 C1786,270 1788.9,278.1 1792.4,288.6 C1793.8,293 1790.9,294.4 1787.2,294.4 L1783.1,293.7 Z" fill="#4b7f2a"/><polygon points="1781.4,303 1782,278.8 1784.2,278.8 1784.8,303" fill="#7d4b2a"/><line x1="1783.1" y1="289.5" x2="1779" y2="287.1" stroke="#7d4b2a" stroke-width="1.4" stroke-linecap="round"/><line x1="1783.1" y1="287.1" x2="1786.2" y2="282.7" stroke="#7d4b2a" stroke-width="1.4" stroke-linecap="round"/><ellipse cx="1766.4" cy="320" rx="9.3" ry="1.1" fill="#000" opacity="0.13"/><path d="M1766.4,286.7 C1763.5,286.7 1760.6,294.8 1757.1,305.4 C1755.7,309.9 1758.6,311.3 1762.3,311.3 L1766.4,310.6 Z" fill="#5e9a2a"/><path d="M1766,286.8 C1769.3,286.7 1772.2,294.8 1775.7,305.4 C1777.1,309.9 1774.2,311.3 1770.5,311.3 L1766.4,310.6 Z" fill="#4b7f2a"/><polygon points="1764.7,320 1765.3,295.6 1767.5,295.6 1768.1,320" fill="#7d4b2a"/><line x1="1766.4" y1="306.4" x2="1762.3" y2="303.9" stroke="#7d4b2a" stroke-width="1.4" stroke-linecap="round"/><line x1="1766.4" y1="303.9" x2="1769.5" y2="299.5" stroke="#7d4b2a" stroke-width="1.4" stroke-linecap="round"/><ellipse cx="1783" cy="341" rx="9.3" ry="1.1" fill="#000" opacity="0.13"/><path d="M1783,307.2 C1780.1,307.2 1777.2,315.5 1773.7,326.2 C1772.3,330.7 1775.2,332.2 1778.9,332.2 L1783,331.5 Z" fill="#5e9a2a"/><path d="M1782.6,307.3 C1785.9,307.2 1788.8,315.5 1792.3,326.2 C1793.7,330.7 1790.8,332.2 1787.1,332.2 L1783,331.5 Z" fill="#4b7f2a"/><polygon points="1781.3,341 1781.9,316.2 1784.1,316.2 1784.7,341" fill="#7d4b2a"/><line x1="1783" y1="327.2" x2="1778.9" y2="324.7" stroke="#7d4b2a" stroke-width="1.4" stroke-linecap="round"/><line x1="1783" y1="324.7" x2="1786.1" y2="320.2" stroke="#7d4b2a" stroke-width="1.4" stroke-linecap="round"/><ellipse cx="1757.8" cy="236.8" rx="5.9" ry="1.1" fill="#000" opacity="0.13"/><polygon points="1754.5,218.7 1757.9,218.7 1757,236.2 1755,236.2" fill="#7d4b2a"/><polygon points="1757.7,218.7 1761.1,218.7 1760.6,236.2 1758.6,236.2" fill="#7d4b2a"/><rect x="1754.2" y="236" width="3" height="1" fill="#1f2a4f" rx="0.5"/><rect x="1758.4" y="236" width="3" height="1" fill="#1f2a4f" rx="0.5"/><path d="M1756.3,207 L1759.3,207 Q1761.6,207.2 1761.6,209.7 L1761.1,220.2 L1754.5,220.2 L1754,209.7 Q1754,207.2 1756.3,207 Z" fill="#5aa03a"/><line x1="1754.3" y1="208.2" x2="1753.9" y2="217.7" stroke="#519034" stroke-width="1.7" stroke-linecap="round"/><line x1="1761.3" y1="208.2" x2="1761.7" y2="217.7" stroke="#519034" stroke-width="1.7" stroke-linecap="round"/><circle cx="1753.9" cy="218.9" r="0.9" fill="#f2c9a8"/><circle cx="1761.7" cy="218.9" r="0.9" fill="#f2c9a8"/><rect x="1757" y="205.6" width="1.7" height="2.1" fill="#f2c9a8"/><ellipse cx="1757.8" cy="204" rx="2.1" ry="2.6" fill="#f2c9a8"/><path d="M1755.2,210 Q1754.8,201 1757.8,200.7 Q1760.8,201 1760.4,210 L1759.5,210 Q1759.9,202.9 1757.8,202.5 Q1755.7,202.9 1756.1,210 Z" fill="#3a2a20"/><g fill="#5e9a2a"><circle cx="1591" cy="242.2" r="2.2"/><circle cx="1588.4" cy="244.7" r="2"/><circle cx="1593.6" cy="244.7" r="2"/><circle cx="1590.1" cy="245.1" r="2.1"/><circle cx="1592.2" cy="245.1" r="2.1"/><rect x="1586" y="244.2" width="10" height="2.8" rx="2"/></g><g fill="#4b7f2a"><path d="M1590.2,247 A2.3,1.8 0 0 1 1594.8,247 Z"/><ellipse cx="1591" cy="245.5" rx="0.5" ry="1.3" transform="rotate(-40 1591 246.5)"/><ellipse cx="1591.7" cy="245.5" rx="0.5" ry="1.3" transform="rotate(-20 1591.7 246.5)"/><ellipse cx="1592.5" cy="245.5" rx="0.5" ry="1.3" transform="rotate(0 1592.5 246.5)"/><ellipse cx="1593.3" cy="245.5" rx="0.5" ry="1.3" transform="rotate(20 1593.3 246.5)"/><ellipse cx="1594" cy="245.5" rx="0.5" ry="1.3" transform="rotate(40 1594 246.5)"/></g><g fill="#5e9a2a"><circle cx="1590" cy="257.2" r="2.2"/><circle cx="1587.4" cy="259.7" r="2"/><circle cx="1592.6" cy="259.7" r="2"/><circle cx="1589.1" cy="260.1" r="2.1"/><circle cx="1591.2" cy="260.1" r="2.1"/><rect x="1585" y="259.2" width="10" height="2.8" rx="2"/></g><g fill="#4b7f2a"><path d="M1589.2,262 A2.3,1.8 0 0 1 1593.8,262 Z"/><ellipse cx="1590" cy="260.5" rx="0.5" ry="1.3" transform="rotate(-40 1590 261.5)"/><ellipse cx="1590.7" cy="260.5" rx="0.5" ry="1.3" transform="rotate(-20 1590.7 261.5)"/><ellipse cx="1591.5" cy="260.5" rx="0.5" ry="1.3" transform="rotate(0 1591.5 261.5)"/><ellipse cx="1592.3" cy="260.5" rx="0.5" ry="1.3" transform="rotate(20 1592.3 261.5)"/><ellipse cx="1593" cy="260.5" rx="0.5" ry="1.3" transform="rotate(40 1593 261.5)"/></g><g fill="#5e9a2a"><circle cx="1591" cy="270.7" r="2.9"/><circle cx="1587.6" cy="274" r="2.6"/><circle cx="1594.4" cy="274" r="2.6"/><circle cx="1589.8" cy="274.5" r="2.7"/><circle cx="1592.6" cy="274.5" r="2.7"/><rect x="1584.5" y="273.4" width="13" height="3.6" rx="2"/></g><g fill="#4b7f2a"><path d="M1590,277 A3,2.3 0 0 1 1595.9,277 Z"/><ellipse cx="1591" cy="275.1" rx="0.7" ry="1.7" transform="rotate(-40 1591 276.4)"/><ellipse cx="1591.9" cy="275.1" rx="0.7" ry="1.7" transform="rotate(-20 1591.9 276.4)"/><ellipse cx="1593" cy="275.1" rx="0.7" ry="1.7" transform="rotate(0 1593 276.4)"/><ellipse cx="1594" cy="275.1" rx="0.7" ry="1.7" transform="rotate(20 1594 276.4)"/><ellipse cx="1594.9" cy="275.1" rx="0.7" ry="1.7" transform="rotate(40 1594.9 276.4)"/></g><g fill="#5e9a2a"><circle cx="1596" cy="277.2" r="3.1"/><circle cx="1592.4" cy="280.7" r="2.8"/><circle cx="1599.6" cy="280.7" r="2.8"/><circle cx="1594.7" cy="281.3" r="2.9"/><circle cx="1597.7" cy="281.3" r="2.9"/><rect x="1589" y="280.1" width="14" height="3.9" rx="2"/></g><g fill="#4b7f2a"><path d="M1594.9,284 A3.2,2.5 0 0 1 1601.3,284 Z"/><ellipse cx="1596" cy="281.9" rx="0.7" ry="1.8" transform="rotate(-40 1596 283.3)"/><ellipse cx="1597" cy="281.9" rx="0.7" ry="1.8" transform="rotate(-20 1597 283.3)"/><ellipse cx="1598.1" cy="281.9" rx="0.7" ry="1.8" transform="rotate(0 1598.1 283.3)"/><ellipse cx="1599.2" cy="281.9" rx="0.7" ry="1.8" transform="rotate(20 1599.2 283.3)"/><ellipse cx="1600.2" cy="281.9" rx="0.7" ry="1.8" transform="rotate(40 1600.2 283.3)"/></g><g fill="#5e9a2a"><circle cx="1716" cy="272.2" r="3.1"/><circle cx="1712.4" cy="275.7" r="2.8"/><circle cx="1719.6" cy="275.7" r="2.8"/><circle cx="1714.7" cy="276.3" r="2.9"/><circle cx="1717.7" cy="276.3" r="2.9"/><rect x="1709" y="275.1" width="14" height="3.9" rx="2"/></g><g fill="#4b7f2a"><path d="M1714.9,279 A3.2,2.5 0 0 1 1721.3,279 Z"/><ellipse cx="1716" cy="276.9" rx="0.7" ry="1.8" transform="rotate(-40 1716 278.3)"/><ellipse cx="1717" cy="276.9" rx="0.7" ry="1.8" transform="rotate(-20 1717 278.3)"/><ellipse cx="1718.1" cy="276.9" rx="0.7" ry="1.8" transform="rotate(0 1718.1 278.3)"/><ellipse cx="1719.2" cy="276.9" rx="0.7" ry="1.8" transform="rotate(20 1719.2 278.3)"/><ellipse cx="1720.2" cy="276.9" rx="0.7" ry="1.8" transform="rotate(40 1720.2 278.3)"/></g><rect x="1407" y="246.5" width="4.2" height="8" fill="#ddd3c6"/><rect x="1457" y="246.5" width="4.2" height="8" fill="#ddd3c6"/><rect x="1392" y="282" width="57.3" height="34.9" fill="#e6f0ec"/><rect x="1392" y="253.5" width="57.3" height="28.5" fill="#5c5c5c"/><rect x="1407.1" y="265.1" width="27.6" height="6.7" fill="#7ec5e3"/><rect x="1404.2" y="298" width="10.8" height="10.7" fill="#7ec5e3"/><rect x="1421.1" y="300" width="10.7" height="16.9" fill="#5c5c5c"/><polygon points="1449.3,282 1476.9,259.3 1506,282 1506,316.9 1449.3,316.9" fill="#b5c9c4"/><polygon points="1449.3,253.5 1476.9,253.5 1511.8,282 1504,282 1476.9,260.5 1449.3,283" fill="#5c5c5c"/><rect x="1460.9" y="281.1" width="11.1" height="11.1" fill="#7ec5e3"/><rect x="1483.6" y="281.1" width="10.8" height="11.1" fill="#7ec5e3"/><rect x="1460.9" y="298" width="20.4" height="10.7" fill="#7ec5e3"/><g fill="#5e9a2a"><circle cx="1516" cy="270.2" r="2.6"/><circle cx="1512.9" cy="273.2" r="2.4"/><circle cx="1519.1" cy="273.2" r="2.4"/><circle cx="1514.9" cy="273.7" r="2.5"/><circle cx="1517.5" cy="273.7" r="2.5"/><rect x="1510" y="272.6" width="12" height="3.4" rx="2"/></g><g fill="#4b7f2a"><path d="M1515,276 A2.8,2.2 0 0 1 1520.6,276 Z"/><ellipse cx="1516" cy="274.2" rx="0.6" ry="1.6" transform="rotate(-40 1516 275.4)"/><ellipse cx="1516.8" cy="274.2" rx="0.6" ry="1.6" transform="rotate(-20 1516.8 275.4)"/><ellipse cx="1517.8" cy="274.2" rx="0.6" ry="1.6" transform="rotate(0 1517.8 275.4)"/><ellipse cx="1518.8" cy="274.2" rx="0.6" ry="1.6" transform="rotate(20 1518.8 275.4)"/><ellipse cx="1519.6" cy="274.2" rx="0.6" ry="1.6" transform="rotate(40 1519.6 275.4)"/></g><g fill="#5e9a2a"><circle cx="1538" cy="279.7" r="2.9"/><circle cx="1534.6" cy="283" r="2.6"/><circle cx="1541.4" cy="283" r="2.6"/><circle cx="1536.8" cy="283.5" r="2.7"/><circle cx="1539.6" cy="283.5" r="2.7"/><rect x="1531.5" y="282.4" width="13" height="3.6" rx="2"/></g><g fill="#4b7f2a"><path d="M1537,286 A3,2.3 0 0 1 1542.9,286 Z"/><ellipse cx="1538" cy="284.1" rx="0.7" ry="1.7" transform="rotate(-40 1538 285.4)"/><ellipse cx="1538.9" cy="284.1" rx="0.7" ry="1.7" transform="rotate(-20 1538.9 285.4)"/><ellipse cx="1540" cy="284.1" rx="0.7" ry="1.7" transform="rotate(0 1540 285.4)"/><ellipse cx="1541" cy="284.1" rx="0.7" ry="1.7" transform="rotate(20 1541 285.4)"/><ellipse cx="1541.9" cy="284.1" rx="0.7" ry="1.7" transform="rotate(40 1541.9 285.4)"/></g><g fill="#5e9a2a"><circle cx="1558" cy="283.7" r="2.9"/><circle cx="1554.6" cy="287" r="2.6"/><circle cx="1561.4" cy="287" r="2.6"/><circle cx="1556.8" cy="287.5" r="2.7"/><circle cx="1559.6" cy="287.5" r="2.7"/><rect x="1551.5" y="286.4" width="13" height="3.6" rx="2"/></g><g fill="#4b7f2a"><path d="M1557,290 A3,2.3 0 0 1 1562.9,290 Z"/><ellipse cx="1558" cy="288.1" rx="0.7" ry="1.7" transform="rotate(-40 1558 289.4)"/><ellipse cx="1558.9" cy="288.1" rx="0.7" ry="1.7" transform="rotate(-20 1558.9 289.4)"/><ellipse cx="1560" cy="288.1" rx="0.7" ry="1.7" transform="rotate(0 1560 289.4)"/><ellipse cx="1561" cy="288.1" rx="0.7" ry="1.7" transform="rotate(20 1561 289.4)"/><ellipse cx="1561.9" cy="288.1" rx="0.7" ry="1.7" transform="rotate(40 1561.9 289.4)"/></g><g fill="#5e9a2a"><circle cx="1567" cy="269.2" r="2.2"/><circle cx="1564.4" cy="271.7" r="2"/><circle cx="1569.6" cy="271.7" r="2"/><circle cx="1566.1" cy="272.1" r="2.1"/><circle cx="1568.2" cy="272.1" r="2.1"/><rect x="1562" y="271.2" width="10" height="2.8" rx="2"/></g><g fill="#4b7f2a"><path d="M1566.2,274 A2.3,1.8 0 0 1 1570.8,274 Z"/><ellipse cx="1567" cy="272.5" rx="0.5" ry="1.3" transform="rotate(-40 1567 273.5)"/><ellipse cx="1567.7" cy="272.5" rx="0.5" ry="1.3" transform="rotate(-20 1567.7 273.5)"/><ellipse cx="1568.5" cy="272.5" rx="0.5" ry="1.3" transform="rotate(0 1568.5 273.5)"/><ellipse cx="1569.3" cy="272.5" rx="0.5" ry="1.3" transform="rotate(20 1569.3 273.5)"/><ellipse cx="1570" cy="272.5" rx="0.5" ry="1.3" transform="rotate(40 1570 273.5)"/></g><rect x="1508.5" y="288.5" width="4.2" height="8" fill="#ddd3c6"/><rect x="1529" y="288.5" width="4.2" height="8" fill="#ddd3c6"/><polygon points="1458,323.3 1487.1,300.9 1515.3,323.3 1515.3,359.1 1458,359.1" fill="#e4d2bd"/><rect x="1515.3" y="323.9" width="57.6" height="35.2" fill="#c9b8a5"/><polygon points="1452.2,323.9 1487.1,295.1 1572.9,295.1 1572.9,323.9 1515.3,323.9 1487.1,301.9 1460,323.9" fill="#5c5c5c"/><rect x="1527" y="304.4" width="13.1" height="9.3" fill="#7ec5e3"/><rect x="1548.8" y="304.4" width="13.4" height="9.3" fill="#7ec5e3"/><rect x="1538" y="341.6" width="10.8" height="17.5" fill="#5c5c5c"/><rect x="1470.5" y="322.4" width="10.8" height="11.1" fill="#7ec5e3"/><rect x="1492.9" y="322.4" width="11.1" height="11.1" fill="#7ec5e3"/><ellipse cx="1394" cy="328" rx="6.3" ry="1.1" fill="#000" opacity="0.13"/><clipPath id="c1464"><rect x="1394" y="309" width="14" height="21"/></clipPath><g fill="#5e9a2a"><circle cx="1394" cy="314" r="3.8"/><circle cx="1391.3" cy="317.7" r="3.9"/><circle cx="1396.7" cy="317.7" r="3.9"/><circle cx="1391.3" cy="321.7" r="4.3"/><circle cx="1396.7" cy="321.7" r="4.3"/><circle cx="1394" cy="319.9" r="4.2"/></g><g fill="#4b7f2a" clip-path="url(#c1464)"><circle cx="1394" cy="314" r="3.8"/><circle cx="1391.3" cy="317.7" r="3.9"/><circle cx="1396.7" cy="317.7" r="3.9"/><circle cx="1391.3" cy="321.7" r="4.3"/><circle cx="1396.7" cy="321.7" r="4.3"/><circle cx="1394" cy="319.9" r="4.2"/></g><polygon points="1393.2,328 1393.4,315.6 1394.6,315.6 1394.8,328" fill="#7d4b2a"/><line x1="1394" y1="321" x2="1390.5" y2="318.9" stroke="#7d4b2a" stroke-width="0.9" stroke-linecap="round"/><line x1="1394" y1="323.1" x2="1397.5" y2="320.4" stroke="#7d4b2a" stroke-width="0.9" stroke-linecap="round"/><ellipse cx="1411.1" cy="327" rx="6.8" ry="1.1" fill="#000" opacity="0.13"/><clipPath id="c1471"><rect x="1411.1" y="304" width="15" height="25"/></clipPath><g fill="#5e9a2a"><circle cx="1411.1" cy="309.7" r="4.1"/><circle cx="1408.2" cy="314.3" r="4.2"/><circle cx="1413.9" cy="314.3" r="4.2"/><circle cx="1408.2" cy="319.2" r="4.7"/><circle cx="1413.9" cy="319.2" r="4.7"/><circle cx="1411.1" cy="316.9" r="4.5"/></g><g fill="#4b7f2a" clip-path="url(#c1471)"><circle cx="1411.1" cy="309.7" r="4.1"/><circle cx="1408.2" cy="314.3" r="4.2"/><circle cx="1413.9" cy="314.3" r="4.2"/><circle cx="1408.2" cy="319.2" r="4.7"/><circle cx="1413.9" cy="319.2" r="4.7"/><circle cx="1411.1" cy="316.9" r="4.5"/></g><polygon points="1410.3,327 1410.4,311.6 1411.8,311.6 1411.9,327" fill="#7d4b2a"/><line x1="1411.1" y1="318.3" x2="1407.3" y2="315.7" stroke="#7d4b2a" stroke-width="0.9" stroke-linecap="round"/><line x1="1411.1" y1="321" x2="1414.8" y2="317.6" stroke="#7d4b2a" stroke-width="0.9" stroke-linecap="round"/><ellipse cx="1431.1" cy="337" rx="6.8" ry="1.1" fill="#000" opacity="0.13"/><clipPath id="c1478"><rect x="1431.1" y="313" width="15" height="26"/></clipPath><g fill="#5e9a2a"><circle cx="1431.1" cy="318.9" r="4.1"/><circle cx="1428.2" cy="323.7" r="4.2"/><circle cx="1433.9" cy="323.7" r="4.2"/><circle cx="1428.2" cy="328.9" r="4.7"/><circle cx="1433.9" cy="328.9" r="4.7"/><circle cx="1431.1" cy="326.5" r="4.5"/></g><g fill="#4b7f2a" clip-path="url(#c1478)"><circle cx="1431.1" cy="318.9" r="4.1"/><circle cx="1428.2" cy="323.7" r="4.2"/><circle cx="1433.9" cy="323.7" r="4.2"/><circle cx="1428.2" cy="328.9" r="4.7"/><circle cx="1433.9" cy="328.9" r="4.7"/><circle cx="1431.1" cy="326.5" r="4.5"/></g><polygon points="1430.3,337 1430.4,320.9 1431.8,320.9 1431.9,337" fill="#7d4b2a"/><line x1="1431.1" y1="327.9" x2="1427.3" y2="325.2" stroke="#7d4b2a" stroke-width="0.9" stroke-linecap="round"/><line x1="1431.1" y1="330.7" x2="1434.8" y2="327.2" stroke="#7d4b2a" stroke-width="0.9" stroke-linecap="round"/><ellipse cx="1442.4" cy="328" rx="6.8" ry="1.1" fill="#000" opacity="0.13"/><clipPath id="c1485"><rect x="1442.4" y="303" width="15" height="27"/></clipPath><g fill="#5e9a2a"><circle cx="1442.4" cy="309.1" r="4.1"/><circle cx="1439.6" cy="314.1" r="4.2"/><circle cx="1445.2" cy="314.1" r="4.2"/><circle cx="1439.6" cy="319.5" r="4.7"/><circle cx="1445.2" cy="319.5" r="4.7"/><circle cx="1442.4" cy="317" r="4.5"/></g><g fill="#4b7f2a" clip-path="url(#c1485)"><circle cx="1442.4" cy="309.1" r="4.1"/><circle cx="1439.6" cy="314.1" r="4.2"/><circle cx="1445.2" cy="314.1" r="4.2"/><circle cx="1439.6" cy="319.5" r="4.7"/><circle cx="1445.2" cy="319.5" r="4.7"/><circle cx="1442.4" cy="317" r="4.5"/></g><polygon points="1441.6,328 1441.7,311.2 1443.1,311.2 1443.2,328" fill="#7d4b2a"/><line x1="1442.4" y1="318.5" x2="1438.7" y2="315.6" stroke="#7d4b2a" stroke-width="0.9" stroke-linecap="round"/><line x1="1442.4" y1="321.4" x2="1446.2" y2="317.8" stroke="#7d4b2a" stroke-width="0.9" stroke-linecap="round"/><rect x="1442" y="333" width="4.2" height="8" fill="#ddd3c6"/><rect x="1468" y="333" width="4.2" height="8" fill="#ddd3c6"/><rect x="1428" y="368.4" width="33.5" height="35.5" fill="#e6f0ec"/><rect x="1428" y="340.2" width="33.5" height="28.2" fill="#5c5c5c"/><rect x="1428" y="351.8" width="18.4" height="6.4" fill="#7ec5e3"/><rect x="1439.1" y="384.4" width="10.2" height="10.2" fill="#7ec5e3"/><rect x="1428" y="386.4" width="3.8" height="17.5" fill="#5c5c5c"/><polygon points="1461.5,368.4 1490,345.7 1518.5,368.4 1518.5,403.9 1461.5,403.9" fill="#b5c9c4"/><polygon points="1461.5,340.2 1497,340.2 1525.5,368.4 1517.5,368.4 1490,346.7 1461.5,369.4" fill="#5c5c5c"/><rect x="1473.1" y="367.5" width="10.5" height="10.5" fill="#7ec5e3"/><rect x="1495.8" y="367.5" width="10.8" height="10.5" fill="#7ec5e3"/><rect x="1479.3" y="386.4" width="10.7" height="17.5" fill="#5c5c5c"/><g fill="#5e9a2a"><circle cx="1461.5" cy="400.2" r="3.1"/><circle cx="1457.9" cy="403.7" r="2.8"/><circle cx="1465.1" cy="403.7" r="2.8"/><circle cx="1460.2" cy="404.3" r="2.9"/><circle cx="1463.2" cy="404.3" r="2.9"/><rect x="1454.5" y="403.1" width="14" height="3.9" rx="2"/></g><g fill="#4b7f2a"><path d="M1460.4,407 A3.2,2.5 0 0 1 1466.8,407 Z"/><ellipse cx="1461.5" cy="404.9" rx="0.7" ry="1.8" transform="rotate(-40 1461.5 406.3)"/><ellipse cx="1462.5" cy="404.9" rx="0.7" ry="1.8" transform="rotate(-20 1462.5 406.3)"/><ellipse cx="1463.6" cy="404.9" rx="0.7" ry="1.8" transform="rotate(0 1463.6 406.3)"/><ellipse cx="1464.7" cy="404.9" rx="0.7" ry="1.8" transform="rotate(20 1464.7 406.3)"/><ellipse cx="1465.7" cy="404.9" rx="0.7" ry="1.8" transform="rotate(40 1465.7 406.3)"/></g><g fill="#5e9a2a"><circle cx="1511" cy="400.7" r="2.9"/><circle cx="1507.6" cy="404" r="2.6"/><circle cx="1514.4" cy="404" r="2.6"/><circle cx="1509.8" cy="404.5" r="2.7"/><circle cx="1512.6" cy="404.5" r="2.7"/><rect x="1504.5" y="403.4" width="13" height="3.6" rx="2"/></g><g fill="#4b7f2a"><path d="M1510,407 A3,2.3 0 0 1 1515.9,407 Z"/><ellipse cx="1511" cy="405.1" rx="0.7" ry="1.7" transform="rotate(-40 1511 406.4)"/><ellipse cx="1511.9" cy="405.1" rx="0.7" ry="1.7" transform="rotate(-20 1511.9 406.4)"/><ellipse cx="1513" cy="405.1" rx="0.7" ry="1.7" transform="rotate(0 1513 406.4)"/><ellipse cx="1514" cy="405.1" rx="0.7" ry="1.7" transform="rotate(20 1514 406.4)"/><ellipse cx="1514.9" cy="405.1" rx="0.7" ry="1.7" transform="rotate(40 1514.9 406.4)"/></g><g fill="#5e9a2a"><circle cx="1520" cy="377.1" r="1.3"/><circle cx="1518.4" cy="378.6" r="1.2"/><circle cx="1521.6" cy="378.6" r="1.2"/><circle cx="1519.4" cy="378.8" r="1.3"/><circle cx="1520.7" cy="378.8" r="1.3"/><rect x="1517" y="378.3" width="6" height="1.7" rx="2"/></g><g fill="#4b7f2a"><path d="M1519.5,380 A1.4,1.1 0 0 1 1522.3,380 Z"/><ellipse cx="1520" cy="379.1" rx="0.3" ry="0.8" transform="rotate(-40 1520 379.7)"/><ellipse cx="1520.4" cy="379.1" rx="0.3" ry="0.8" transform="rotate(-20 1520.4 379.7)"/><ellipse cx="1520.9" cy="379.1" rx="0.3" ry="0.8" transform="rotate(0 1520.9 379.7)"/><ellipse cx="1521.4" cy="379.1" rx="0.3" ry="0.8" transform="rotate(20 1521.4 379.7)"/><ellipse cx="1521.8" cy="379.1" rx="0.3" ry="0.8" transform="rotate(40 1521.8 379.7)"/></g><g fill="#5e9a2a"><circle cx="1520" cy="389.1" r="1.3"/><circle cx="1518.4" cy="390.6" r="1.2"/><circle cx="1521.6" cy="390.6" r="1.2"/><circle cx="1519.4" cy="390.8" r="1.3"/><circle cx="1520.7" cy="390.8" r="1.3"/><rect x="1517" y="390.3" width="6" height="1.7" rx="2"/></g><g fill="#4b7f2a"><path d="M1519.5,392 A1.4,1.1 0 0 1 1522.3,392 Z"/><ellipse cx="1520" cy="391.1" rx="0.3" ry="0.8" transform="rotate(-40 1520 391.7)"/><ellipse cx="1520.4" cy="391.1" rx="0.3" ry="0.8" transform="rotate(-20 1520.4 391.7)"/><ellipse cx="1520.9" cy="391.1" rx="0.3" ry="0.8" transform="rotate(0 1520.9 391.7)"/><ellipse cx="1521.4" cy="391.1" rx="0.3" ry="0.8" transform="rotate(20 1521.4 391.7)"/><ellipse cx="1521.8" cy="391.1" rx="0.3" ry="0.8" transform="rotate(40 1521.8 391.7)"/></g><rect x="1537.2" y="365.5" width="32" height="38.4" fill="#e3d9cf"/><rect x="1535.2" y="362.5" width="35.8" height="3.5" fill="#5c5c5c"/><rect x="1544.4" y="371.3" width="7.6" height="7.3" fill="#7ec5e3"/><rect x="1556.4" y="371.3" width="7.8" height="7.3" fill="#7ec5e3"/><rect x="1545.3" y="387.3" width="10.2" height="16.6" fill="#9d9d9c"/><circle cx="1529" cy="373" r="4.6" fill="none" stroke="#6a6a6a" stroke-width="1"/><path d="M1529,373 L1533,361 L1537,359" stroke="#7d4b2a" stroke-width="0.9" fill="none"/><rect x="1535" y="354.5" width="4.5" height="17.5" fill="#1f2a4f" rx="1"/><circle cx="1537" cy="351.5" r="2.3" fill="#f2c9a8"/><path d="M1534.5,351 Q1537,347 1541,350 L1543,355 L1539.5,352 Z" fill="#1d1d1b"/><path d="M1535.5,358 L1531,361" stroke="#1f2a4f" stroke-width="1.6" stroke-linecap="round"/><polygon points="1346.5,367.5 1351.2,364 1351.2,403.8 1346.5,403.8" fill="#d8d1cb"/><polygon points="1341.5,368.5 1351.2,359.5 1351.2,364 1346.5,368" fill="#6e6e6e"/><rect x="1351.2" y="327.1" width="76.8" height="124.8" fill="#cbc4bd"/><rect x="1392.6" y="338.7" width="11.6" height="11.6" fill="#7ec5e3"/><rect x="1410" y="338.7" width="11.6" height="11.6" fill="#7ec5e3"/><rect x="1357.5" y="338.7" width="29.8" height="6.4" fill="#7ec5e3"/><rect x="1356" y="343.6" width="32.8" height="7.2" fill="#5c5c5c"/><rect x="1357.7" y="345.2" width="4.8" height="4" fill="#9fcde3"/><rect x="1363.9" y="345.2" width="4.8" height="4" fill="#9fcde3"/><rect x="1370" y="345.2" width="4.8" height="4" fill="#9fcde3"/><rect x="1376.2" y="345.2" width="4.8" height="4" fill="#9fcde3"/><rect x="1382.3" y="345.2" width="4.8" height="4" fill="#9fcde3"/><rect x="1357.6" y="356.2" width="11.6" height="11.6" fill="#7ec5e3"/><rect x="1375.1" y="356.2" width="11.6" height="11.6" fill="#7ec5e3"/><rect x="1391.5" y="356.2" width="29.8" height="6.4" fill="#7ec5e3"/><rect x="1390" y="361.1" width="32.8" height="7.2" fill="#5c5c5c"/><rect x="1391.7" y="362.7" width="4.8" height="4" fill="#9fcde3"/><rect x="1397.9" y="362.7" width="4.8" height="4" fill="#9fcde3"/><rect x="1404" y="362.7" width="4.8" height="4" fill="#9fcde3"/><rect x="1410.2" y="362.7" width="4.8" height="4" fill="#9fcde3"/><rect x="1416.3" y="362.7" width="4.8" height="4" fill="#9fcde3"/><rect x="1392.6" y="373.6" width="11.6" height="11.6" fill="#7ec5e3"/><rect x="1410" y="373.6" width="11.6" height="11.6" fill="#7ec5e3"/><rect x="1357.5" y="373.6" width="29.8" height="6.4" fill="#7ec5e3"/><rect x="1356" y="378.5" width="32.8" height="7.2" fill="#5c5c5c"/><rect x="1357.7" y="380.1" width="4.8" height="4" fill="#9fcde3"/><rect x="1363.9" y="380.1" width="4.8" height="4" fill="#9fcde3"/><rect x="1370" y="380.1" width="4.8" height="4" fill="#9fcde3"/><rect x="1376.2" y="380.1" width="4.8" height="4" fill="#9fcde3"/><rect x="1382.3" y="380.1" width="4.8" height="4" fill="#9fcde3"/><rect x="1357.6" y="391.1" width="11.6" height="11.6" fill="#7ec5e3"/><rect x="1375.1" y="391.1" width="11.6" height="11.6" fill="#7ec5e3"/><rect x="1391.5" y="391.1" width="29.8" height="6.4" fill="#7ec5e3"/><rect x="1390" y="396" width="32.8" height="7.2" fill="#5c5c5c"/><rect x="1391.7" y="397.6" width="4.8" height="4" fill="#9fcde3"/><rect x="1397.9" y="397.6" width="4.8" height="4" fill="#9fcde3"/><rect x="1404" y="397.6" width="4.8" height="4" fill="#9fcde3"/><rect x="1410.2" y="397.6" width="4.8" height="4" fill="#9fcde3"/><rect x="1416.3" y="397.6" width="4.8" height="4" fill="#9fcde3"/><rect x="1392.6" y="408.5" width="11.6" height="11.6" fill="#7ec5e3"/><rect x="1410" y="408.5" width="11.6" height="11.6" fill="#7ec5e3"/><rect x="1357.5" y="408.5" width="29.8" height="6.4" fill="#7ec5e3"/><rect x="1356" y="413.4" width="32.8" height="7.2" fill="#5c5c5c"/><rect x="1357.7" y="415" width="4.8" height="4" fill="#9fcde3"/><rect x="1363.9" y="415" width="4.8" height="4" fill="#9fcde3"/><rect x="1370" y="415" width="4.8" height="4" fill="#9fcde3"/><rect x="1376.2" y="415" width="4.8" height="4" fill="#9fcde3"/><rect x="1382.3" y="415" width="4.8" height="4" fill="#9fcde3"/><rect x="1357.6" y="425.1" width="11.6" height="11.6" fill="#7ec5e3"/><rect x="1410" y="425.1" width="11.6" height="11.6" fill="#7ec5e3"/><rect x="1375.1" y="425.1" width="28.5" height="26.8" fill="#6e6e6e"/><line x1="1389.3" y1="425.1" x2="1389.3" y2="451.9" stroke="#8a8a8a" stroke-width="0.6"/><ellipse cx="1348.7" cy="431" rx="5.4" ry="1.1" fill="#000" opacity="0.13"/><clipPath id="c1575"><rect x="1348.7" y="411" width="12" height="22"/></clipPath><g fill="#5e9a2a"><circle cx="1348.7" cy="416.2" r="3.2"/><circle cx="1346.4" cy="420.1" r="3.4"/><circle cx="1351" cy="420.1" r="3.4"/><circle cx="1346.4" cy="424.3" r="3.7"/><circle cx="1351" cy="424.3" r="3.7"/><circle cx="1348.7" cy="422.4" r="3.6"/></g><g fill="#4b7f2a" clip-path="url(#c1575)"><circle cx="1348.7" cy="416.2" r="3.2"/><circle cx="1346.4" cy="420.1" r="3.4"/><circle cx="1351" cy="420.1" r="3.4"/><circle cx="1346.4" cy="424.3" r="3.7"/><circle cx="1351" cy="424.3" r="3.7"/><circle cx="1348.7" cy="422.4" r="3.6"/></g><polygon points="1347.9,431 1348.1,417.8 1349.3,417.8 1349.5,431" fill="#7d4b2a"/><line x1="1348.7" y1="423.6" x2="1345.7" y2="421.3" stroke="#7d4b2a" stroke-width="0.9" stroke-linecap="round"/><line x1="1348.7" y1="425.9" x2="1351.7" y2="423" stroke="#7d4b2a" stroke-width="0.9" stroke-linecap="round"/><ellipse cx="1352.7" cy="454.5" rx="7.2" ry="1.1" fill="#000" opacity="0.13"/><clipPath id="c1582"><rect x="1352.7" y="430" width="16" height="26.5"/></clipPath><g fill="#5e9a2a"><circle cx="1352.7" cy="436" r="4.3"/><circle cx="1349.7" cy="440.9" r="4.5"/><circle cx="1355.7" cy="440.9" r="4.5"/><circle cx="1349.7" cy="446.2" r="5"/><circle cx="1355.7" cy="446.2" r="5"/><circle cx="1352.7" cy="443.7" r="4.8"/></g><g fill="#4b7f2a" clip-path="url(#c1582)"><circle cx="1352.7" cy="436" r="4.3"/><circle cx="1349.7" cy="440.9" r="4.5"/><circle cx="1355.7" cy="440.9" r="4.5"/><circle cx="1349.7" cy="446.2" r="5"/><circle cx="1355.7" cy="446.2" r="5"/><circle cx="1352.7" cy="443.7" r="4.8"/></g><polygon points="1351.8,454.5 1352,438 1353.4,438 1353.6,454.5" fill="#7d4b2a"/><line x1="1352.7" y1="445.2" x2="1348.7" y2="442.4" stroke="#7d4b2a" stroke-width="1" stroke-linecap="round"/><line x1="1352.7" y1="448.1" x2="1356.7" y2="444.5" stroke="#7d4b2a" stroke-width="1" stroke-linecap="round"/><ellipse cx="1442.8" cy="429.5" rx="6.8" ry="1.1" fill="#000" opacity="0.13"/><clipPath id="c1589"><rect x="1442.8" y="405" width="15" height="26.5"/></clipPath><g fill="#5e9a2a"><circle cx="1442.8" cy="411" r="4.1"/><circle cx="1440" cy="415.9" r="4.2"/><circle cx="1445.6" cy="415.9" r="4.2"/><circle cx="1440" cy="421.2" r="4.7"/><circle cx="1445.6" cy="421.2" r="4.7"/><circle cx="1442.8" cy="418.7" r="4.5"/></g><g fill="#4b7f2a" clip-path="url(#c1589)"><circle cx="1442.8" cy="411" r="4.1"/><circle cx="1440" cy="415.9" r="4.2"/><circle cx="1445.6" cy="415.9" r="4.2"/><circle cx="1440" cy="421.2" r="4.7"/><circle cx="1445.6" cy="421.2" r="4.7"/><circle cx="1442.8" cy="418.7" r="4.5"/></g><polygon points="1442,429.5 1442.1,413 1443.5,413 1443.6,429.5" fill="#7d4b2a"/><line x1="1442.8" y1="420.2" x2="1439" y2="417.4" stroke="#7d4b2a" stroke-width="0.9" stroke-linecap="round"/><line x1="1442.8" y1="423.1" x2="1446.5" y2="419.5" stroke="#7d4b2a" stroke-width="0.9" stroke-linecap="round"/><ellipse cx="1437.1" cy="442.5" rx="6.8" ry="1.1" fill="#000" opacity="0.13"/><clipPath id="c1596"><rect x="1437.1" y="417" width="15" height="27.5"/></clipPath><g fill="#5e9a2a"><circle cx="1437.1" cy="423.1" r="4.1"/><circle cx="1434.2" cy="428.3" r="4.2"/><circle cx="1439.9" cy="428.3" r="4.2"/><circle cx="1434.2" cy="433.8" r="4.7"/><circle cx="1439.9" cy="433.8" r="4.7"/><circle cx="1437.1" cy="431.2" r="4.5"/></g><g fill="#4b7f2a" clip-path="url(#c1596)"><circle cx="1437.1" cy="423.1" r="4.1"/><circle cx="1434.2" cy="428.3" r="4.2"/><circle cx="1439.9" cy="428.3" r="4.2"/><circle cx="1434.2" cy="433.8" r="4.7"/><circle cx="1439.9" cy="433.8" r="4.7"/><circle cx="1437.1" cy="431.2" r="4.5"/></g><polygon points="1436.3,442.5 1436.4,425.3 1437.8,425.3 1437.9,442.5" fill="#7d4b2a"/><line x1="1437.1" y1="432.8" x2="1433.3" y2="429.9" stroke="#7d4b2a" stroke-width="0.9" stroke-linecap="round"/><line x1="1437.1" y1="435.8" x2="1440.8" y2="432" stroke="#7d4b2a" stroke-width="0.9" stroke-linecap="round"/><ellipse cx="1428.7" cy="455.5" rx="7.2" ry="1.1" fill="#000" opacity="0.13"/><clipPath id="c1603"><rect x="1428.7" y="431" width="16" height="26.5"/></clipPath><g fill="#5e9a2a"><circle cx="1428.7" cy="437" r="4.3"/><circle cx="1425.7" cy="441.9" r="4.5"/><circle cx="1431.7" cy="441.9" r="4.5"/><circle cx="1425.7" cy="447.2" r="5"/><circle cx="1431.7" cy="447.2" r="5"/><circle cx="1428.7" cy="444.7" r="4.8"/></g><g fill="#4b7f2a" clip-path="url(#c1603)"><circle cx="1428.7" cy="437" r="4.3"/><circle cx="1425.7" cy="441.9" r="4.5"/><circle cx="1431.7" cy="441.9" r="4.5"/><circle cx="1425.7" cy="447.2" r="5"/><circle cx="1431.7" cy="447.2" r="5"/><circle cx="1428.7" cy="444.7" r="4.8"/></g><polygon points="1427.8,455.5 1428,439 1429.4,439 1429.6,455.5" fill="#7d4b2a"/><line x1="1428.7" y1="446.2" x2="1424.7" y2="443.4" stroke="#7d4b2a" stroke-width="1" stroke-linecap="round"/><line x1="1428.7" y1="449.1" x2="1432.7" y2="445.5" stroke="#7d4b2a" stroke-width="1" stroke-linecap="round"/><g fill="#5e9a2a"><circle cx="1448" cy="433.1" r="1.8"/><circle cx="1445.9" cy="435.1" r="1.6"/><circle cx="1450.1" cy="435.1" r="1.6"/><circle cx="1447.3" cy="435.4" r="1.7"/><circle cx="1449" cy="435.4" r="1.7"/><rect x="1444" y="434.8" width="8" height="2.2" rx="2"/></g><g fill="#4b7f2a"><path d="M1447.4,437 A1.8,1.4 0 0 1 1451,437 Z"/><ellipse cx="1448" cy="435.8" rx="0.4" ry="1" transform="rotate(-40 1448 436.6)"/><ellipse cx="1448.6" cy="435.8" rx="0.4" ry="1" transform="rotate(-20 1448.6 436.6)"/><ellipse cx="1449.2" cy="435.8" rx="0.4" ry="1" transform="rotate(0 1449.2 436.6)"/><ellipse cx="1449.8" cy="435.8" rx="0.4" ry="1" transform="rotate(20 1449.8 436.6)"/><ellipse cx="1450.4" cy="435.8" rx="0.4" ry="1" transform="rotate(40 1450.4 436.6)"/></g><g fill="#5e9a2a"><circle cx="1442" cy="444.6" r="2"/><circle cx="1439.7" cy="446.9" r="1.8"/><circle cx="1444.3" cy="446.9" r="1.8"/><circle cx="1441.2" cy="447.2" r="1.9"/><circle cx="1443.1" cy="447.2" r="1.9"/><rect x="1437.5" y="446.5" width="9" height="2.5" rx="2"/></g><g fill="#4b7f2a"><path d="M1441.3,449 A2.1,1.6 0 0 1 1445.4,449 Z"/><ellipse cx="1442" cy="447.6" rx="0.5" ry="1.2" transform="rotate(-40 1442 448.6)"/><ellipse cx="1442.6" cy="447.6" rx="0.5" ry="1.2" transform="rotate(-20 1442.6 448.6)"/><ellipse cx="1443.3" cy="447.6" rx="0.5" ry="1.2" transform="rotate(0 1443.3 448.6)"/><ellipse cx="1444.1" cy="447.6" rx="0.5" ry="1.2" transform="rotate(20 1444.1 448.6)"/><ellipse cx="1444.7" cy="447.6" rx="0.5" ry="1.2" transform="rotate(40 1444.7 448.6)"/></g><ellipse cx="1409.4" cy="455.8" rx="5.1" ry="1.1" fill="#000" opacity="0.13"/><polygon points="1406.6,440.2 1409.5,440.2 1408.7,455.3 1407,455.3" fill="#7a7a7a"/><polygon points="1409.3,440.2 1412.2,440.2 1411.8,455.3 1410.1,455.3" fill="#7a7a7a"/><rect x="1406.3" y="455.1" width="2.6" height="0.9" fill="#1d1d1b" rx="0.4"/><rect x="1409.9" y="455.1" width="2.6" height="0.9" fill="#1d1d1b" rx="0.4"/><path d="M1408.1,430.1 L1410.7,430.1 Q1412.7,430.4 1412.7,432.5 L1412.3,441.5 L1406.5,441.5 L1406.1,432.5 Q1406.1,430.4 1408.1,430.1 Z" fill="#1f3a6f"/><line x1="1406.4" y1="431.2" x2="1406.1" y2="439.4" stroke="#1b3463" stroke-width="1.5" stroke-linecap="round"/><line x1="1412.4" y1="431.2" x2="1412.7" y2="439.4" stroke="#1b3463" stroke-width="1.5" stroke-linecap="round"/><circle cx="1406" cy="440.4" r="0.7" fill="#f2c9a8"/><circle cx="1412.8" cy="440.4" r="0.7" fill="#f2c9a8"/><rect x="1408.7" y="428.9" width="1.4" height="1.8" fill="#f2c9a8"/><ellipse cx="1409.4" cy="427.6" rx="1.8" ry="2.3" fill="#f2c9a8"/><path d="M1407.4,427.6 Q1407.1,424.8 1409.4,424.7 Q1411.7,424.8 1411.4,427.6 Q1409.4,425.8 1407.4,427.6 Z" fill="#2b2b2b"/><rect x="1471.1" y="433" width="32.6" height="20.3" fill="#e3d9cf"/><rect x="1470.2" y="431" width="34.4" height="2.5" fill="#5c5c5c"/><rect x="1479.3" y="435.9" width="10.1" height="17.4" fill="#5c5c5c"/><rect x="1493.8" y="438.2" width="5.8" height="6.4" fill="#7ec5e3"/><polygon points="1508.1,417.8 1536.6,395.4 1565.1,417.8 1565.1,453.3 1508.1,453.3" fill="#e3d9cf"/><polygon points="1502,418.5 1536.6,389.5 1571,418.5 1564,418.5 1536.6,396.3 1510,418.5" fill="#5c5c5c"/><rect x="1519.7" y="417" width="11.1" height="11" fill="#7ec5e3"/><rect x="1542.4" y="417" width="11.1" height="11" fill="#7ec5e3"/><rect x="1525.8" y="435.9" width="10.8" height="17.4" fill="#5c5c5c"/><g fill="#5e9a2a"><circle cx="1469" cy="418.7" r="2.4"/><circle cx="1466.1" cy="421.4" r="2.2"/><circle cx="1471.9" cy="421.4" r="2.2"/><circle cx="1468" cy="421.9" r="2.3"/><circle cx="1470.4" cy="421.9" r="2.3"/><rect x="1463.5" y="420.9" width="11" height="3.1" rx="2"/></g><g fill="#4b7f2a"><path d="M1468.1,424 A2.5,2 0 0 1 1473.2,424 Z"/><ellipse cx="1469" cy="422.4" rx="0.6" ry="1.4" transform="rotate(-40 1469 423.4)"/><ellipse cx="1469.8" cy="422.4" rx="0.6" ry="1.4" transform="rotate(-20 1469.8 423.4)"/><ellipse cx="1470.7" cy="422.4" rx="0.6" ry="1.4" transform="rotate(0 1470.7 423.4)"/><ellipse cx="1471.5" cy="422.4" rx="0.6" ry="1.4" transform="rotate(20 1471.5 423.4)"/><ellipse cx="1472.3" cy="422.4" rx="0.6" ry="1.4" transform="rotate(40 1472.3 423.4)"/></g><g fill="#5e9a2a"><circle cx="1480" cy="420.2" r="3.1"/><circle cx="1476.4" cy="423.7" r="2.8"/><circle cx="1483.6" cy="423.7" r="2.8"/><circle cx="1478.7" cy="424.3" r="2.9"/><circle cx="1481.7" cy="424.3" r="2.9"/><rect x="1473" y="423.1" width="14" height="3.9" rx="2"/></g><g fill="#4b7f2a"><path d="M1478.9,427 A3.2,2.5 0 0 1 1485.3,427 Z"/><ellipse cx="1480" cy="424.9" rx="0.7" ry="1.8" transform="rotate(-40 1480 426.3)"/><ellipse cx="1481" cy="424.9" rx="0.7" ry="1.8" transform="rotate(-20 1481 426.3)"/><ellipse cx="1482.1" cy="424.9" rx="0.7" ry="1.8" transform="rotate(0 1482.1 426.3)"/><ellipse cx="1483.2" cy="424.9" rx="0.7" ry="1.8" transform="rotate(20 1483.2 426.3)"/><ellipse cx="1484.2" cy="424.9" rx="0.7" ry="1.8" transform="rotate(40 1484.2 426.3)"/></g><g fill="#5e9a2a"><circle cx="1500" cy="417.7" r="2.9"/><circle cx="1496.6" cy="421" r="2.6"/><circle cx="1503.4" cy="421" r="2.6"/><circle cx="1498.8" cy="421.5" r="2.7"/><circle cx="1501.6" cy="421.5" r="2.7"/><rect x="1493.5" y="420.4" width="13" height="3.6" rx="2"/></g><g fill="#4b7f2a"><path d="M1499,424 A3,2.3 0 0 1 1504.9,424 Z"/><ellipse cx="1500" cy="422.1" rx="0.7" ry="1.7" transform="rotate(-40 1500 423.4)"/><ellipse cx="1500.9" cy="422.1" rx="0.7" ry="1.7" transform="rotate(-20 1500.9 423.4)"/><ellipse cx="1502" cy="422.1" rx="0.7" ry="1.7" transform="rotate(0 1502 423.4)"/><ellipse cx="1503" cy="422.1" rx="0.7" ry="1.7" transform="rotate(20 1503 423.4)"/><ellipse cx="1503.9" cy="422.1" rx="0.7" ry="1.7" transform="rotate(40 1503.9 423.4)"/></g><g fill="#5e9a2a"><circle cx="1472" cy="449.7" r="2.9"/><circle cx="1468.6" cy="453" r="2.6"/><circle cx="1475.4" cy="453" r="2.6"/><circle cx="1470.8" cy="453.5" r="2.7"/><circle cx="1473.6" cy="453.5" r="2.7"/><rect x="1465.5" y="452.4" width="13" height="3.6" rx="2"/></g><g fill="#4b7f2a"><path d="M1471,456 A3,2.3 0 0 1 1476.9,456 Z"/><ellipse cx="1472" cy="454.1" rx="0.7" ry="1.7" transform="rotate(-40 1472 455.4)"/><ellipse cx="1472.9" cy="454.1" rx="0.7" ry="1.7" transform="rotate(-20 1472.9 455.4)"/><ellipse cx="1474" cy="454.1" rx="0.7" ry="1.7" transform="rotate(0 1474 455.4)"/><ellipse cx="1475" cy="454.1" rx="0.7" ry="1.7" transform="rotate(20 1475 455.4)"/><ellipse cx="1475.9" cy="454.1" rx="0.7" ry="1.7" transform="rotate(40 1475.9 455.4)"/></g><g fill="#5e9a2a"><circle cx="1510" cy="447.7" r="2.9"/><circle cx="1506.6" cy="451" r="2.6"/><circle cx="1513.4" cy="451" r="2.6"/><circle cx="1508.8" cy="451.5" r="2.7"/><circle cx="1511.6" cy="451.5" r="2.7"/><rect x="1503.5" y="450.4" width="13" height="3.6" rx="2"/></g><g fill="#4b7f2a"><path d="M1509,454 A3,2.3 0 0 1 1514.9,454 Z"/><ellipse cx="1510" cy="452.1" rx="0.7" ry="1.7" transform="rotate(-40 1510 453.4)"/><ellipse cx="1510.9" cy="452.1" rx="0.7" ry="1.7" transform="rotate(-20 1510.9 453.4)"/><ellipse cx="1512" cy="452.1" rx="0.7" ry="1.7" transform="rotate(0 1512 453.4)"/><ellipse cx="1513" cy="452.1" rx="0.7" ry="1.7" transform="rotate(20 1513 453.4)"/><ellipse cx="1513.9" cy="452.1" rx="0.7" ry="1.7" transform="rotate(40 1513.9 453.4)"/></g><ellipse cx="1563.5" cy="458" rx="6.8" ry="1.1" fill="#000" opacity="0.13"/><clipPath id="c1646"><rect x="1563.5" y="433" width="15" height="27"/></clipPath><g fill="#5e9a2a"><circle cx="1563.5" cy="439.1" r="4.1"/><circle cx="1560.7" cy="444.1" r="4.2"/><circle cx="1566.3" cy="444.1" r="4.2"/><circle cx="1560.7" cy="449.5" r="4.7"/><circle cx="1566.3" cy="449.5" r="4.7"/><circle cx="1563.5" cy="447" r="4.5"/></g><g fill="#4b7f2a" clip-path="url(#c1646)"><circle cx="1563.5" cy="439.1" r="4.1"/><circle cx="1560.7" cy="444.1" r="4.2"/><circle cx="1566.3" cy="444.1" r="4.2"/><circle cx="1560.7" cy="449.5" r="4.7"/><circle cx="1566.3" cy="449.5" r="4.7"/><circle cx="1563.5" cy="447" r="4.5"/></g><polygon points="1562.7,458 1562.8,441.2 1564.2,441.2 1564.3,458" fill="#7d4b2a"/><line x1="1563.5" y1="448.5" x2="1559.8" y2="445.6" stroke="#7d4b2a" stroke-width="0.9" stroke-linecap="round"/><line x1="1563.5" y1="451.4" x2="1567.2" y2="447.8" stroke="#7d4b2a" stroke-width="0.9" stroke-linecap="round"/><ellipse cx="1568" cy="441" rx="4" ry="1.1" fill="#000" opacity="0.13"/><clipPath id="c1653"><rect x="1568" y="423" width="9" height="20"/></clipPath><g fill="#5e9a2a"><circle cx="1568" cy="427.8" r="2.4"/><circle cx="1566.3" cy="431.3" r="2.5"/><circle cx="1569.7" cy="431.3" r="2.5"/><circle cx="1566.3" cy="435.1" r="2.8"/><circle cx="1569.7" cy="435.1" r="2.8"/><circle cx="1568" cy="433.3" r="2.7"/></g><g fill="#4b7f2a" clip-path="url(#c1653)"><circle cx="1568" cy="427.8" r="2.4"/><circle cx="1566.3" cy="431.3" r="2.5"/><circle cx="1569.7" cy="431.3" r="2.5"/><circle cx="1566.3" cy="435.1" r="2.8"/><circle cx="1569.7" cy="435.1" r="2.8"/><circle cx="1568" cy="433.3" r="2.7"/></g><polygon points="1567.2,441 1567.4,429.3 1568.6,429.3 1568.8,441" fill="#7d4b2a"/><line x1="1568" y1="434.4" x2="1565.8" y2="432.4" stroke="#7d4b2a" stroke-width="0.9" stroke-linecap="round"/><line x1="1568" y1="436.4" x2="1570.2" y2="433.9" stroke="#7d4b2a" stroke-width="0.9" stroke-linecap="round"/><rect x="1456.5" y="408" width="13" height="13" fill="#fff" rx="2"/><rect x="1457.5" y="409.5" width="11" height="4.5" fill="#cfe4f0" rx="1"/><rect x="1456.5" y="417.5" width="13" height="2.5" fill="#0080c8"/><rect x="1457" y="420.5" width="2.5" height="3.5" fill="#2b2b2b"/><rect x="1466.5" y="420.5" width="2.5" height="3.5" fill="#2b2b2b"/><rect x="1634.7" y="263.3" width="3.7" height="8" fill="#ddd3c6"/><rect x="1684" y="263.3" width="3.7" height="8" fill="#ddd3c6"/><rect x="1616" y="270.5" width="87.5" height="25.5" fill="#5c5c5c"/><rect x="1660.6" y="281.8" width="28.3" height="6.2" fill="#7ec5e3"/><rect x="1665.5" y="288" width="3.2" height="8.6" fill="#ddd3c6"/><rect x="1683.5" y="288" width="3.4" height="8.6" fill="#ddd3c6"/><polygon points="1589.3,298.7 1615.9,277.5 1625,284.5 1625,333.5 1589.3,333.5" fill="#b5c9c4"/><polygon points="1583,299.5 1615.9,271.5 1628,281 1628,288 1615.9,278.5 1590.5,299.5" fill="#5c5c5c"/><rect x="1601.4" y="297.8" width="10.6" height="10.6" fill="#7ec5e3"/><rect x="1601.4" y="314.7" width="23.6" height="10.6" fill="#7ec5e3"/><rect x="1625" y="296" width="57.4" height="27.8" fill="#5c5c5c"/><rect x="1635" y="304.1" width="13.5" height="9.7" fill="#7ec5e3"/><rect x="1657.6" y="304.1" width="13.6" height="9.7" fill="#7ec5e3"/><rect x="1625" y="323.8" width="57.4" height="34.7" fill="#c9b8a5"/><rect x="1648.5" y="341.6" width="10.6" height="16.9" fill="#5c5c5c"/><polygon points="1682.4,323.8 1711.1,300.2 1739.2,323.8 1739.2,358.5 1682.4,358.5" fill="#e4d2bd"/><polygon points="1682.4,295.7 1710.2,295.7 1746.5,324.4 1738.2,324.4 1711.1,302.3 1682.4,325.2" fill="#5c5c5c"/><rect x="1693.9" y="322" width="11.2" height="10.9" fill="#7ec5e3"/><rect x="1716.5" y="322" width="11.2" height="10.9" fill="#7ec5e3"/><rect x="1699.9" y="341" width="11.2" height="17.5" fill="#5c5c5c"/><g fill="#5e9a2a"><circle cx="1591" cy="330.2" r="3.1"/><circle cx="1587.4" cy="333.7" r="2.8"/><circle cx="1594.6" cy="333.7" r="2.8"/><circle cx="1589.7" cy="334.3" r="2.9"/><circle cx="1592.7" cy="334.3" r="2.9"/><rect x="1584" y="333.1" width="14" height="3.9" rx="2"/></g><g fill="#4b7f2a"><path d="M1589.9,337 A3.2,2.5 0 0 1 1596.3,337 Z"/><ellipse cx="1591" cy="334.9" rx="0.7" ry="1.8" transform="rotate(-40 1591 336.3)"/><ellipse cx="1592" cy="334.9" rx="0.7" ry="1.8" transform="rotate(-20 1592 336.3)"/><ellipse cx="1593.1" cy="334.9" rx="0.7" ry="1.8" transform="rotate(0 1593.1 336.3)"/><ellipse cx="1594.2" cy="334.9" rx="0.7" ry="1.8" transform="rotate(20 1594.2 336.3)"/><ellipse cx="1595.2" cy="334.9" rx="0.7" ry="1.8" transform="rotate(40 1595.2 336.3)"/></g><g fill="#5e9a2a"><circle cx="1608" cy="339.2" r="3.1"/><circle cx="1604.4" cy="342.7" r="2.8"/><circle cx="1611.6" cy="342.7" r="2.8"/><circle cx="1606.7" cy="343.3" r="2.9"/><circle cx="1609.7" cy="343.3" r="2.9"/><rect x="1601" y="342.1" width="14" height="3.9" rx="2"/></g><g fill="#4b7f2a"><path d="M1606.9,346 A3.2,2.5 0 0 1 1613.3,346 Z"/><ellipse cx="1608" cy="343.9" rx="0.7" ry="1.8" transform="rotate(-40 1608 345.3)"/><ellipse cx="1609" cy="343.9" rx="0.7" ry="1.8" transform="rotate(-20 1609 345.3)"/><ellipse cx="1610.1" cy="343.9" rx="0.7" ry="1.8" transform="rotate(0 1610.1 345.3)"/><ellipse cx="1611.2" cy="343.9" rx="0.7" ry="1.8" transform="rotate(20 1611.2 345.3)"/><ellipse cx="1612.2" cy="343.9" rx="0.7" ry="1.8" transform="rotate(40 1612.2 345.3)"/></g><g fill="#5e9a2a"><circle cx="1593" cy="348.2" r="3.1"/><circle cx="1589.4" cy="351.7" r="2.8"/><circle cx="1596.6" cy="351.7" r="2.8"/><circle cx="1591.7" cy="352.3" r="2.9"/><circle cx="1594.7" cy="352.3" r="2.9"/><rect x="1586" y="351.1" width="14" height="3.9" rx="2"/></g><g fill="#4b7f2a"><path d="M1591.9,355 A3.2,2.5 0 0 1 1598.3,355 Z"/><ellipse cx="1593" cy="352.9" rx="0.7" ry="1.8" transform="rotate(-40 1593 354.3)"/><ellipse cx="1594" cy="352.9" rx="0.7" ry="1.8" transform="rotate(-20 1594 354.3)"/><ellipse cx="1595.1" cy="352.9" rx="0.7" ry="1.8" transform="rotate(0 1595.1 354.3)"/><ellipse cx="1596.2" cy="352.9" rx="0.7" ry="1.8" transform="rotate(20 1596.2 354.3)"/><ellipse cx="1597.2" cy="352.9" rx="0.7" ry="1.8" transform="rotate(40 1597.2 354.3)"/></g><g fill="#5e9a2a"><circle cx="1611" cy="357.2" r="3.1"/><circle cx="1607.4" cy="360.7" r="2.8"/><circle cx="1614.6" cy="360.7" r="2.8"/><circle cx="1609.7" cy="361.3" r="2.9"/><circle cx="1612.7" cy="361.3" r="2.9"/><rect x="1604" y="360.1" width="14" height="3.9" rx="2"/></g><g fill="#4b7f2a"><path d="M1609.9,364 A3.2,2.5 0 0 1 1616.3,364 Z"/><ellipse cx="1611" cy="361.9" rx="0.7" ry="1.8" transform="rotate(-40 1611 363.3)"/><ellipse cx="1612" cy="361.9" rx="0.7" ry="1.8" transform="rotate(-20 1612 363.3)"/><ellipse cx="1613.1" cy="361.9" rx="0.7" ry="1.8" transform="rotate(0 1613.1 363.3)"/><ellipse cx="1614.2" cy="361.9" rx="0.7" ry="1.8" transform="rotate(20 1614.2 363.3)"/><ellipse cx="1615.2" cy="361.9" rx="0.7" ry="1.8" transform="rotate(40 1615.2 363.3)"/></g><g fill="#5e9a2a"><circle cx="1621" cy="347.2" r="2.2"/><circle cx="1618.4" cy="349.7" r="2"/><circle cx="1623.6" cy="349.7" r="2"/><circle cx="1620.1" cy="350.1" r="2.1"/><circle cx="1622.2" cy="350.1" r="2.1"/><rect x="1616" y="349.2" width="10" height="2.8" rx="2"/></g><g fill="#4b7f2a"><path d="M1620.2,352 A2.3,1.8 0 0 1 1624.8,352 Z"/><ellipse cx="1621" cy="350.5" rx="0.5" ry="1.3" transform="rotate(-40 1621 351.5)"/><ellipse cx="1621.7" cy="350.5" rx="0.5" ry="1.3" transform="rotate(-20 1621.7 351.5)"/><ellipse cx="1622.5" cy="350.5" rx="0.5" ry="1.3" transform="rotate(0 1622.5 351.5)"/><ellipse cx="1623.3" cy="350.5" rx="0.5" ry="1.3" transform="rotate(20 1623.3 351.5)"/><ellipse cx="1624" cy="350.5" rx="0.5" ry="1.3" transform="rotate(40 1624 351.5)"/></g><g fill="#5e9a2a"><circle cx="1629" cy="354.2" r="3.1"/><circle cx="1625.4" cy="357.7" r="2.8"/><circle cx="1632.6" cy="357.7" r="2.8"/><circle cx="1627.7" cy="358.3" r="2.9"/><circle cx="1630.7" cy="358.3" r="2.9"/><rect x="1622" y="357.1" width="14" height="3.9" rx="2"/></g><g fill="#4b7f2a"><path d="M1627.9,361 A3.2,2.5 0 0 1 1634.3,361 Z"/><ellipse cx="1629" cy="358.9" rx="0.7" ry="1.8" transform="rotate(-40 1629 360.3)"/><ellipse cx="1630" cy="358.9" rx="0.7" ry="1.8" transform="rotate(-20 1630 360.3)"/><ellipse cx="1631.1" cy="358.9" rx="0.7" ry="1.8" transform="rotate(0 1631.1 360.3)"/><ellipse cx="1632.2" cy="358.9" rx="0.7" ry="1.8" transform="rotate(20 1632.2 360.3)"/><ellipse cx="1633.2" cy="358.9" rx="0.7" ry="1.8" transform="rotate(40 1633.2 360.3)"/></g><g fill="#5e9a2a"><circle cx="1673" cy="356.2" r="3.1"/><circle cx="1669.4" cy="359.7" r="2.8"/><circle cx="1676.6" cy="359.7" r="2.8"/><circle cx="1671.7" cy="360.3" r="2.9"/><circle cx="1674.7" cy="360.3" r="2.9"/><rect x="1666" y="359.1" width="14" height="3.9" rx="2"/></g><g fill="#4b7f2a"><path d="M1671.9,363 A3.2,2.5 0 0 1 1678.3,363 Z"/><ellipse cx="1673" cy="360.9" rx="0.7" ry="1.8" transform="rotate(-40 1673 362.3)"/><ellipse cx="1674" cy="360.9" rx="0.7" ry="1.8" transform="rotate(-20 1674 362.3)"/><ellipse cx="1675.1" cy="360.9" rx="0.7" ry="1.8" transform="rotate(0 1675.1 362.3)"/><ellipse cx="1676.2" cy="360.9" rx="0.7" ry="1.8" transform="rotate(20 1676.2 362.3)"/><ellipse cx="1677.2" cy="360.9" rx="0.7" ry="1.8" transform="rotate(40 1677.2 362.3)"/></g><g fill="#5e9a2a"><circle cx="1683" cy="348.2" r="2.6"/><circle cx="1679.9" cy="351.2" r="2.4"/><circle cx="1686.1" cy="351.2" r="2.4"/><circle cx="1681.9" cy="351.7" r="2.5"/><circle cx="1684.5" cy="351.7" r="2.5"/><rect x="1677" y="350.6" width="12" height="3.4" rx="2"/></g><g fill="#4b7f2a"><path d="M1682,354 A2.8,2.2 0 0 1 1687.6,354 Z"/><ellipse cx="1683" cy="352.2" rx="0.6" ry="1.6" transform="rotate(-40 1683 353.4)"/><ellipse cx="1683.8" cy="352.2" rx="0.6" ry="1.6" transform="rotate(-20 1683.8 353.4)"/><ellipse cx="1684.8" cy="352.2" rx="0.6" ry="1.6" transform="rotate(0 1684.8 353.4)"/><ellipse cx="1685.8" cy="352.2" rx="0.6" ry="1.6" transform="rotate(20 1685.8 353.4)"/><ellipse cx="1686.6" cy="352.2" rx="0.6" ry="1.6" transform="rotate(40 1686.6 353.4)"/></g><g fill="#5e9a2a"><circle cx="1737" cy="354.2" r="3.1"/><circle cx="1733.4" cy="357.7" r="2.8"/><circle cx="1740.6" cy="357.7" r="2.8"/><circle cx="1735.7" cy="358.3" r="2.9"/><circle cx="1738.7" cy="358.3" r="2.9"/><rect x="1730" y="357.1" width="14" height="3.9" rx="2"/></g><g fill="#4b7f2a"><path d="M1735.9,361 A3.2,2.5 0 0 1 1742.3,361 Z"/><ellipse cx="1737" cy="358.9" rx="0.7" ry="1.8" transform="rotate(-40 1737 360.3)"/><ellipse cx="1738" cy="358.9" rx="0.7" ry="1.8" transform="rotate(-20 1738 360.3)"/><ellipse cx="1739.1" cy="358.9" rx="0.7" ry="1.8" transform="rotate(0 1739.1 360.3)"/><ellipse cx="1740.2" cy="358.9" rx="0.7" ry="1.8" transform="rotate(20 1740.2 360.3)"/><ellipse cx="1741.2" cy="358.9" rx="0.7" ry="1.8" transform="rotate(40 1741.2 360.3)"/></g><g fill="#5e9a2a"><circle cx="1730" cy="302.2" r="2.6"/><circle cx="1726.9" cy="305.2" r="2.4"/><circle cx="1733.1" cy="305.2" r="2.4"/><circle cx="1728.9" cy="305.7" r="2.5"/><circle cx="1731.5" cy="305.7" r="2.5"/><rect x="1724" y="304.6" width="12" height="3.4" rx="2"/></g><g fill="#4b7f2a"><path d="M1729,308 A2.8,2.2 0 0 1 1734.6,308 Z"/><ellipse cx="1730" cy="306.2" rx="0.6" ry="1.6" transform="rotate(-40 1730 307.4)"/><ellipse cx="1730.8" cy="306.2" rx="0.6" ry="1.6" transform="rotate(-20 1730.8 307.4)"/><ellipse cx="1731.8" cy="306.2" rx="0.6" ry="1.6" transform="rotate(0 1731.8 307.4)"/><ellipse cx="1732.8" cy="306.2" rx="0.6" ry="1.6" transform="rotate(20 1732.8 307.4)"/><ellipse cx="1733.6" cy="306.2" rx="0.6" ry="1.6" transform="rotate(40 1733.6 307.4)"/></g><g fill="#5e9a2a"><circle cx="1716" cy="292.2" r="2.2"/><circle cx="1713.4" cy="294.7" r="2"/><circle cx="1718.6" cy="294.7" r="2"/><circle cx="1715.1" cy="295.1" r="2.1"/><circle cx="1717.2" cy="295.1" r="2.1"/><rect x="1711" y="294.2" width="10" height="2.8" rx="2"/></g><g fill="#4b7f2a"><path d="M1715.2,297 A2.3,1.8 0 0 1 1719.8,297 Z"/><ellipse cx="1716" cy="295.5" rx="0.5" ry="1.3" transform="rotate(-40 1716 296.5)"/><ellipse cx="1716.7" cy="295.5" rx="0.5" ry="1.3" transform="rotate(-20 1716.7 296.5)"/><ellipse cx="1717.5" cy="295.5" rx="0.5" ry="1.3" transform="rotate(0 1717.5 296.5)"/><ellipse cx="1718.3" cy="295.5" rx="0.5" ry="1.3" transform="rotate(20 1718.3 296.5)"/><ellipse cx="1719" cy="295.5" rx="0.5" ry="1.3" transform="rotate(40 1719 296.5)"/></g><g fill="#5e9a2a"><circle cx="1740" cy="315.6" r="2"/><circle cx="1737.7" cy="317.9" r="1.8"/><circle cx="1742.3" cy="317.9" r="1.8"/><circle cx="1739.2" cy="318.2" r="1.9"/><circle cx="1741.1" cy="318.2" r="1.9"/><rect x="1735.5" y="317.5" width="9" height="2.5" rx="2"/></g><g fill="#4b7f2a"><path d="M1739.3,320 A2.1,1.6 0 0 1 1743.4,320 Z"/><ellipse cx="1740" cy="318.6" rx="0.5" ry="1.2" transform="rotate(-40 1740 319.6)"/><ellipse cx="1740.6" cy="318.6" rx="0.5" ry="1.2" transform="rotate(-20 1740.6 319.6)"/><ellipse cx="1741.3" cy="318.6" rx="0.5" ry="1.2" transform="rotate(0 1741.3 319.6)"/><ellipse cx="1742.1" cy="318.6" rx="0.5" ry="1.2" transform="rotate(20 1742.1 319.6)"/><ellipse cx="1742.7" cy="318.6" rx="0.5" ry="1.2" transform="rotate(40 1742.7 319.6)"/></g><ellipse cx="1721.7" cy="364.1" rx="4.3" ry="1.1" fill="#000" opacity="0.13"/><polygon points="1719.3,350.9 1721.8,350.9 1721.1,363.7 1719.6,363.7" fill="#1d1d1b"/><polygon points="1721.6,350.9 1724.1,350.9 1723.8,363.7 1722.3,363.7" fill="#1d1d1b"/><rect x="1719.1" y="363.5" width="2.2" height="0.8" fill="#1d1d1b" rx="0.4"/><rect x="1722.2" y="363.5" width="2.2" height="0.8" fill="#1d1d1b" rx="0.4"/><path d="M1720.6,342.3 L1722.8,342.3 Q1724.5,342.6 1724.5,344.4 L1724.1,352 L1719.3,352 L1718.9,344.4 Q1718.9,342.6 1720.6,342.3 Z" fill="#2a4d7c"/><line x1="1719.2" y1="343.3" x2="1718.9" y2="350.2" stroke="#25456f" stroke-width="1.3" stroke-linecap="round"/><line x1="1724.2" y1="343.3" x2="1724.5" y2="350.2" stroke="#25456f" stroke-width="1.3" stroke-linecap="round"/><circle cx="1718.8" cy="351.1" r="0.6" fill="#f2c9a8"/><circle cx="1724.6" cy="351.1" r="0.6" fill="#f2c9a8"/><rect x="1721.1" y="341.3" width="1.2" height="1.5" fill="#f2c9a8"/><ellipse cx="1721.7" cy="340.2" rx="1.5" ry="1.9" fill="#f2c9a8"/><path d="M1720,340.2 Q1719.8,337.8 1721.7,337.7 Q1723.6,337.8 1723.4,340.2 Q1721.7,338.7 1720,340.2 Z" fill="#2b2b2b"/><g fill="#5e9a2a"><circle cx="1764" cy="362.2" r="3.1"/><circle cx="1760.4" cy="365.7" r="2.8"/><circle cx="1767.6" cy="365.7" r="2.8"/><circle cx="1762.7" cy="366.3" r="2.9"/><circle cx="1765.7" cy="366.3" r="2.9"/><rect x="1757" y="365.1" width="14" height="3.9" rx="2"/></g><g fill="#4b7f2a"><path d="M1762.9,369 A3.2,2.5 0 0 1 1769.3,369 Z"/><ellipse cx="1764" cy="366.9" rx="0.7" ry="1.8" transform="rotate(-40 1764 368.3)"/><ellipse cx="1765" cy="366.9" rx="0.7" ry="1.8" transform="rotate(-20 1765 368.3)"/><ellipse cx="1766.1" cy="366.9" rx="0.7" ry="1.8" transform="rotate(0 1766.1 368.3)"/><ellipse cx="1767.2" cy="366.9" rx="0.7" ry="1.8" transform="rotate(20 1767.2 368.3)"/><ellipse cx="1768.2" cy="366.9" rx="0.7" ry="1.8" transform="rotate(40 1768.2 368.3)"/></g><g fill="#5e9a2a"><circle cx="1777" cy="369.2" r="3.1"/><circle cx="1773.4" cy="372.7" r="2.8"/><circle cx="1780.6" cy="372.7" r="2.8"/><circle cx="1775.7" cy="373.3" r="2.9"/><circle cx="1778.7" cy="373.3" r="2.9"/><rect x="1770" y="372.1" width="14" height="3.9" rx="2"/></g><g fill="#4b7f2a"><path d="M1775.9,376 A3.2,2.5 0 0 1 1782.3,376 Z"/><ellipse cx="1777" cy="373.9" rx="0.7" ry="1.8" transform="rotate(-40 1777 375.3)"/><ellipse cx="1778" cy="373.9" rx="0.7" ry="1.8" transform="rotate(-20 1778 375.3)"/><ellipse cx="1779.1" cy="373.9" rx="0.7" ry="1.8" transform="rotate(0 1779.1 375.3)"/><ellipse cx="1780.2" cy="373.9" rx="0.7" ry="1.8" transform="rotate(20 1780.2 375.3)"/><ellipse cx="1781.2" cy="373.9" rx="0.7" ry="1.8" transform="rotate(40 1781.2 375.3)"/></g><polygon points="1649.8,390.9 1686.9,361.6 1724.1,390.9 1724.1,435.6 1649.8,435.6" fill="#e3d9cf"/><rect x="1724.1" y="390.9" width="49" height="44.7" fill="#e0d6cc"/><polygon points="1641,390.9 1686.9,354 1712.6,374.3 1766.4,374.3 1774.6,390.9 1724.1,390.9 1686.9,362.1 1651,390.9" fill="#666"/><rect x="1664.3" y="383.9" width="44.4" height="13.6" fill="#fff"/><text x="1686.5" y="394.3" font-size="10.6" text-anchor="middle" fill="#283457">school</text><rect x="1673.3" y="405.4" width="18.2" height="30.2" fill="#6e6e6e"/><rect x="1728.3" y="400.6" width="10.6" height="9" fill="#7ec5e3"/><rect x="1728.3" y="417.2" width="10.6" height="9.3" fill="#7ec5e3"/><rect x="1742.8" y="400.6" width="10.6" height="9" fill="#7ec5e3"/><rect x="1742.8" y="417.2" width="10.6" height="9.3" fill="#7ec5e3"/><rect x="1757.3" y="400.6" width="10.6" height="9" fill="#7ec5e3"/><rect x="1757.3" y="417.2" width="10.6" height="9.3" fill="#7ec5e3"/><rect x="1651.7" y="406.1" width="16.7" height="13.1" fill="#d8d8d2"/><rect x="1652.9" y="407.3" width="14.3" height="10.7" fill="#2b2f2a"/><path d="M1656,414 l3,-3 l2,2 l3,-3" stroke="#c8d400" stroke-width="0.7" fill="none"/><ellipse cx="1723.2" cy="507.2" rx="9.5" ry="1.1" fill="#000" opacity="0.13"/><path d="M1723.2,474 C1720.2,474 1717.2,482.1 1713.7,492.7 C1712.2,497.1 1715.2,498.6 1719,498.6 L1723.2,497.8 Z" fill="#5e9a2a"/><path d="M1722.8,474.1 C1726.2,474 1729.2,482.1 1732.7,492.7 C1734.2,497.1 1731.2,498.6 1727.4,498.6 L1723.2,497.8 Z" fill="#4b7f2a"/><polygon points="1721.5,507.2 1722,482.8 1724.4,482.8 1724.9,507.2" fill="#7d4b2a"/><line x1="1723.2" y1="493.7" x2="1719" y2="491.2" stroke="#7d4b2a" stroke-width="1.4" stroke-linecap="round"/><line x1="1723.2" y1="491.2" x2="1726.4" y2="486.8" stroke="#7d4b2a" stroke-width="1.4" stroke-linecap="round"/><ellipse cx="1748.9" cy="502.1" rx="9.5" ry="1.1" fill="#000" opacity="0.13"/><path d="M1748.9,468.5 C1745.9,468.5 1742.9,476.7 1739.4,487.4 C1737.9,491.9 1740.9,493.4 1744.7,493.4 L1748.9,492.6 Z" fill="#5e9a2a"/><path d="M1748.5,468.6 C1751.9,468.5 1754.9,476.7 1758.4,487.4 C1759.9,491.9 1756.9,493.4 1753.1,493.4 L1748.9,492.6 Z" fill="#4b7f2a"/><polygon points="1747.2,502.1 1747.7,477.5 1750.1,477.5 1750.6,502.1" fill="#7d4b2a"/><line x1="1748.9" y1="488.4" x2="1744.7" y2="485.9" stroke="#7d4b2a" stroke-width="1.4" stroke-linecap="round"/><line x1="1748.9" y1="485.9" x2="1752.1" y2="481.4" stroke="#7d4b2a" stroke-width="1.4" stroke-linecap="round"/><ellipse cx="1770" cy="507.2" rx="9.5" ry="1.1" fill="#000" opacity="0.13"/><path d="M1770,474 C1767,474 1764,482.1 1760.5,492.7 C1759,497.1 1762,498.6 1765.8,498.6 L1770,497.8 Z" fill="#5e9a2a"/><path d="M1769.6,474.1 C1773,474 1776,482.1 1779.5,492.7 C1781,497.1 1778,498.6 1774.2,498.6 L1770,497.8 Z" fill="#4b7f2a"/><polygon points="1768.3,507.2 1768.8,482.8 1771.2,482.8 1771.7,507.2" fill="#7d4b2a"/><line x1="1770" y1="493.7" x2="1765.8" y2="491.2" stroke="#7d4b2a" stroke-width="1.4" stroke-linecap="round"/><line x1="1770" y1="491.2" x2="1773.2" y2="486.8" stroke="#7d4b2a" stroke-width="1.4" stroke-linecap="round"/><ellipse cx="1694.7" cy="523.9" rx="14.4" ry="1.1" fill="#000" opacity="0.13"/><rect x="1682.9" y="507.2" width="23" height="7" fill="#7d4b2a"/><rect x="1680.9" y="516.2" width="27.6" height="4.3" fill="#7d4b2a"/><rect x="1680.3" y="511.7" width="1.9" height="12.2" fill="#7d4b2a"/><rect x="1707.1" y="511.7" width="1.9" height="12.2" fill="#7d4b2a"/><ellipse cx="1593.2" cy="412.3" rx="7.7" ry="1.1" fill="#000" opacity="0.13"/><polygon points="1590.1,389.4 1592.9,389.4 1592.4,411.5 1590.6,411.5" fill="#f2c9a8"/><polygon points="1593.5,389.4 1596.3,389.4 1595.8,411.5 1594,411.5" fill="#f2c9a8"/><polygon points="1589.2,388 1597.2,388 1597.7,406.7 1588.7,406.7" fill="#7a7a7a"/><rect x="1588.5" y="411.2" width="3.9" height="1.4" fill="#1f3a6f" rx="0.6"/><rect x="1594" y="411.2" width="3.9" height="1.4" fill="#1f3a6f" rx="0.6"/><path d="M1591.2,373 L1595.2,373 Q1598.2,373.4 1598.2,376.7 L1597.6,390.4 L1588.8,390.4 L1588.2,376.7 Q1588.2,373.4 1591.2,373 Z" fill="#0f8fd0"/><line x1="1588.4" y1="374.7" x2="1587.8" y2="386.7" stroke="#0d80bb" stroke-width="2.3" stroke-linecap="round"/><polyline points="1598,374.7 1599.1,382.2 1604.6,379.4" fill="none" stroke="#0f8fd0" stroke-width="2.3" stroke-linejoin="round" stroke-linecap="round"/><circle cx="1605.8" cy="379" r="1.2" fill="#f2c9a8"/><rect x="1592.1" y="371.2" width="2.2" height="2.7" fill="#f2c9a8"/><ellipse cx="1593.2" cy="369.2" rx="2.7" ry="3.5" fill="#f2c9a8"/><path d="M1590.2,369.2 Q1589.7,364.9 1593.2,364.7 Q1596.7,364.9 1596.2,369.2 Q1593.2,366.5 1590.2,369.2 Z" fill="#8a8a8a"/><circle cx="1594.6" cy="366" r="1.9" fill="#8a8a8a"/><ellipse cx="1605.9" cy="417.9" rx="5.5" ry="1.1" fill="#000" opacity="0.13"/><polygon points="1602.8,400.8 1606,400.8 1605.1,417.3 1603.2,417.3" fill="#1f3a8f"/><polygon points="1605.8,400.8 1609,400.8 1608.6,417.3 1606.7,417.3" fill="#1f3a8f"/><rect x="1602.5" y="417.1" width="2.8" height="1" fill="#1d1d1b" rx="0.5"/><rect x="1606.5" y="417.1" width="2.8" height="1" fill="#1d1d1b" rx="0.5"/><path d="M1604.5,389.8 L1607.3,389.8 Q1609.5,390.1 1609.5,392.4 L1609,402.3 L1602.8,402.3 L1602.3,392.4 Q1602.3,390.1 1604.5,389.8 Z" fill="#b5c832"/><line x1="1602.6" y1="391" x2="1602.2" y2="399.9" stroke="#a2b42d" stroke-width="1.6" stroke-linecap="round"/><line x1="1609.2" y1="391" x2="1609.6" y2="399.9" stroke="#a2b42d" stroke-width="1.6" stroke-linecap="round"/><circle cx="1602.2" cy="401.1" r="0.8" fill="#f2c9a8"/><circle cx="1609.6" cy="401.1" r="0.8" fill="#f2c9a8"/><rect x="1605.1" y="388.5" width="1.6" height="2" fill="#f2c9a8"/><ellipse cx="1605.9" cy="387.1" rx="2" ry="2.5" fill="#f2c9a8"/><path d="M1603.7,387.1 Q1603.4,384 1605.9,383.9 Q1608.4,384 1608.1,387.1 Q1605.9,385.1 1603.7,387.1 Z" fill="#8a4a20"/><ellipse cx="1641" cy="490.3" rx="7.9" ry="1.1" fill="#000" opacity="0.13"/><polygon points="1636.6,466 1641.2,466 1639.9,489.5 1637.2,489.5" fill="#1d1d1b"/><polygon points="1640.8,466 1645.4,466 1644.8,489.5 1642.1,489.5" fill="#1d1d1b"/><rect x="1636.2" y="489.2" width="4" height="1.4" fill="#1d1d1b" rx="0.7"/><rect x="1641.8" y="489.2" width="4" height="1.4" fill="#1d1d1b" rx="0.7"/><path d="M1639,450.3 L1643,450.3 Q1646.1,450.7 1646.1,454 L1645.5,468 L1636.5,468 L1635.9,454 Q1635.9,450.7 1639,450.3 Z" fill="#2b2b2b"/><polygon points="1640.4,450.3 1641.6,450.3 1641.7,459.1 1641,460.5 1640.3,459.1" fill="#c8d400"/><line x1="1636.3" y1="452" x2="1636.1" y2="458.6" stroke="#2b2b2b" stroke-width="2.3" stroke-linecap="round"/><line x1="1645.7" y1="452" x2="1645.9" y2="458.6" stroke="#2b2b2b" stroke-width="2.3" stroke-linecap="round"/><line x1="1636.3" y1="458.9" x2="1644.9" y2="457.7" stroke="#262626" stroke-width="2.3" stroke-linecap="round"/><line x1="1645.7" y1="458.9" x2="1637.9" y2="459.9" stroke="#262626" stroke-width="2.3" stroke-linecap="round"/><circle cx="1645.3" cy="457.5" r="1.1" fill="#8b5a3c"/><circle cx="1637.1" cy="459.9" r="1.1" fill="#8b5a3c"/><rect x="1639.9" y="448.4" width="2.2" height="2.8" fill="#8b5a3c"/><ellipse cx="1641" cy="446.4" rx="2.8" ry="3.5" fill="#8b5a3c"/><path d="M1637.9,446.4 Q1637.5,442 1641,441.8 Q1644.5,442 1644.1,446.4 Q1641,443.6 1637.9,446.4 Z" fill="#1d1d1b"/><rect x="1645.5" y="435.5" width="16.5" height="5.3" fill="#283457" rx="1"/><rect x="1650.5" y="443" width="15.5" height="9" fill="#283457" rx="1.5"/><rect x="1668.8" y="447.5" width="7.7" height="10" fill="#283457" rx="1"/><ellipse cx="1646.8" cy="439.3" rx="5.5" ry="1.1" fill="#000" opacity="0.13"/><polygon points="1643.8,422.4 1646.9,422.4 1646,438.7 1644.2,438.7" fill="#2a4d7c"/><polygon points="1646.7,422.4 1649.8,422.4 1649.4,438.7 1647.6,438.7" fill="#2a4d7c"/><rect x="1643.5" y="438.5" width="2.8" height="1" fill="#1d1d1b" rx="0.5"/><rect x="1647.4" y="438.5" width="2.8" height="1" fill="#1d1d1b" rx="0.5"/><path d="M1645.4,411.5 L1648.2,411.5 Q1650.3,411.8 1650.3,414.1 L1649.9,423.8 L1643.7,423.8 L1643.3,414.1 Q1643.3,411.8 1645.4,411.5 Z" fill="#1f2a4f"/><line x1="1643.4" y1="412.7" x2="1643" y2="421.2" stroke="#1b2547" stroke-width="1.6" stroke-linecap="round"/><polyline points="1650.2,412.7 1651,418 1654.9,416" fill="none" stroke="#1f2a4f" stroke-width="1.6" stroke-linejoin="round" stroke-linecap="round"/><circle cx="1655.7" cy="415.7" r="0.8" fill="#f2c9a8"/><rect x="1646" y="410.3" width="1.5" height="1.9" fill="#f2c9a8"/><ellipse cx="1646.8" cy="408.8" rx="1.9" ry="2.4" fill="#f2c9a8"/><path d="M1644.7,408.8 Q1644.4,405.8 1646.8,405.7 Q1649.2,405.8 1648.9,408.8 Q1646.8,406.9 1644.7,408.8 Z" fill="#1d1d1b"/><ellipse cx="1677" cy="458.8" rx="5.1" ry="1.1" fill="#000" opacity="0.13"/><polygon points="1674.2,443.2 1677.1,443.2 1676.3,458.3 1674.6,458.3" fill="#5a4a42"/><polygon points="1676.9,443.2 1679.8,443.2 1679.4,458.3 1677.7,458.3" fill="#5a4a42"/><rect x="1673.9" y="458.1" width="2.6" height="0.9" fill="#0f8fd0" rx="0.4"/><rect x="1677.5" y="458.1" width="2.6" height="0.9" fill="#0f8fd0" rx="0.4"/><path d="M1675.7,433.1 L1678.3,433.1 Q1680.3,433.4 1680.3,435.5 L1679.9,444.5 L1674.1,444.5 L1673.7,435.5 Q1673.7,433.4 1675.7,433.1 Z" fill="#0f8fd0"/><line x1="1673.9" y1="434.2" x2="1671.9" y2="428.4" stroke="#0f8fd0" stroke-width="1.5" stroke-linecap="round"/><line x1="1680.1" y1="434.2" x2="1682.1" y2="428.4" stroke="#0f8fd0" stroke-width="1.5" stroke-linecap="round"/><circle cx="1671.8" cy="427.6" r="0.8" fill="#f2c9a8"/><circle cx="1682.2" cy="427.6" r="0.8" fill="#f2c9a8"/><rect x="1676.3" y="431.9" width="1.4" height="1.8" fill="#f2c9a8"/><ellipse cx="1677" cy="430.6" rx="1.8" ry="2.3" fill="#f2c9a8"/><path d="M1675,430.6 Q1674.7,427.8 1677,427.7 Q1679.3,427.8 1679,430.6 Q1677,428.8 1675,430.6 Z" fill="#5a3a28"/><ellipse cx="1719.6" cy="462.6" rx="4.8" ry="1.1" fill="#000" opacity="0.13"/><polygon points="1717.1,448.3 1719.8,448.3 1717.3,462.1 1715.6,462.1" fill="#5a5a5a"/><polygon points="1719.4,448.3 1722.1,448.3 1723.6,462.1 1721.9,462.1" fill="#5a5a5a"/><rect x="1715" y="461.9" width="2.5" height="0.9" fill="#1d1d1b" rx="0.4"/><rect x="1721.6" y="461.9" width="2.5" height="0.9" fill="#1d1d1b" rx="0.4"/><path d="M1718.3,438.1 L1720.9,438.1 Q1722.7,438.3 1722.7,440.4 L1722.3,449 L1716.9,449 L1716.5,440.4 Q1716.5,438.3 1718.3,438.1 Z" fill="#1f2a4f"/><line x1="1716.8" y1="439.1" x2="1716.4" y2="446.9" stroke="#1b2547" stroke-width="1.4" stroke-linecap="round"/><line x1="1722.4" y1="439.1" x2="1722.8" y2="446.9" stroke="#1b2547" stroke-width="1.4" stroke-linecap="round"/><circle cx="1716.4" cy="447.9" r="0.7" fill="#f2c9a8"/><circle cx="1722.8" cy="447.9" r="0.7" fill="#f2c9a8"/><rect x="1718.9" y="437" width="1.4" height="1.7" fill="#f2c9a8"/><ellipse cx="1719.6" cy="435.7" rx="1.7" ry="2.2" fill="#f2c9a8"/><path d="M1717.7,435.7 Q1717.4,433 1719.6,432.9 Q1721.8,433 1721.5,435.7 Q1719.6,434 1717.7,435.7 Z" fill="#5a3020"/><ellipse cx="1733.8" cy="451" rx="7.2" ry="1.1" fill="#000" opacity="0.13"/><polygon points="1730.9,429.8 1733.5,429.8 1733,450.3 1731.4,450.3" fill="#f2c9a8"/><polygon points="1734.1,429.8 1736.7,429.8 1736.2,450.3 1734.6,450.3" fill="#f2c9a8"/><polygon points="1730.1,428.6 1737.5,428.6 1737.9,437 1729.7,437" fill="#1d1d1b"/><rect x="1729.4" y="450" width="3.6" height="1.3" fill="#1d1d1b" rx="0.6"/><rect x="1734.6" y="450" width="3.6" height="1.3" fill="#1d1d1b" rx="0.6"/><path d="M1731.9,414.7 L1735.7,414.7 Q1738.4,415.1 1738.4,418.1 L1737.8,430.8 L1729.8,430.8 L1729.2,418.1 Q1729.2,415.1 1731.9,414.7 Z" fill="#0f8fd0"/><line x1="1729.5" y1="416.3" x2="1729.3" y2="422.3" stroke="#0f8fd0" stroke-width="2.1" stroke-linecap="round"/><line x1="1738.1" y1="416.3" x2="1738.3" y2="422.3" stroke="#0f8fd0" stroke-width="2.1" stroke-linecap="round"/><line x1="1729.5" y1="422.6" x2="1737.3" y2="421.5" stroke="#0d80bb" stroke-width="2.1" stroke-linecap="round"/><line x1="1738.1" y1="422.6" x2="1731" y2="423.4" stroke="#0d80bb" stroke-width="2.1" stroke-linecap="round"/><circle cx="1737.7" cy="421.3" r="1" fill="#f2c9a8"/><circle cx="1730.3" cy="423.5" r="1" fill="#f2c9a8"/><rect x="1732.8" y="413.1" width="2" height="2.5" fill="#f2c9a8"/><ellipse cx="1733.8" cy="411.2" rx="2.5" ry="3.2" fill="#f2c9a8"/><path d="M1731,411.2 Q1730.6,407.2 1733.8,407.1 Q1737,407.2 1736.6,411.2 Q1733.8,408.7 1731,411.2 Z" fill="#1d1d1b"/><g fill="none" stroke="#7a7a7a" stroke-width="1.1"><circle cx="1755.5" cy="445.9" r="5.6"/><circle cx="1773.5" cy="445.9" r="5.6"/></g><path d="M1755.5,445.9 L1761.5,438.5 L1769.5,438.5 L1764.5,445.9 Z M1769.5,438.5 L1773.5,445.9 M1769.5,438.5 L1768.5,434.5" fill="none" stroke="#e8a81f" stroke-width="1.1"/><path d="M1773.5,445.9 L1781.5,420.5" stroke="#e8a81f" stroke-width="0.7"/><polygon points="1781.5,418 1788.5,421.5 1782.5,423.5" fill="#e8a81f"/><path d="M1762.5,436.5 L1767.5,442.5 L1764.5,449" fill="none" stroke="#1f3a6f" stroke-width="2.6" stroke-linecap="round" stroke-linejoin="round"/><path d="M1762,435.5 L1764,427.5" stroke="#0f8fd0" stroke-width="5" stroke-linecap="round"/><path d="M1764.5,428.5 L1769,434" stroke="#0f8fd0" stroke-width="1.8" stroke-linecap="round"/><circle cx="1765" cy="422.5" r="2.7" fill="#f2c9a8"/><path d="M1762.1,422.5 q3,-4 6,0 l-1,1 q-2,-2 -5,-0.2 Z" fill="#1d1d1b"/><g fill="none" stroke="#7a7a7a" stroke-width="1.1"><circle cx="1761" cy="350.4" r="5.6"/><circle cx="1779" cy="350.4" r="5.6"/></g><path d="M1761,350.4 L1767,343 L1775,343 L1770,350.4 Z M1775,343 L1779,350.4 M1775,343 L1774,339" fill="none" stroke="#1f2a4f" stroke-width="1.1"/><path d="M1761,350.4 L1753,325" stroke="#1f2a4f" stroke-width="0.7"/><polygon points="1753,322.5 1746,326 1752,328" fill="#1f2a4f"/><path d="M1768,341 L1773,347 L1770,353.5" fill="none" stroke="#1f2a4f" stroke-width="2.6" stroke-linecap="round" stroke-linejoin="round"/><path d="M1767.5,340 L1769.5,332" stroke="#f08a1f" stroke-width="5" stroke-linecap="round"/><path d="M1770,333 L1774.5,338.5" stroke="#f08a1f" stroke-width="1.8" stroke-linecap="round"/><circle cx="1770.5" cy="327" r="2.7" fill="#f2c9a8"/><path d="M1767.6,327 q3,-4 6,0 l-1,1 q-2,-2 -5,-0.2 Z" fill="#1d1d1b"/><ellipse cx="1740.7" cy="548.7" rx="7.8" ry="1.1" fill="#000" opacity="0.13"/><polygon points="1736.4,524.6 1740.9,524.6 1739.6,547.9 1736.9,547.9" fill="#1f3a6f"/><polygon points="1740.5,524.6 1745,524.6 1744.5,547.9 1741.8,547.9" fill="#1f3a6f"/><rect x="1735.9" y="547.6" width="4" height="1.4" fill="#1d1d1b" rx="0.6"/><rect x="1741.5" y="547.6" width="4" height="1.4" fill="#1d1d1b" rx="0.6"/><path d="M1738.7,509.1 L1742.7,509.1 Q1745.8,509.5 1745.8,512.8 L1745.1,526.7 L1736.3,526.7 L1735.6,512.8 Q1735.6,509.5 1738.7,509.1 Z" fill="#0f8fd0"/><line x1="1736.1" y1="510.8" x2="1735.6" y2="523.4" stroke="#0d80bb" stroke-width="2.3" stroke-linecap="round"/><line x1="1745.3" y1="510.8" x2="1745.8" y2="523.4" stroke="#0d80bb" stroke-width="2.3" stroke-linecap="round"/><circle cx="1735.5" cy="525" r="1.1" fill="#f2c9a8"/><circle cx="1745.9" cy="525" r="1.1" fill="#f2c9a8"/><rect x="1739.6" y="507.3" width="2.2" height="2.8" fill="#f2c9a8"/><ellipse cx="1740.7" cy="505.2" rx="2.8" ry="3.5" fill="#f2c9a8"/><path d="M1737.7,505.2 Q1737.2,500.9 1740.7,500.7 Q1744.2,500.9 1743.7,505.2 Q1740.7,502.5 1737.7,505.2 Z" fill="#1d1d1b"/><rect x="1738" y="515" width="8" height="4" fill="#2b2b2b" rx="1"/><ellipse cx="1616.2" cy="546.8" rx="5.9" ry="1.1" fill="#000" opacity="0.13"/><polygon points="1613,528.8 1616.3,528.8 1615.4,546.2 1613.4,546.2" fill="#4a4a4a"/><polygon points="1616.1,528.8 1619.4,528.8 1619,546.2 1617,546.2" fill="#4a4a4a"/><rect x="1612.6" y="546" width="3" height="1" fill="#1d1d1b" rx="0.5"/><rect x="1616.8" y="546" width="3" height="1" fill="#1d1d1b" rx="0.5"/><path d="M1614.7,517.1 L1617.7,517.1 Q1620,517.4 1620,519.9 L1619.5,530.3 L1612.9,530.3 L1612.4,519.9 Q1612.4,517.4 1614.7,517.1 Z" fill="#5aa03a"/><line x1="1612.6" y1="518.4" x2="1610.3" y2="511.6" stroke="#5aa03a" stroke-width="1.7" stroke-linecap="round"/><line x1="1619.8" y1="518.4" x2="1622.1" y2="511.6" stroke="#5aa03a" stroke-width="1.7" stroke-linecap="round"/><circle cx="1610.1" cy="510.7" r="0.9" fill="#f2c9a8"/><circle cx="1622.3" cy="510.7" r="0.9" fill="#f2c9a8"/><rect x="1615.4" y="515.7" width="1.7" height="2.1" fill="#f2c9a8"/><ellipse cx="1616.2" cy="514.2" rx="2.1" ry="2.6" fill="#f2c9a8"/><path d="M1613.9,514.2 Q1613.6,511 1616.2,510.9 Q1618.8,511 1618.5,514.2 Q1616.2,512.2 1613.9,514.2 Z" fill="#1d1d1b"/><circle cx="1616.2" cy="514" r="3.4" fill="#1d1d1b"/><rect x="1393.8" y="483.6" width="4.3" height="9.4" fill="#ddd3c6"/><rect x="1414.1" y="483.6" width="4.3" height="9.4" fill="#ddd3c6"/><rect x="1495" y="483.6" width="4.3" height="9.4" fill="#ddd3c6"/><rect x="1515" y="483.6" width="4.3" height="9.4" fill="#ddd3c6"/><polygon points="1344.3,519.4 1372,497.3 1400.5,519.4 1400.5,554.9 1344.3,554.9" fill="#e4d2bd"/><rect x="1400.5" y="519.4" width="112.5" height="35.5" fill="#c9b8a5"/><polygon points="1513,519.4 1541.5,497.3 1569.7,519.4 1569.7,554.9 1513,554.9" fill="#e4d2bd"/><polygon points="1337,519.8 1372,490.9 1541.5,490.9 1577,519.8 1568.7,519.8 1541.5,498.3 1513,520.4 1400.5,520.4 1372,498.3 1345.3,519.8" fill="#5c5c5c"/><rect x="1411.8" y="500.5" width="13.2" height="9.3" fill="#7ec5e3"/><rect x="1434.5" y="500.5" width="13.2" height="9.3" fill="#7ec5e3"/><rect x="1466.5" y="500.5" width="13.2" height="9.3" fill="#7ec5e3"/><rect x="1488.8" y="500.5" width="13.2" height="9.3" fill="#7ec5e3"/><rect x="1355.4" y="518.5" width="10.9" height="10.8" fill="#7ec5e3"/><rect x="1377.8" y="518.5" width="10.9" height="10.8" fill="#7ec5e3"/><rect x="1524.6" y="518.5" width="10.9" height="10.8" fill="#7ec5e3"/><rect x="1547.3" y="518.5" width="10.9" height="10.8" fill="#7ec5e3"/><rect x="1372" y="537.4" width="10.6" height="17.5" fill="#6e6e6e"/><rect x="1423.4" y="537.4" width="10.6" height="17.5" fill="#6e6e6e"/><rect x="1479.5" y="537.4" width="10.6" height="17.5" fill="#6e6e6e"/><rect x="1531" y="537.4" width="10.6" height="17.5" fill="#6e6e6e"/><ellipse cx="1344.3" cy="562.1" rx="7" ry="1.1" fill="#000" opacity="0.13"/><clipPath id="c1930"><rect x="1344.3" y="538.3" width="15.5" height="25.8"/></clipPath><g fill="#5e9a2a"><circle cx="1344.3" cy="544.1" r="4.2"/><circle cx="1341.4" cy="548.9" r="4.3"/><circle cx="1347.2" cy="548.9" r="4.3"/><circle cx="1341.4" cy="554" r="4.8"/><circle cx="1347.2" cy="554" r="4.8"/><circle cx="1344.3" cy="551.7" r="4.6"/></g><g fill="#4b7f2a" clip-path="url(#c1930)"><circle cx="1344.3" cy="544.1" r="4.2"/><circle cx="1341.4" cy="548.9" r="4.3"/><circle cx="1347.2" cy="548.9" r="4.3"/><circle cx="1341.4" cy="554" r="4.8"/><circle cx="1347.2" cy="554" r="4.8"/><circle cx="1344.3" cy="551.7" r="4.6"/></g><polygon points="1343.4,562.1 1343.6,546.2 1345,546.2 1345.2,562.1" fill="#7d4b2a"/><line x1="1344.3" y1="553.1" x2="1340.4" y2="550.4" stroke="#7d4b2a" stroke-width="0.9" stroke-linecap="round"/><line x1="1344.3" y1="555.9" x2="1348.2" y2="552.4" stroke="#7d4b2a" stroke-width="0.9" stroke-linecap="round"/><ellipse cx="1355.1" cy="573.8" rx="7" ry="1.1" fill="#000" opacity="0.13"/><clipPath id="c1937"><rect x="1355.1" y="550" width="15.5" height="25.8"/></clipPath><g fill="#5e9a2a"><circle cx="1355.1" cy="555.8" r="4.2"/><circle cx="1352.2" cy="560.6" r="4.3"/><circle cx="1358" cy="560.6" r="4.3"/><circle cx="1352.2" cy="565.7" r="4.8"/><circle cx="1358" cy="565.7" r="4.8"/><circle cx="1355.1" cy="563.4" r="4.6"/></g><g fill="#4b7f2a" clip-path="url(#c1937)"><circle cx="1355.1" cy="555.8" r="4.2"/><circle cx="1352.2" cy="560.6" r="4.3"/><circle cx="1358" cy="560.6" r="4.3"/><circle cx="1352.2" cy="565.7" r="4.8"/><circle cx="1358" cy="565.7" r="4.8"/><circle cx="1355.1" cy="563.4" r="4.6"/></g><polygon points="1354.2,573.8 1354.4,557.9 1355.8,557.9 1356,573.8" fill="#7d4b2a"/><line x1="1355.1" y1="564.8" x2="1351.2" y2="562.1" stroke="#7d4b2a" stroke-width="0.9" stroke-linecap="round"/><line x1="1355.1" y1="567.6" x2="1359" y2="564.1" stroke="#7d4b2a" stroke-width="0.9" stroke-linecap="round"/><ellipse cx="1405.4" cy="563.6" rx="7" ry="1.1" fill="#000" opacity="0.13"/><clipPath id="c1944"><rect x="1405.4" y="539.8" width="15.5" height="25.8"/></clipPath><g fill="#5e9a2a"><circle cx="1405.4" cy="545.6" r="4.2"/><circle cx="1402.5" cy="550.4" r="4.3"/><circle cx="1408.3" cy="550.4" r="4.3"/><circle cx="1402.5" cy="555.5" r="4.8"/><circle cx="1408.3" cy="555.5" r="4.8"/><circle cx="1405.4" cy="553.2" r="4.6"/></g><g fill="#4b7f2a" clip-path="url(#c1944)"><circle cx="1405.4" cy="545.6" r="4.2"/><circle cx="1402.5" cy="550.4" r="4.3"/><circle cx="1408.3" cy="550.4" r="4.3"/><circle cx="1402.5" cy="555.5" r="4.8"/><circle cx="1408.3" cy="555.5" r="4.8"/><circle cx="1405.4" cy="553.2" r="4.6"/></g><polygon points="1404.5,563.6 1404.7,547.7 1406.1,547.7 1406.3,563.6" fill="#7d4b2a"/><line x1="1405.4" y1="554.6" x2="1401.5" y2="551.9" stroke="#7d4b2a" stroke-width="0.9" stroke-linecap="round"/><line x1="1405.4" y1="557.4" x2="1409.3" y2="553.9" stroke="#7d4b2a" stroke-width="0.9" stroke-linecap="round"/><ellipse cx="1394.6" cy="578.1" rx="7" ry="1.1" fill="#000" opacity="0.13"/><clipPath id="c1951"><rect x="1394.6" y="554.3" width="15.5" height="25.8"/></clipPath><g fill="#5e9a2a"><circle cx="1394.6" cy="560.1" r="4.2"/><circle cx="1391.7" cy="564.9" r="4.3"/><circle cx="1397.5" cy="564.9" r="4.3"/><circle cx="1391.7" cy="570" r="4.8"/><circle cx="1397.5" cy="570" r="4.8"/><circle cx="1394.6" cy="567.7" r="4.6"/></g><g fill="#4b7f2a" clip-path="url(#c1951)"><circle cx="1394.6" cy="560.1" r="4.2"/><circle cx="1391.7" cy="564.9" r="4.3"/><circle cx="1397.5" cy="564.9" r="4.3"/><circle cx="1391.7" cy="570" r="4.8"/><circle cx="1397.5" cy="570" r="4.8"/><circle cx="1394.6" cy="567.7" r="4.6"/></g><polygon points="1393.7,578.1 1393.9,562.2 1395.3,562.2 1395.5,578.1" fill="#7d4b2a"/><line x1="1394.6" y1="569.1" x2="1390.7" y2="566.4" stroke="#7d4b2a" stroke-width="0.9" stroke-linecap="round"/><line x1="1394.6" y1="571.9" x2="1398.5" y2="568.4" stroke="#7d4b2a" stroke-width="0.9" stroke-linecap="round"/><ellipse cx="1583.6" cy="543.2" rx="7" ry="1.1" fill="#000" opacity="0.13"/><clipPath id="c1958"><rect x="1583.6" y="519.4" width="15.5" height="25.8"/></clipPath><g fill="#5e9a2a"><circle cx="1583.6" cy="525.2" r="4.2"/><circle cx="1580.7" cy="530" r="4.3"/><circle cx="1586.5" cy="530" r="4.3"/><circle cx="1580.7" cy="535.1" r="4.8"/><circle cx="1586.5" cy="535.1" r="4.8"/><circle cx="1583.6" cy="532.8" r="4.6"/></g><g fill="#4b7f2a" clip-path="url(#c1958)"><circle cx="1583.6" cy="525.2" r="4.2"/><circle cx="1580.7" cy="530" r="4.3"/><circle cx="1586.5" cy="530" r="4.3"/><circle cx="1580.7" cy="535.1" r="4.8"/><circle cx="1586.5" cy="535.1" r="4.8"/><circle cx="1583.6" cy="532.8" r="4.6"/></g><polygon points="1582.7,543.2 1582.9,527.3 1584.3,527.3 1584.5,543.2" fill="#7d4b2a"/><line x1="1583.6" y1="534.2" x2="1579.7" y2="531.5" stroke="#7d4b2a" stroke-width="0.9" stroke-linecap="round"/><line x1="1583.6" y1="537" x2="1587.5" y2="533.5" stroke="#7d4b2a" stroke-width="0.9" stroke-linecap="round"/><ellipse cx="1600.2" cy="549.6" rx="7" ry="1.1" fill="#000" opacity="0.13"/><clipPath id="c1965"><rect x="1600.2" y="525.8" width="15.5" height="25.8"/></clipPath><g fill="#5e9a2a"><circle cx="1600.2" cy="531.6" r="4.2"/><circle cx="1597.3" cy="536.4" r="4.3"/><circle cx="1603.1" cy="536.4" r="4.3"/><circle cx="1597.3" cy="541.5" r="4.8"/><circle cx="1603.1" cy="541.5" r="4.8"/><circle cx="1600.2" cy="539.2" r="4.6"/></g><g fill="#4b7f2a" clip-path="url(#c1965)"><circle cx="1600.2" cy="531.6" r="4.2"/><circle cx="1597.3" cy="536.4" r="4.3"/><circle cx="1603.1" cy="536.4" r="4.3"/><circle cx="1597.3" cy="541.5" r="4.8"/><circle cx="1603.1" cy="541.5" r="4.8"/><circle cx="1600.2" cy="539.2" r="4.6"/></g><polygon points="1599.3,549.6 1599.5,533.7 1600.9,533.7 1601.1,549.6" fill="#7d4b2a"/><line x1="1600.2" y1="540.6" x2="1596.3" y2="537.9" stroke="#7d4b2a" stroke-width="0.9" stroke-linecap="round"/><line x1="1600.2" y1="543.4" x2="1604.1" y2="539.9" stroke="#7d4b2a" stroke-width="0.9" stroke-linecap="round"/><ellipse cx="1564.7" cy="565" rx="7" ry="1.1" fill="#000" opacity="0.13"/><clipPath id="c1972"><rect x="1564.7" y="541.2" width="15.5" height="25.8"/></clipPath><g fill="#5e9a2a"><circle cx="1564.7" cy="547" r="4.2"/><circle cx="1561.8" cy="551.8" r="4.3"/><circle cx="1567.6" cy="551.8" r="4.3"/><circle cx="1561.8" cy="556.9" r="4.8"/><circle cx="1567.6" cy="556.9" r="4.8"/><circle cx="1564.7" cy="554.6" r="4.6"/></g><g fill="#4b7f2a" clip-path="url(#c1972)"><circle cx="1564.7" cy="547" r="4.2"/><circle cx="1561.8" cy="551.8" r="4.3"/><circle cx="1567.6" cy="551.8" r="4.3"/><circle cx="1561.8" cy="556.9" r="4.8"/><circle cx="1567.6" cy="556.9" r="4.8"/><circle cx="1564.7" cy="554.6" r="4.6"/></g><polygon points="1563.8,565 1564,549.1 1565.4,549.1 1565.6,565" fill="#7d4b2a"/><line x1="1564.7" y1="556" x2="1560.8" y2="553.3" stroke="#7d4b2a" stroke-width="0.9" stroke-linecap="round"/><line x1="1564.7" y1="558.8" x2="1568.6" y2="555.3" stroke="#7d4b2a" stroke-width="0.9" stroke-linecap="round"/><ellipse cx="1589.2" cy="568.5" rx="7" ry="1.1" fill="#000" opacity="0.13"/><clipPath id="c1979"><rect x="1589.2" y="544.7" width="15.5" height="25.8"/></clipPath><g fill="#5e9a2a"><circle cx="1589.2" cy="550.5" r="4.2"/><circle cx="1586.3" cy="555.3" r="4.3"/><circle cx="1592.1" cy="555.3" r="4.3"/><circle cx="1586.3" cy="560.4" r="4.8"/><circle cx="1592.1" cy="560.4" r="4.8"/><circle cx="1589.2" cy="558.1" r="4.6"/></g><g fill="#4b7f2a" clip-path="url(#c1979)"><circle cx="1589.2" cy="550.5" r="4.2"/><circle cx="1586.3" cy="555.3" r="4.3"/><circle cx="1592.1" cy="555.3" r="4.3"/><circle cx="1586.3" cy="560.4" r="4.8"/><circle cx="1592.1" cy="560.4" r="4.8"/><circle cx="1589.2" cy="558.1" r="4.6"/></g><polygon points="1588.3,568.5 1588.5,552.6 1589.9,552.6 1590.1,568.5" fill="#7d4b2a"/><line x1="1589.2" y1="559.5" x2="1585.3" y2="556.8" stroke="#7d4b2a" stroke-width="0.9" stroke-linecap="round"/><line x1="1589.2" y1="562.3" x2="1593.1" y2="558.8" stroke="#7d4b2a" stroke-width="0.9" stroke-linecap="round"/><ellipse cx="1552.2" cy="582.5" rx="7" ry="1.1" fill="#000" opacity="0.13"/><clipPath id="c1986"><rect x="1552.2" y="558.7" width="15.5" height="25.8"/></clipPath><g fill="#5e9a2a"><circle cx="1552.2" cy="564.5" r="4.2"/><circle cx="1549.3" cy="569.3" r="4.3"/><circle cx="1555.1" cy="569.3" r="4.3"/><circle cx="1549.3" cy="574.4" r="4.8"/><circle cx="1555.1" cy="574.4" r="4.8"/><circle cx="1552.2" cy="572.1" r="4.6"/></g><g fill="#4b7f2a" clip-path="url(#c1986)"><circle cx="1552.2" cy="564.5" r="4.2"/><circle cx="1549.3" cy="569.3" r="4.3"/><circle cx="1555.1" cy="569.3" r="4.3"/><circle cx="1549.3" cy="574.4" r="4.8"/><circle cx="1555.1" cy="574.4" r="4.8"/><circle cx="1552.2" cy="572.1" r="4.6"/></g><polygon points="1551.3,582.5 1551.5,566.6 1552.9,566.6 1553.1,582.5" fill="#7d4b2a"/><line x1="1552.2" y1="573.5" x2="1548.3" y2="570.8" stroke="#7d4b2a" stroke-width="0.9" stroke-linecap="round"/><line x1="1552.2" y1="576.3" x2="1556.1" y2="572.8" stroke="#7d4b2a" stroke-width="0.9" stroke-linecap="round"/><ellipse cx="1575.5" cy="584.8" rx="7" ry="1.1" fill="#000" opacity="0.13"/><clipPath id="c1993"><rect x="1575.5" y="561" width="15.5" height="25.8"/></clipPath><g fill="#5e9a2a"><circle cx="1575.5" cy="566.8" r="4.2"/><circle cx="1572.6" cy="571.6" r="4.3"/><circle cx="1578.4" cy="571.6" r="4.3"/><circle cx="1572.6" cy="576.7" r="4.8"/><circle cx="1578.4" cy="576.7" r="4.8"/><circle cx="1575.5" cy="574.4" r="4.6"/></g><g fill="#4b7f2a" clip-path="url(#c1993)"><circle cx="1575.5" cy="566.8" r="4.2"/><circle cx="1572.6" cy="571.6" r="4.3"/><circle cx="1578.4" cy="571.6" r="4.3"/><circle cx="1572.6" cy="576.7" r="4.8"/><circle cx="1578.4" cy="576.7" r="4.8"/><circle cx="1575.5" cy="574.4" r="4.6"/></g><polygon points="1574.6,584.8 1574.8,568.9 1576.2,568.9 1576.4,584.8" fill="#7d4b2a"/><line x1="1575.5" y1="575.8" x2="1571.6" y2="573.1" stroke="#7d4b2a" stroke-width="0.9" stroke-linecap="round"/><line x1="1575.5" y1="578.6" x2="1579.4" y2="575.1" stroke="#7d4b2a" stroke-width="0.9" stroke-linecap="round"/><ellipse cx="1596.7" cy="588.3" rx="7" ry="1.1" fill="#000" opacity="0.13"/><clipPath id="c2000"><rect x="1596.7" y="565.1" width="15.5" height="25.2"/></clipPath><g fill="#5e9a2a"><circle cx="1596.7" cy="570.8" r="4.2"/><circle cx="1593.8" cy="575.5" r="4.3"/><circle cx="1599.6" cy="575.5" r="4.3"/><circle cx="1593.8" cy="580.5" r="4.8"/><circle cx="1599.6" cy="580.5" r="4.8"/><circle cx="1596.7" cy="578.1" r="4.6"/></g><g fill="#4b7f2a" clip-path="url(#c2000)"><circle cx="1596.7" cy="570.8" r="4.2"/><circle cx="1593.8" cy="575.5" r="4.3"/><circle cx="1599.6" cy="575.5" r="4.3"/><circle cx="1593.8" cy="580.5" r="4.8"/><circle cx="1599.6" cy="580.5" r="4.8"/><circle cx="1596.7" cy="578.1" r="4.6"/></g><polygon points="1595.8,588.3 1596,572.8 1597.4,572.8 1597.6,588.3" fill="#7d4b2a"/><line x1="1596.7" y1="579.6" x2="1592.8" y2="576.9" stroke="#7d4b2a" stroke-width="0.9" stroke-linecap="round"/><line x1="1596.7" y1="582.2" x2="1600.6" y2="578.9" stroke="#7d4b2a" stroke-width="0.9" stroke-linecap="round"/><polygon points="1404.5,571.4 1418.5,555.7 1505.7,555.7 1520.8,571.4" fill="#7d4b2a"/><rect x="1403.9" y="571.4" width="117.8" height="64.9" fill="#d0cbc6"/><rect x="1411.2" y="592.7" width="6.9" height="15.4" fill="#7ec5e3"/><rect x="1411.2" y="613.6" width="6.9" height="16" fill="#7ec5e3"/><rect x="1427.2" y="592.7" width="6.9" height="15.4" fill="#7ec5e3"/><rect x="1427.2" y="613.6" width="6.9" height="16" fill="#7ec5e3"/><rect x="1443.8" y="592.7" width="6.9" height="15.4" fill="#7ec5e3"/><rect x="1443.8" y="613.6" width="6.9" height="16" fill="#7ec5e3"/><rect x="1459.2" y="592.7" width="6.9" height="15.4" fill="#7ec5e3"/><rect x="1459.2" y="613.6" width="6.9" height="16" fill="#7ec5e3"/><rect x="1474.3" y="592.7" width="6.9" height="15.4" fill="#7ec5e3"/><rect x="1474.3" y="613.6" width="6.9" height="16" fill="#7ec5e3"/><rect x="1489.7" y="592.7" width="6.9" height="15.4" fill="#7ec5e3"/><rect x="1489.7" y="613.6" width="6.9" height="16" fill="#7ec5e3"/><rect x="1505.7" y="592.7" width="6.9" height="15.4" fill="#7ec5e3"/><rect x="1505.7" y="613.6" width="6.9" height="16" fill="#7ec5e3"/><polygon points="1421.4,583.1 1462.1,563.6 1502.8,583.1" fill="#e6dfd8"/><rect x="1421.4" y="583.1" width="81.4" height="5.2" fill="#dcd5ce"/><rect x="1421.4" y="588.3" width="4.3" height="47.3" fill="#e8e2db"/><rect x="1436.8" y="588.3" width="4.1" height="47.3" fill="#e8e2db"/><rect x="1452.5" y="588.3" width="4.4" height="47.3" fill="#e8e2db"/><rect x="1468.5" y="588.3" width="3.8" height="47.3" fill="#e8e2db"/><rect x="1483.9" y="588.3" width="4.4" height="47.3" fill="#e8e2db"/><rect x="1499" y="588.3" width="3.8" height="47.3" fill="#e8e2db"/><rect x="1457" y="611" width="11.5" height="25" fill="#d0cbc6"/><rect x="1458.6" y="613.6" width="8.4" height="22.7" fill="#7d4b2a"/><rect x="1403.9" y="636.3" width="117.8" height="10.2" fill="#6e6e6e"/><polygon points="1443.8,636.3 1481,636.3 1492.6,646.5 1432.1,646.5" fill="#9d9d9c"/><line x1="1439.9" y1="639.7" x2="1484.9" y2="639.7" stroke="#8a8a8a" stroke-width="0.5"/><line x1="1436" y1="643.1" x2="1488.8" y2="643.1" stroke="#8a8a8a" stroke-width="0.5"/><rect x="1384.5" y="646.5" width="156.7" height="7.5" fill="#6e6e6e"/><ellipse cx="1343.5" cy="645" rx="16" ry="1.5" fill="#000" opacity="0.15"/><rect x="1330.4" y="639.9" width="4.4" height="5.1" fill="#2b2b2b" rx="1"/><rect x="1352.2" y="639.9" width="4.4" height="5.1" fill="#2b2b2b" rx="1"/><rect x="1328.9" y="608.7" width="29.1" height="33.4" fill="#fff" rx="3"/><rect x="1331.2" y="611.6" width="24.4" height="17.1" fill="#f4f6f8" rx="1.5"/><line x1="1343.5" y1="610.9" x2="1343.5" y2="637.7" stroke="#d0d0d0" stroke-width="0.5"/><rect x="1334.7" y="618.9" width="17.5" height="3.6" fill="#2aa0d8" rx="0.5"/><rect x="1328.9" y="634.1" width="29.1" height="4.7" fill="#0080c8"/><rect x="1331.8" y="638.8" width="23.3" height="1.8" fill="#c8d400"/><rect x="1337" y="629.8" width="12.8" height="2.9" fill="#f0d020" rx="0.3"/><rect x="1327.4" y="620.7" width="2" height="4.4" fill="#2b2b2b" rx="0.8"/><rect x="1357.5" y="620.7" width="2" height="4.4" fill="#2b2b2b" rx="0.8"/><rect x="1329.4" y="626.9" width="2" height="7.3" fill="#c4002a" rx="0.5"/><rect x="1355.5" y="626.9" width="2" height="7.3" fill="#c4002a" rx="0.5"/><ellipse cx="1354.5" cy="648.6" rx="5.1" ry="1.1" fill="#000" opacity="0.13"/><polygon points="1351.7,632.8 1354.6,632.8 1353.8,648.1 1352,648.1" fill="#1f3a6f"/><polygon points="1354.4,632.8 1357.3,632.8 1357,648.1 1355.2,648.1" fill="#1f3a6f"/><rect x="1351.4" y="647.9" width="2.6" height="0.9" fill="#1d1d1b" rx="0.4"/><rect x="1355" y="647.9" width="2.6" height="0.9" fill="#1d1d1b" rx="0.4"/><path d="M1353.2,622.6 L1355.8,622.6 Q1357.8,622.8 1357.8,625 L1357.4,634.1 L1351.6,634.1 L1351.2,625 Q1351.2,622.8 1353.2,622.6 Z" fill="#1f2a4f"/><line x1="1351.5" y1="623.7" x2="1351.1" y2="632" stroke="#1b2547" stroke-width="1.5" stroke-linecap="round"/><line x1="1357.5" y1="623.7" x2="1357.9" y2="632" stroke="#1b2547" stroke-width="1.5" stroke-linecap="round"/><circle cx="1351.1" cy="633" r="0.8" fill="#f2c9a8"/><circle cx="1357.9" cy="633" r="0.8" fill="#f2c9a8"/><rect x="1353.8" y="621.4" width="1.4" height="1.8" fill="#f2c9a8"/><ellipse cx="1354.5" cy="620.1" rx="1.8" ry="2.3" fill="#f2c9a8"/><path d="M1352.5,620.1 Q1352.2,617.2 1354.5,617.1 Q1356.8,617.2 1356.5,620.1 Q1354.5,618.2 1352.5,620.1 Z" fill="#1d1d1b"/><ellipse cx="1505.1" cy="659.2" rx="7.2" ry="1.1" fill="#000" opacity="0.13"/><polygon points="1501.4,637.8 1505.4,637.8 1501.7,658.5 1499.1,658.5" fill="#7a7a7a"/><polygon points="1504.8,637.8 1508.8,637.8 1511,658.5 1508.5,658.5" fill="#7a7a7a"/><rect x="1498.3" y="658.2" width="3.7" height="1.3" fill="#1d1d1b" rx="0.6"/><rect x="1508.2" y="658.2" width="3.7" height="1.3" fill="#1d1d1b" rx="0.6"/><path d="M1503.2,622.6 L1507,622.6 Q1509.8,623 1509.8,626 L1509.2,638.8 L1501,638.8 L1500.4,626 Q1500.4,623 1503.2,622.6 Z" fill="#7ab82a"/><line x1="1500.8" y1="624.1" x2="1500.3" y2="635.8" stroke="#6da525" stroke-width="2.1" stroke-linecap="round"/><line x1="1509.3" y1="624.1" x2="1509.9" y2="635.8" stroke="#6da525" stroke-width="2.1" stroke-linecap="round"/><circle cx="1500.3" cy="637.3" r="1.1" fill="#f2c9a8"/><circle cx="1509.9" cy="637.3" r="1.1" fill="#f2c9a8"/><rect x="1504.1" y="620.9" width="2" height="2.6" fill="#f2c9a8"/><ellipse cx="1505.1" cy="619" rx="2.6" ry="3.2" fill="#f2c9a8"/><path d="M1502.3,619 Q1501.9,615 1505.1,614.9 Q1508.3,615 1507.9,619 Q1505.1,616.5 1502.3,619 Z" fill="#2b3a4a"/><rect x="1492" y="623.5" width="8" height="8.5" fill="#d8b070" rx="0.5"/><ellipse cx="1573.5" cy="662.2" rx="5.6" ry="1.1" fill="#000" opacity="0.13"/><polygon points="1570.4,645.1 1573.6,645.1 1572.7,661.6 1570.8,661.6" fill="#7a7a7a"/><polygon points="1573.4,645.1 1576.6,645.1 1576.2,661.6 1574.3,661.6" fill="#7a7a7a"/><rect x="1570.1" y="661.4" width="2.8" height="1" fill="#1d1d1b" rx="0.5"/><rect x="1574.1" y="661.4" width="2.8" height="1" fill="#1d1d1b" rx="0.5"/><path d="M1572.1,634 L1574.9,634 Q1577.1,634.3 1577.1,636.6 L1576.6,646.5 L1570.4,646.5 L1569.9,636.6 Q1569.9,634.3 1572.1,634 Z" fill="#2a3a9f"/><line x1="1570.2" y1="635.2" x2="1569.8" y2="644.2" stroke="#25348f" stroke-width="1.6" stroke-linecap="round"/><line x1="1576.8" y1="635.2" x2="1577.2" y2="644.2" stroke="#25348f" stroke-width="1.6" stroke-linecap="round"/><circle cx="1569.8" cy="645.3" r="0.8" fill="#f2c9a8"/><circle cx="1577.2" cy="645.3" r="0.8" fill="#f2c9a8"/><rect x="1572.7" y="632.7" width="1.6" height="2" fill="#f2c9a8"/><ellipse cx="1573.5" cy="631.3" rx="2" ry="2.5" fill="#f2c9a8"/><path d="M1571.3,631.3 Q1571,628.2 1573.5,628.1 Q1576,628.2 1575.7,631.3 Q1573.5,629.3 1571.3,631.3 Z" fill="#1d1d1b"/><rect x="1568.5" y="637" width="3" height="10" fill="#2b2b2b" rx="1"/><circle cx="1573.5" cy="631" r="3" fill="#1d1d1b"/><ellipse cx="1308.9" cy="543.2" rx="11.2" ry="1.1" fill="#000" opacity="0.13"/><path d="M1308.9,504 C1305.4,504 1301.9,513.6 1297.7,526 C1296,531.3 1299.5,533 1304,533 L1308.9,532.1 Z" fill="#5e9a2a"/><path d="M1308.5,504.1 C1312.4,504 1316,513.6 1320.1,526 C1321.8,531.3 1318.3,533 1313.8,533 L1308.9,532.1 Z" fill="#4b7f2a"/><polygon points="1306.9,543.2 1307.5,514.4 1310.3,514.4 1310.9,543.2" fill="#7d4b2a"/><line x1="1308.9" y1="527.2" x2="1304" y2="524.3" stroke="#7d4b2a" stroke-width="1.7" stroke-linecap="round"/><line x1="1308.9" y1="524.3" x2="1312.7" y2="519.1" stroke="#7d4b2a" stroke-width="1.7" stroke-linecap="round"/><polygon points="644,784.5 782.7,784.5 782.7,787.6 643,787.6" fill="#b0b0ae"/><rect x="647.8" y="665.3" width="21.8" height="119.2" fill="#9a7358"/><path d="M645.2,665.5 C653,657 655,648 656.3,642 Q655,639 657,637 L658.5,631.5 L660,637 Q662,639 660.7,642 C662,648 664,657 671.8,665.5 Z" fill="#4a4a4a"/><rect x="654.4" y="671.8" width="8.2" height="19.7" fill="#c8b8a8"/><rect x="655.3" y="672.5" width="6.4" height="18.2" fill="#d4ebf7"/><line x1="655.3" y1="676.1" x2="661.7" y2="676.1" stroke="#9fcde3" stroke-width="0.5"/><line x1="655.3" y1="679.8" x2="661.7" y2="679.8" stroke="#9fcde3" stroke-width="0.5"/><line x1="655.3" y1="683.4" x2="661.7" y2="683.4" stroke="#9fcde3" stroke-width="0.5"/><line x1="655.3" y1="687.1" x2="661.7" y2="687.1" stroke="#9fcde3" stroke-width="0.5"/><rect x="654.4" y="698" width="8.2" height="19.7" fill="#c8b8a8"/><rect x="655.3" y="698.7" width="6.4" height="18.2" fill="#d4ebf7"/><line x1="655.3" y1="702.3" x2="661.7" y2="702.3" stroke="#9fcde3" stroke-width="0.5"/><line x1="655.3" y1="706" x2="661.7" y2="706" stroke="#9fcde3" stroke-width="0.5"/><line x1="655.3" y1="709.6" x2="661.7" y2="709.6" stroke="#9fcde3" stroke-width="0.5"/><line x1="655.3" y1="713.3" x2="661.7" y2="713.3" stroke="#9fcde3" stroke-width="0.5"/><rect x="654.4" y="725.6" width="8.2" height="19.7" fill="#c8b8a8"/><rect x="655.3" y="726.3" width="6.4" height="18.2" fill="#d4ebf7"/><line x1="655.3" y1="729.9" x2="661.7" y2="729.9" stroke="#9fcde3" stroke-width="0.5"/><line x1="655.3" y1="733.6" x2="661.7" y2="733.6" stroke="#9fcde3" stroke-width="0.5"/><line x1="655.3" y1="737.2" x2="661.7" y2="737.2" stroke="#9fcde3" stroke-width="0.5"/><line x1="655.3" y1="740.9" x2="661.7" y2="740.9" stroke="#9fcde3" stroke-width="0.5"/><rect x="654.4" y="751.2" width="8.2" height="19.7" fill="#c8b8a8"/><rect x="655.3" y="751.9" width="6.4" height="18.2" fill="#d4ebf7"/><line x1="655.3" y1="755.5" x2="661.7" y2="755.5" stroke="#9fcde3" stroke-width="0.5"/><line x1="655.3" y1="759.2" x2="661.7" y2="759.2" stroke="#9fcde3" stroke-width="0.5"/><line x1="655.3" y1="762.8" x2="661.7" y2="762.8" stroke="#9fcde3" stroke-width="0.5"/><line x1="655.3" y1="766.5" x2="661.7" y2="766.5" stroke="#9fcde3" stroke-width="0.5"/><rect x="669.6" y="695.8" width="93.1" height="88.7" fill="#95705a"/><rect x="762.7" y="695.8" width="16.5" height="88.7" fill="#a07a60"/><polygon points="669.6,695.8 684.7,669.6 754.5,669.6 762.7,686.5 772,686.5 778.9,695.8" fill="#4a4a4a"/><defs><pattern id="gridp" width="2.5" height="2.9" patternUnits="userSpaceOnUse"><rect width="2.5" height="2.9" fill="#eaf6fc"/><path d="M0,0 H2.5 M0,0 V2.9" stroke="#8cc8e6" stroke-width="0.7"/></pattern></defs><rect x="677.5" y="706.1" width="16.7" height="30.4" fill="#c8b8a8"/><rect x="678.3" y="706.9" width="15.1" height="28.8" fill="url(#gridp)"/><rect x="677.5" y="740.1" width="16.7" height="30.1" fill="#c8b8a8"/><rect x="678.3" y="740.9" width="15.1" height="28.5" fill="url(#gridp)"/><rect x="698.5" y="706.1" width="16.7" height="30.4" fill="#c8b8a8"/><rect x="699.3" y="706.9" width="15.1" height="28.8" fill="url(#gridp)"/><rect x="698.5" y="740.1" width="16.7" height="30.1" fill="#c8b8a8"/><rect x="699.3" y="740.9" width="15.1" height="28.5" fill="url(#gridp)"/><rect x="720.3" y="706.1" width="16.7" height="30.4" fill="#c8b8a8"/><rect x="721.1" y="706.9" width="15.1" height="28.8" fill="url(#gridp)"/><rect x="720.3" y="740.1" width="16.7" height="30.1" fill="#c8b8a8"/><rect x="721.1" y="740.9" width="15.1" height="28.5" fill="url(#gridp)"/><rect x="741.2" y="706.1" width="16.7" height="30.4" fill="#c8b8a8"/><rect x="742" y="706.9" width="15.1" height="28.8" fill="url(#gridp)"/><rect x="741.2" y="740.1" width="16.7" height="30.1" fill="#c8b8a8"/><rect x="742" y="740.9" width="15.1" height="28.5" fill="url(#gridp)"/><rect x="766.8" y="714.6" width="8.3" height="19" fill="#c8b8a8"/><rect x="767.6" y="715.3" width="6.7" height="17.6" fill="#d4ebf7"/><line x1="767.6" y1="718.8" x2="774.3" y2="718.8" stroke="#9fcde3" stroke-width="0.5"/><line x1="767.6" y1="722.3" x2="774.3" y2="722.3" stroke="#9fcde3" stroke-width="0.5"/><line x1="767.6" y1="725.8" x2="774.3" y2="725.8" stroke="#9fcde3" stroke-width="0.5"/><line x1="767.6" y1="729.3" x2="774.3" y2="729.3" stroke="#9fcde3" stroke-width="0.5"/><rect x="766.8" y="742.5" width="8.3" height="19" fill="#c8b8a8"/><rect x="767.6" y="743.2" width="6.7" height="17.6" fill="#d4ebf7"/><line x1="767.6" y1="746.7" x2="774.3" y2="746.7" stroke="#9fcde3" stroke-width="0.5"/><line x1="767.6" y1="750.2" x2="774.3" y2="750.2" stroke="#9fcde3" stroke-width="0.5"/><line x1="767.6" y1="753.7" x2="774.3" y2="753.7" stroke="#9fcde3" stroke-width="0.5"/><line x1="767.6" y1="757.2" x2="774.3" y2="757.2" stroke="#9fcde3" stroke-width="0.5"/><rect x="779.2" y="754.9" width="135.3" height="18.3" fill="#9d9d9c"/><path d="M782,773.2 L905,773.2 L905,787.5 L901.5,787.5 A19,10.2 0 0 0 863.5,787.5 L860.8,787.5 A19,10.2 0 0 0 822.8,787.5 L821.5,787.5 A19,10.2 0 0 0 783.5,787.5 L782,787.5 Z" fill="#6e6e6e"/><ellipse cx="889.8" cy="763.4" rx="6.6" ry="1.1" fill="#000" opacity="0.13"/><polygon points="887.2,743.9 889.6,743.9 889.1,762.7 887.6,762.7" fill="#f2c9a8"/><polygon points="890,743.9 892.4,743.9 892,762.7 890.5,762.7" fill="#f2c9a8"/><polygon points="886.4,742.7 893.2,742.7 893.6,750.5 886,750.5" fill="#1d1d1b"/><rect x="885.8" y="762.4" width="3.3" height="1.2" fill="#1d1d1b" rx="0.5"/><rect x="890.5" y="762.4" width="3.3" height="1.2" fill="#1d1d1b" rx="0.5"/><path d="M888.1,730 L891.5,730 Q894.1,730.4 894.1,733.1 L893.5,744.8 L886.1,744.8 L885.5,733.1 Q885.5,730.4 888.1,730 Z" fill="#1080c8"/><line x1="885.9" y1="731.4" x2="885.5" y2="742" stroke="#0e73b4" stroke-width="1.9" stroke-linecap="round"/><line x1="893.7" y1="731.4" x2="894.1" y2="742" stroke="#0e73b4" stroke-width="1.9" stroke-linecap="round"/><circle cx="885.4" cy="743.4" r="1" fill="#f2c9a8"/><circle cx="894.2" cy="743.4" r="1" fill="#f2c9a8"/><rect x="888.9" y="728.5" width="1.9" height="2.3" fill="#f2c9a8"/><ellipse cx="889.8" cy="726.8" rx="2.3" ry="2.9" fill="#f2c9a8"/><path d="M886.9,733.5 Q886.4,723.4 889.8,723.1 Q893.2,723.4 892.7,733.5 L891.7,733.5 Q892.1,725.6 889.8,725.1 Q887.5,725.6 887.9,733.5 Z" fill="#5a3020"/><rect x="888.3" y="733" width="3" height="12" fill="#e8f0f4"/><ellipse cx="629" cy="828.2" rx="18.5" ry="1.1" fill="#000" opacity="0.13"/><rect x="613.8" y="806.3" width="29.6" height="9.2" fill="#7d4b2a"/><rect x="611.2" y="818.1" width="35.5" height="5.7" fill="#7d4b2a"/><rect x="610.5" y="812.2" width="2.4" height="16" fill="#7d4b2a"/><rect x="645.1" y="812.2" width="2.4" height="16" fill="#7d4b2a"/><polygon points="615.7,813.6 625.7,813.6 625.5,819.1 615.9,819.1" fill="#2b2b2b"/><polygon points="615.9,815.8 620.2,815.8 619.6,832.1 616.5,832.1" fill="#2b2b2b"/><polygon points="621.2,815.8 625.5,815.8 624.9,832.1 621.8,832.1" fill="#2b2b2b"/><rect x="615.7" y="831.8" width="4.3" height="1.6" fill="#1d1d1b" rx="0.7"/><rect x="621.5" y="831.8" width="4.3" height="1.6" fill="#1d1d1b" rx="0.7"/><path d="M618.3,798.9 L623.1,798.9 Q627.3,799.4 627.3,803.3 L626,815.8 L615.4,815.8 L614.1,803.3 Q614.1,799.4 618.3,798.9 Z" fill="#14233a"/><line x1="614.7" y1="800.9" x2="614.3" y2="812.1" stroke="#121f34" stroke-width="2.9" stroke-linecap="round"/><line x1="626.7" y1="800.9" x2="627.1" y2="812.1" stroke="#121f34" stroke-width="2.9" stroke-linecap="round"/><rect x="619.4" y="796.7" width="2.6" height="3.3" fill="#f2c9a8"/><ellipse cx="620.7" cy="794.3" rx="3.3" ry="4.2" fill="#f2c9a8"/><path d="M616.5,803.8 Q615.9,789.5 620.7,789.1 Q625.5,789.5 624.9,803.8 L623.3,803.8 Q624,792.6 620.7,791.9 Q617.4,792.6 618.1,803.8 Z" fill="#5a2a1a"/><polygon points="620,808 630,808 628.5,814 618.5,814" fill="#a8b0b8"/><g transform="translate(218.8,652.6) scale(-1.2,1.2)"><path d="M-4.5,0 C-3,-2 1,-2 3,-0.3 L5.2,-1.8 L5.2,1.8 L3,0.3 C1,2 -3,2 -4.5,0Z" fill="#e8f4fb"/></g><g transform="translate(469.4,680.6) scale(-1.2,1.2)"><path d="M-4.5,0 C-3,-2 1,-2 3,-0.3 L5.2,-1.8 L5.2,1.8 L3,0.3 C1,2 -3,2 -4.5,0Z" fill="#e8f4fb"/></g><g transform="translate(510.9,740.5) scale(-1.2,1.2)"><path d="M-4.5,0 C-3,-2 1,-2 3,-0.3 L5.2,-1.8 L5.2,1.8 L3,0.3 C1,2 -3,2 -4.5,0Z" fill="#e8f4fb"/></g><g transform="translate(627.5,692) scale(-1.2,1.2)"><path d="M-4.5,0 C-3,-2 1,-2 3,-0.3 L5.2,-1.8 L5.2,1.8 L3,0.3 C1,2 -3,2 -4.5,0Z" fill="#e8f4fb"/></g><g transform="translate(744.5,807.8) scale(-1.2,1.2)"><path d="M-4.5,0 C-3,-2 1,-2 3,-0.3 L5.2,-1.8 L5.2,1.8 L3,0.3 C1,2 -3,2 -4.5,0Z" fill="#e8f4fb"/></g><g transform="translate(204.6,711.8) scale(-0.8,0.8)"><path d="M-4.5,0 C-3,-2 1,-2 3,-0.3 L5.2,-1.8 L5.2,1.8 L3,0.3 C1,2 -3,2 -4.5,0Z" fill="#e07a1f"/></g><g transform="translate(408.9,720.4) scale(-0.8,0.8)"><path d="M-4.5,0 C-3,-2 1,-2 3,-0.3 L5.2,-1.8 L5.2,1.8 L3,0.3 C1,2 -3,2 -4.5,0Z" fill="#e07a1f"/></g><g transform="translate(556,673) scale(-0.8,0.8)"><path d="M-4.5,0 C-3,-2 1,-2 3,-0.3 L5.2,-1.8 L5.2,1.8 L3,0.3 C1,2 -3,2 -4.5,0Z" fill="#e07a1f"/></g><rect x="390.5" y="803" width="22.3" height="28.3" fill="#6e6e6e"/><rect x="461.5" y="803" width="23" height="28.3" fill="#6e6e6e"/><rect x="390.5" y="801.8" width="94" height="2" fill="#8a8a8a"/><rect x="411.2" y="831.3" width="52.6" height="4.6" fill="#858585"/><rect x="392" y="790.5" width="21" height="9" rx="3" fill="none" stroke="#b8b8b8" stroke-width="1.4"/><rect x="399.7" y="787.5" width="10.5" height="14.3" fill="#2f4f1f"/><rect x="461.5" y="796.5" width="3.3" height="6" fill="#2f4f1f"/><ellipse cx="318.8" cy="774.3" rx="14.4" ry="1.1" fill="#000" opacity="0.13"/><rect x="306.9" y="757.2" width="23.1" height="7.2" fill="#7d4b2a"/><rect x="304.9" y="766.4" width="27.7" height="4.4" fill="#7d4b2a"/><rect x="304.3" y="761.8" width="1.9" height="12.5" fill="#7d4b2a"/><rect x="331.3" y="761.8" width="1.9" height="12.5" fill="#7d4b2a"/><g fill="#5e9a2a"><circle cx="275.3" cy="788.4" r="5.1"/><circle cx="269.3" cy="794.1" r="4.6"/><circle cx="281.3" cy="794.1" r="4.6"/><circle cx="273.2" cy="795" r="4.8"/><circle cx="278.2" cy="795" r="4.8"/><rect x="263.8" y="793.1" width="23" height="6.4" rx="2"/></g><g fill="#4b7f2a"><path d="M273.5,799.5 A5.3,4.1 0 0 1 284,799.5 Z"/><ellipse cx="275.3" cy="796" rx="1.2" ry="3" transform="rotate(-40 275.3 798.4)"/><ellipse cx="276.9" cy="796" rx="1.2" ry="3" transform="rotate(-20 276.9 798.4)"/><ellipse cx="278.8" cy="796" rx="1.2" ry="3" transform="rotate(0 278.8 798.4)"/><ellipse cx="280.6" cy="796" rx="1.2" ry="3" transform="rotate(20 280.6 798.4)"/><ellipse cx="282.2" cy="796" rx="1.2" ry="3" transform="rotate(40 282.2 798.4)"/></g><g fill="#5e9a2a"><circle cx="237.5" cy="803.9" r="5.1"/><circle cx="231.5" cy="809.6" r="4.6"/><circle cx="243.5" cy="809.6" r="4.6"/><circle cx="235.4" cy="810.5" r="4.8"/><circle cx="240.4" cy="810.5" r="4.8"/><rect x="226" y="808.6" width="23" height="6.4" rx="2"/></g><g fill="#4b7f2a"><path d="M235.7,815 A5.3,4.1 0 0 1 246.2,815 Z"/><ellipse cx="237.5" cy="811.5" rx="1.2" ry="3" transform="rotate(-40 237.5 813.9)"/><ellipse cx="239.1" cy="811.5" rx="1.2" ry="3" transform="rotate(-20 239.1 813.9)"/><ellipse cx="240.9" cy="811.5" rx="1.2" ry="3" transform="rotate(0 240.9 813.9)"/><ellipse cx="242.8" cy="811.5" rx="1.2" ry="3" transform="rotate(20 242.8 813.9)"/><ellipse cx="244.4" cy="811.5" rx="1.2" ry="3" transform="rotate(40 244.4 813.9)"/></g><ellipse cx="364.1" cy="844.6" rx="10.9" ry="1.1" fill="#000" opacity="0.13"/><polygon points="358.1,811.2 364.4,811.2 362.6,843.5 358.9,843.5" fill="#14233a"/><polygon points="363.8,811.2 370.1,811.2 369.3,843.5 365.6,843.5" fill="#14233a"/><rect x="357.5" y="843.1" width="5.5" height="1.9" fill="#1d1d1b" rx="0.9"/><rect x="365.2" y="843.1" width="5.5" height="1.9" fill="#1d1d1b" rx="0.9"/><path d="M361.3,789.6 L366.9,789.6 Q371.1,790.1 371.1,794.7 L370.2,814 L358,814 L357.1,794.7 Q357.1,790.1 361.3,789.6 Z" fill="#1f2a4f"/><line x1="357.7" y1="791.9" x2="356.9" y2="809.4" stroke="#1b2547" stroke-width="3.2" stroke-linecap="round"/><line x1="370.5" y1="791.9" x2="371.3" y2="809.4" stroke="#1b2547" stroke-width="3.2" stroke-linecap="round"/><circle cx="356.8" cy="811.7" r="1.6" fill="#8b5a3c"/><circle cx="371.4" cy="811.7" r="1.6" fill="#8b5a3c"/><rect x="362.6" y="787" width="3.1" height="3.8" fill="#8b5a3c"/><ellipse cx="364.1" cy="784.2" rx="3.8" ry="4.9" fill="#8b5a3c"/><path d="M359.2,795.2 Q358.5,778.6 364.1,778.1 Q369.7,778.6 369,795.2 L367.2,795.2 Q367.9,782.2 364.1,781.4 Q360.3,782.2 361,795.2 Z" fill="#2a1a14"/><polygon points="368,797 380.5,797 378.5,805 366,805" fill="#e8eef4"/><rect x="914.6" y="688.4" width="496.1" height="97.8" fill="#d9dad4"/><rect x="1096.7" y="678.3" width="131.9" height="10.7" fill="#d9dad4"/><rect x="919.5" y="703.5" width="487.5" height="80.1" fill="#f1f3f2"/><rect x="922.7" y="707.3" width="14.8" height="21.5" fill="#7ec5e3"/><rect x="922.7" y="734.1" width="14.8" height="21.3" fill="#7ec5e3"/><rect x="922.7" y="760.6" width="14.8" height="21.5" fill="#7ec5e3"/><rect x="945.1" y="707.3" width="14.9" height="21.5" fill="#7ec5e3"/><rect x="963.2" y="707.3" width="2.2" height="21.5" fill="#7ec5e3"/><rect x="945.1" y="734.1" width="14.9" height="21.3" fill="#7ec5e3"/><rect x="963.2" y="734.1" width="2.2" height="21.3" fill="#7ec5e3"/><rect x="945.1" y="760.6" width="14.9" height="21.5" fill="#7ec5e3"/><rect x="963.2" y="760.6" width="2.2" height="21.5" fill="#7ec5e3"/><rect x="970.6" y="707.3" width="7.4" height="21.5" fill="#7ec5e3"/><rect x="981.4" y="707.3" width="9.4" height="21.5" fill="#7ec5e3"/><rect x="970.6" y="734.1" width="7.4" height="21.3" fill="#7ec5e3"/><rect x="981.4" y="734.1" width="9.4" height="21.3" fill="#7ec5e3"/><rect x="970.6" y="760.6" width="7.4" height="21.5" fill="#7ec5e3"/><rect x="981.4" y="760.6" width="9.4" height="21.5" fill="#7ec5e3"/><rect x="995.6" y="707.3" width="1.6" height="21.5" fill="#7ec5e3"/><rect x="1000.6" y="707.3" width="15.3" height="21.5" fill="#7ec5e3"/><rect x="995.6" y="734.1" width="1.6" height="21.3" fill="#7ec5e3"/><rect x="1000.6" y="734.1" width="15.3" height="21.3" fill="#7ec5e3"/><rect x="995.6" y="760.6" width="1.6" height="21.5" fill="#7ec5e3"/><rect x="1000.6" y="760.6" width="15.3" height="21.5" fill="#7ec5e3"/><rect x="1024.2" y="707.3" width="14.7" height="21.5" fill="#7ec5e3"/><rect x="1024.2" y="734.1" width="14.7" height="21.3" fill="#7ec5e3"/><rect x="1024.2" y="760.6" width="14.7" height="21.5" fill="#7ec5e3"/><rect x="1046.5" y="707.3" width="7.8" height="21.5" fill="#7ec5e3"/><rect x="1057.7" y="707.3" width="9.8" height="21.5" fill="#7ec5e3"/><rect x="1046.5" y="734.1" width="7.8" height="21.3" fill="#7ec5e3"/><rect x="1057.7" y="734.1" width="9.8" height="21.3" fill="#7ec5e3"/><rect x="1046.5" y="760.6" width="7.8" height="21.5" fill="#7ec5e3"/><rect x="1057.7" y="760.6" width="9.8" height="21.5" fill="#7ec5e3"/><rect x="1072.2" y="707.3" width="1.6" height="21.5" fill="#7ec5e3"/><rect x="1077.2" y="707.3" width="15" height="21.5" fill="#7ec5e3"/><rect x="1072.2" y="734.1" width="1.6" height="21.3" fill="#7ec5e3"/><rect x="1077.2" y="734.1" width="15" height="21.3" fill="#7ec5e3"/><rect x="1072.2" y="760.6" width="1.6" height="21.5" fill="#7ec5e3"/><rect x="1077.2" y="760.6" width="15" height="21.5" fill="#7ec5e3"/><rect x="1097.9" y="707.3" width="21.2" height="21.5" fill="#7ec5e3"/><rect x="1097.9" y="734.1" width="21.2" height="21.3" fill="#7ec5e3"/><rect x="1097.9" y="760.6" width="21.2" height="21.5" fill="#7ec5e3"/><rect x="1124.8" y="707.3" width="20.6" height="21.5" fill="#7ec5e3"/><rect x="1124.8" y="734.1" width="20.6" height="21.3" fill="#7ec5e3"/><rect x="1124.8" y="760.6" width="20.6" height="21.5" fill="#7ec5e3"/><rect x="1150.9" y="707.3" width="20.3" height="21.5" fill="#7ec5e3"/><rect x="1150.9" y="734.1" width="20.3" height="21.3" fill="#7ec5e3"/><rect x="1150.9" y="760.6" width="20.3" height="21.5" fill="#7ec5e3"/><rect x="1179.5" y="707.3" width="17.2" height="21.5" fill="#7ec5e3"/><rect x="1179.5" y="734.1" width="17.2" height="21.3" fill="#7ec5e3"/><rect x="1179.5" y="760.6" width="17.2" height="21.5" fill="#7ec5e3"/><rect x="1204.3" y="707.3" width="8.2" height="21.5" fill="#7ec5e3"/><rect x="1216" y="707.3" width="10.3" height="21.5" fill="#7ec5e3"/><rect x="1204.3" y="734.1" width="8.2" height="21.3" fill="#7ec5e3"/><rect x="1216" y="734.1" width="10.3" height="21.3" fill="#7ec5e3"/><rect x="1204.3" y="760.6" width="8.2" height="21.5" fill="#7ec5e3"/><rect x="1216" y="760.6" width="10.3" height="21.5" fill="#7ec5e3"/><rect x="1230.9" y="707.3" width="1.6" height="21.5" fill="#7ec5e3"/><rect x="1235.9" y="707.3" width="17.2" height="21.5" fill="#7ec5e3"/><rect x="1230.9" y="734.1" width="1.6" height="21.3" fill="#7ec5e3"/><rect x="1235.9" y="734.1" width="17.2" height="21.3" fill="#7ec5e3"/><rect x="1230.9" y="760.6" width="1.6" height="21.5" fill="#7ec5e3"/><rect x="1235.9" y="760.6" width="17.2" height="21.5" fill="#7ec5e3"/><rect x="1261.5" y="707.3" width="14" height="21.5" fill="#7ec5e3"/><rect x="1261.5" y="734.1" width="14" height="21.3" fill="#7ec5e3"/><rect x="1261.5" y="760.6" width="14" height="21.5" fill="#7ec5e3"/><rect x="1283.1" y="707.3" width="7.8" height="21.5" fill="#7ec5e3"/><rect x="1294.3" y="707.3" width="9.8" height="21.5" fill="#7ec5e3"/><rect x="1283.1" y="734.1" width="7.8" height="21.3" fill="#7ec5e3"/><rect x="1294.3" y="734.1" width="9.8" height="21.3" fill="#7ec5e3"/><rect x="1283.1" y="760.6" width="7.8" height="21.5" fill="#7ec5e3"/><rect x="1294.3" y="760.6" width="9.8" height="21.5" fill="#7ec5e3"/><rect x="1309.3" y="707.3" width="14" height="21.5" fill="#7ec5e3"/><rect x="1326.5" y="707.3" width="2.2" height="21.5" fill="#7ec5e3"/><rect x="1309.3" y="734.1" width="14" height="21.3" fill="#7ec5e3"/><rect x="1326.5" y="734.1" width="2.2" height="21.3" fill="#7ec5e3"/><rect x="1309.3" y="760.6" width="14" height="21.5" fill="#7ec5e3"/><rect x="1326.5" y="760.6" width="2.2" height="21.5" fill="#7ec5e3"/><rect x="1336.6" y="707.3" width="14.7" height="21.5" fill="#7ec5e3"/><rect x="1336.6" y="734.1" width="14.7" height="21.3" fill="#7ec5e3"/><rect x="1336.6" y="760.6" width="14.7" height="21.5" fill="#7ec5e3"/><rect x="1358.9" y="707.3" width="7.8" height="21.5" fill="#7ec5e3"/><rect x="1370.1" y="707.3" width="9.9" height="21.5" fill="#7ec5e3"/><rect x="1358.9" y="734.1" width="7.8" height="21.3" fill="#7ec5e3"/><rect x="1370.1" y="734.1" width="9.9" height="21.3" fill="#7ec5e3"/><rect x="1358.9" y="760.6" width="7.8" height="21.5" fill="#7ec5e3"/><rect x="1370.1" y="760.6" width="9.9" height="21.5" fill="#7ec5e3"/><rect x="1387.8" y="707.3" width="16.8" height="21.5" fill="#7ec5e3"/><rect x="1387.8" y="734.1" width="16.8" height="21.3" fill="#7ec5e3"/><rect x="1387.8" y="760.6" width="16.8" height="21.5" fill="#7ec5e3"/><rect x="939.9" y="703.5" width="4.7" height="82.7" fill="#d9dad4"/><rect x="965.4" y="703.5" width="4.7" height="82.7" fill="#d9dad4"/><rect x="990.9" y="703.5" width="4.7" height="82.7" fill="#d9dad4"/><rect x="1016.4" y="703.5" width="4.7" height="82.7" fill="#d9dad4"/><rect x="1041.4" y="703.5" width="4.7" height="82.7" fill="#d9dad4"/><rect x="1067.6" y="703.5" width="4.7" height="82.7" fill="#d9dad4"/><rect x="1092.8" y="703.5" width="4.7" height="82.7" fill="#d9dad4"/><rect x="1119.6" y="703.5" width="4.7" height="82.7" fill="#d9dad4"/><rect x="1145.8" y="703.5" width="4.7" height="82.7" fill="#d9dad4"/><rect x="1171.7" y="703.5" width="4.7" height="82.7" fill="#d9dad4"/><rect x="1199.2" y="703.5" width="4.7" height="82.7" fill="#d9dad4"/><rect x="1226.2" y="703.5" width="4.7" height="82.7" fill="#d9dad4"/><rect x="1253.7" y="703.5" width="4.7" height="82.7" fill="#d9dad4"/><rect x="1278" y="703.5" width="4.7" height="82.7" fill="#d9dad4"/><rect x="1304.2" y="703.5" width="4.7" height="82.7" fill="#d9dad4"/><rect x="1328.8" y="703.5" width="4.7" height="82.7" fill="#d9dad4"/><rect x="1353.8" y="703.5" width="4.7" height="82.7" fill="#d9dad4"/><rect x="1380" y="703.5" width="4.7" height="82.7" fill="#d9dad4"/><ellipse cx="956.3" cy="799.5" rx="14" ry="1.1" fill="#000" opacity="0.13"/><path d="M956.3,749.9 C951.9,749.9 947.4,762 942.3,777.8 C940.1,784.4 944.5,786.6 950.1,786.6 L956.3,785.5 Z" fill="#5e9a2a"/><path d="M955.9,750 C960.7,749.9 965.1,762 970.3,777.8 C972.5,784.4 968.1,786.6 962.5,786.6 L956.3,785.5 Z" fill="#4b7f2a"/><polygon points="953.8,799.5 954.6,763.1 958,763.1 958.8,799.5" fill="#7d4b2a"/><line x1="956.3" y1="779.3" x2="950.1" y2="775.6" stroke="#7d4b2a" stroke-width="2.1" stroke-linecap="round"/><line x1="956.3" y1="775.6" x2="961" y2="769" stroke="#7d4b2a" stroke-width="2.1" stroke-linecap="round"/><ellipse cx="1061.3" cy="804.2" rx="14" ry="1.1" fill="#000" opacity="0.13"/><path d="M1061.3,754 C1056.9,754 1052.5,766.3 1047.3,782.2 C1045.1,788.9 1049.5,791.1 1055.1,791.1 L1061.3,790 Z" fill="#5e9a2a"/><path d="M1060.9,754.1 C1065.7,754 1070.1,766.3 1075.3,782.2 C1077.5,788.9 1073.1,791.1 1067.5,791.1 L1061.3,790 Z" fill="#4b7f2a"/><polygon points="1058.8,804.2 1059.6,767.4 1063,767.4 1063.8,804.2" fill="#7d4b2a"/><line x1="1061.3" y1="783.7" x2="1055.1" y2="780" stroke="#7d4b2a" stroke-width="2.1" stroke-linecap="round"/><line x1="1061.3" y1="780" x2="1066" y2="773.3" stroke="#7d4b2a" stroke-width="2.1" stroke-linecap="round"/><ellipse cx="1175" cy="806.7" rx="14" ry="1.1" fill="#000" opacity="0.13"/><path d="M1175,756.9 C1170.6,756.9 1166.2,769.1 1161,784.9 C1158.8,791.5 1163.2,793.8 1168.8,793.8 L1175,792.6 Z" fill="#5e9a2a"/><path d="M1174.6,757 C1179.4,756.9 1183.8,769.1 1189,784.9 C1191.2,791.5 1186.8,793.8 1181.2,793.8 L1175,792.6 Z" fill="#4b7f2a"/><polygon points="1172.5,806.7 1173.3,770.2 1176.7,770.2 1177.5,806.7" fill="#7d4b2a"/><line x1="1175" y1="786.4" x2="1168.8" y2="782.7" stroke="#7d4b2a" stroke-width="2.1" stroke-linecap="round"/><line x1="1175" y1="782.7" x2="1179.7" y2="776.1" stroke="#7d4b2a" stroke-width="2.1" stroke-linecap="round"/><ellipse cx="1325.5" cy="806.7" rx="14" ry="1.1" fill="#000" opacity="0.13"/><path d="M1325.5,756.9 C1321.1,756.9 1316.7,769.1 1311.5,784.9 C1309.3,791.5 1313.7,793.8 1319.3,793.8 L1325.5,792.6 Z" fill="#5e9a2a"/><path d="M1325.1,757 C1329.9,756.9 1334.3,769.1 1339.5,784.9 C1341.7,791.5 1337.3,793.8 1331.7,793.8 L1325.5,792.6 Z" fill="#4b7f2a"/><polygon points="1323,806.7 1323.8,770.2 1327.2,770.2 1328,806.7" fill="#7d4b2a"/><line x1="1325.5" y1="786.4" x2="1319.3" y2="782.7" stroke="#7d4b2a" stroke-width="2.1" stroke-linecap="round"/><line x1="1325.5" y1="782.7" x2="1330.2" y2="776.1" stroke="#7d4b2a" stroke-width="2.1" stroke-linecap="round"/><ellipse cx="1405.9" cy="809.3" rx="14" ry="1.1" fill="#000" opacity="0.13"/><path d="M1405.9,758.8 C1401.5,758.8 1397.1,771.1 1391.9,787.2 C1389.7,793.9 1394.1,796.2 1399.7,796.2 L1405.9,795 Z" fill="#5e9a2a"/><path d="M1405.5,758.9 C1410.3,758.8 1414.8,771.1 1419.9,787.2 C1422.1,793.9 1417.7,796.2 1412.1,796.2 L1405.9,795 Z" fill="#4b7f2a"/><polygon points="1403.4,809.3 1404.2,772.3 1407.6,772.3 1408.4,809.3" fill="#7d4b2a"/><line x1="1405.9" y1="788.7" x2="1399.7" y2="785" stroke="#7d4b2a" stroke-width="2.1" stroke-linecap="round"/><line x1="1405.9" y1="785" x2="1410.6" y2="778.2" stroke="#7d4b2a" stroke-width="2.1" stroke-linecap="round"/><ellipse cx="1365.9" cy="811.5" rx="14" ry="1.1" fill="#000" opacity="0.13"/><path d="M1365.9,761.9 C1361.5,761.9 1357.1,774 1351.9,789.8 C1349.7,796.4 1354.1,798.6 1359.7,798.6 L1365.9,797.5 Z" fill="#5e9a2a"/><path d="M1365.5,762 C1370.3,761.9 1374.8,774 1379.9,789.8 C1382.1,796.4 1377.7,798.6 1372.1,798.6 L1365.9,797.5 Z" fill="#4b7f2a"/><polygon points="1363.4,811.5 1364.2,775.1 1367.6,775.1 1368.4,811.5" fill="#7d4b2a"/><line x1="1365.9" y1="791.3" x2="1359.7" y2="787.6" stroke="#7d4b2a" stroke-width="2.1" stroke-linecap="round"/><line x1="1365.9" y1="787.6" x2="1370.6" y2="781" stroke="#7d4b2a" stroke-width="2.1" stroke-linecap="round"/><ellipse cx="1096.1" cy="812.1" rx="14" ry="1.1" fill="#000" opacity="0.13"/><path d="M1096.1,761.9 C1091.7,761.9 1087.2,774.2 1082.1,790.1 C1079.9,796.8 1084.3,799 1089.9,799 L1096.1,797.9 Z" fill="#5e9a2a"/><path d="M1095.7,762 C1100.5,761.9 1104.9,774.2 1110.1,790.1 C1112.3,796.8 1107.9,799 1102.3,799 L1096.1,797.9 Z" fill="#4b7f2a"/><polygon points="1093.6,812.1 1094.4,775.3 1097.8,775.3 1098.6,812.1" fill="#7d4b2a"/><line x1="1096.1" y1="791.6" x2="1089.9" y2="787.9" stroke="#7d4b2a" stroke-width="2.1" stroke-linecap="round"/><line x1="1096.1" y1="787.9" x2="1100.8" y2="781.2" stroke="#7d4b2a" stroke-width="2.1" stroke-linecap="round"/><ellipse cx="915.2" cy="812.4" rx="14" ry="1.1" fill="#000" opacity="0.13"/><path d="M915.2,762.6 C910.8,762.6 906.4,774.8 901.2,790.6 C899,797.2 903.4,799.5 909,799.5 L915.2,798.3 Z" fill="#5e9a2a"/><path d="M914.8,762.8 C919.6,762.6 924.1,774.8 929.2,790.6 C931.4,797.2 927,799.5 921.4,799.5 L915.2,798.3 Z" fill="#4b7f2a"/><polygon points="912.7,812.4 913.5,775.9 916.9,775.9 917.7,812.4" fill="#7d4b2a"/><line x1="915.2" y1="792.1" x2="909" y2="788.4" stroke="#7d4b2a" stroke-width="2.1" stroke-linecap="round"/><line x1="915.2" y1="788.4" x2="919.9" y2="781.8" stroke="#7d4b2a" stroke-width="2.1" stroke-linecap="round"/><ellipse cx="1252" cy="813.4" rx="14" ry="1.1" fill="#000" opacity="0.13"/><path d="M1252,763.2 C1247.6,763.2 1243.2,775.5 1238,791.4 C1235.8,798.1 1240.2,800.3 1245.8,800.3 L1252,799.2 Z" fill="#5e9a2a"/><path d="M1251.6,763.4 C1256.4,763.2 1260.8,775.5 1266,791.4 C1268.2,798.1 1263.8,800.3 1258.2,800.3 L1252,799.2 Z" fill="#4b7f2a"/><polygon points="1249.5,813.4 1250.3,776.6 1253.7,776.6 1254.5,813.4" fill="#7d4b2a"/><line x1="1252" y1="792.9" x2="1245.8" y2="789.2" stroke="#7d4b2a" stroke-width="2.1" stroke-linecap="round"/><line x1="1252" y1="789.2" x2="1256.7" y2="782.5" stroke="#7d4b2a" stroke-width="2.1" stroke-linecap="round"/><ellipse cx="1032" cy="814" rx="14" ry="1.1" fill="#000" opacity="0.13"/><path d="M1032,764.1 C1027.6,764.1 1023.1,776.3 1018,792.2 C1015.8,798.8 1020.2,801 1025.8,801 L1032,799.9 Z" fill="#5e9a2a"/><path d="M1031.6,764.2 C1036.4,764.1 1040.8,776.3 1046,792.2 C1048.2,798.8 1043.8,801 1038.2,801 L1032,799.9 Z" fill="#4b7f2a"/><polygon points="1029.5,814 1030.3,777.4 1033.7,777.4 1034.5,814" fill="#7d4b2a"/><line x1="1032" y1="793.6" x2="1025.8" y2="789.9" stroke="#7d4b2a" stroke-width="2.1" stroke-linecap="round"/><line x1="1032" y1="789.9" x2="1036.7" y2="783.3" stroke="#7d4b2a" stroke-width="2.1" stroke-linecap="round"/><ellipse cx="1133.6" cy="814" rx="14" ry="1.1" fill="#000" opacity="0.13"/><path d="M1133.6,764.1 C1129.2,764.1 1124.8,776.3 1119.6,792.2 C1117.4,798.8 1121.8,801 1127.4,801 L1133.6,799.9 Z" fill="#5e9a2a"/><path d="M1133.2,764.2 C1138,764.1 1142.4,776.3 1147.6,792.2 C1149.8,798.8 1145.4,801 1139.8,801 L1133.6,799.9 Z" fill="#4b7f2a"/><polygon points="1131.1,814 1131.9,777.4 1135.3,777.4 1136.1,814" fill="#7d4b2a"/><line x1="1133.6" y1="793.6" x2="1127.4" y2="789.9" stroke="#7d4b2a" stroke-width="2.1" stroke-linecap="round"/><line x1="1133.6" y1="789.9" x2="1138.3" y2="783.3" stroke="#7d4b2a" stroke-width="2.1" stroke-linecap="round"/><ellipse cx="993.2" cy="814.6" rx="14" ry="1.1" fill="#000" opacity="0.13"/><path d="M993.2,765.1 C988.8,765.1 984.4,777.2 979.2,792.9 C977,799.5 981.4,801.7 987,801.7 L993.2,800.6 Z" fill="#5e9a2a"/><path d="M992.8,765.2 C997.6,765.1 1002.1,777.2 1007.2,792.9 C1009.4,799.5 1005,801.7 999.4,801.7 L993.2,800.6 Z" fill="#4b7f2a"/><polygon points="990.7,814.6 991.5,778.3 994.9,778.3 995.7,814.6" fill="#7d4b2a"/><line x1="993.2" y1="794.4" x2="987" y2="790.7" stroke="#7d4b2a" stroke-width="2.1" stroke-linecap="round"/><line x1="993.2" y1="790.7" x2="997.9" y2="784.1" stroke="#7d4b2a" stroke-width="2.1" stroke-linecap="round"/><ellipse cx="1211.9" cy="817.1" rx="14" ry="1.1" fill="#000" opacity="0.13"/><path d="M1211.9,767.3 C1207.5,767.3 1203.1,779.5 1197.9,795.3 C1195.7,801.9 1200.1,804.2 1205.7,804.2 L1211.9,803 Z" fill="#5e9a2a"/><path d="M1211.5,767.4 C1216.3,767.3 1220.8,779.5 1225.9,795.3 C1228.1,801.9 1223.7,804.2 1218.1,804.2 L1211.9,803 Z" fill="#4b7f2a"/><polygon points="1209.4,817.1 1210.2,780.6 1213.6,780.6 1214.4,817.1" fill="#7d4b2a"/><line x1="1211.9" y1="796.8" x2="1205.7" y2="793.1" stroke="#7d4b2a" stroke-width="2.1" stroke-linecap="round"/><line x1="1211.9" y1="793.1" x2="1216.6" y2="786.5" stroke="#7d4b2a" stroke-width="2.1" stroke-linecap="round"/><ellipse cx="1285.4" cy="818.4" rx="14" ry="1.1" fill="#000" opacity="0.13"/><path d="M1285.4,768.9 C1281,768.9 1276.6,781 1271.4,796.7 C1269.2,803.3 1273.6,805.5 1279.2,805.5 L1285.4,804.4 Z" fill="#5e9a2a"/><path d="M1285,769 C1289.8,768.9 1294.2,781 1299.4,796.7 C1301.6,803.3 1297.2,805.5 1291.6,805.5 L1285.4,804.4 Z" fill="#4b7f2a"/><polygon points="1282.9,818.4 1283.7,782.1 1287.1,782.1 1287.9,818.4" fill="#7d4b2a"/><line x1="1285.4" y1="798.2" x2="1279.2" y2="794.5" stroke="#7d4b2a" stroke-width="2.1" stroke-linecap="round"/><line x1="1285.4" y1="794.5" x2="1290.1" y2="787.9" stroke="#7d4b2a" stroke-width="2.1" stroke-linecap="round"/><ellipse cx="1433.4" cy="757.5" rx="7.5" ry="1.1" fill="#000" opacity="0.13"/><polygon points="1429.3,734.5 1433.6,734.5 1432.3,756.7 1429.8,756.7" fill="#1d1d1b"/><polygon points="1433.2,734.5 1437.5,734.5 1437,756.7 1434.5,756.7" fill="#1d1d1b"/><rect x="1428.8" y="756.5" width="3.8" height="1.3" fill="#1d1d1b" rx="0.6"/><rect x="1434.2" y="756.5" width="3.8" height="1.3" fill="#1d1d1b" rx="0.6"/><path d="M1431.5,719.6 L1435.3,719.6 Q1438.2,719.9 1438.2,723.1 L1437.6,736.4 L1429.2,736.4 L1428.6,723.1 Q1428.6,719.9 1431.5,719.6 Z" fill="#1f3a6f"/><line x1="1429" y1="721.2" x2="1428.5" y2="733.2" stroke="#1b3463" stroke-width="2.2" stroke-linecap="round"/><line x1="1437.8" y1="721.2" x2="1438.3" y2="733.2" stroke="#1b3463" stroke-width="2.2" stroke-linecap="round"/><circle cx="1428.4" cy="734.8" r="1.1" fill="#f2c9a8"/><circle cx="1438.4" cy="734.8" r="1.1" fill="#f2c9a8"/><rect x="1432.3" y="717.8" width="2.1" height="2.6" fill="#f2c9a8"/><ellipse cx="1433.4" cy="715.9" rx="2.6" ry="3.3" fill="#f2c9a8"/><path d="M1430.5,715.9 Q1430.1,711.7 1433.4,711.6 Q1436.7,711.7 1436.3,715.9 Q1433.4,713.2 1430.5,715.9 Z" fill="#2b2b2b"/><g fill="#5e9a2a"><circle cx="1389" cy="830.9" r="4.9"/><circle cx="1383.3" cy="836.4" r="4.4"/><circle cx="1394.7" cy="836.4" r="4.4"/><circle cx="1387" cy="837.2" r="4.6"/><circle cx="1391.7" cy="837.2" r="4.6"/><rect x="1378" y="835.3" width="22" height="6.2" rx="2"/></g><g fill="#4b7f2a"><path d="M1387.2,841.5 A5.1,4 0 0 1 1397.4,841.5 Z"/><ellipse cx="1389" cy="838.2" rx="1.1" ry="2.9" transform="rotate(-40 1389 840.4)"/><ellipse cx="1390.5" cy="838.2" rx="1.1" ry="2.9" transform="rotate(-20 1390.5 840.4)"/><ellipse cx="1392.3" cy="838.2" rx="1.1" ry="2.9" transform="rotate(0 1392.3 840.4)"/><ellipse cx="1394.1" cy="838.2" rx="1.1" ry="2.9" transform="rotate(20 1394.1 840.4)"/><ellipse cx="1395.6" cy="838.2" rx="1.1" ry="2.9" transform="rotate(40 1395.6 840.4)"/></g><ellipse cx="1514.3" cy="774.4" rx="17.6" ry="1.1" fill="#000" opacity="0.13"/><path d="M1514.3,709.8 C1508.8,709.8 1503.2,725.6 1496.7,746.1 C1494,754.7 1499.5,757.6 1506.5,757.6 L1514.3,756.2 Z" fill="#5e9a2a"/><path d="M1513.9,709.9 C1519.8,709.8 1525.4,725.6 1531.9,746.1 C1534.6,754.7 1529.1,757.6 1522.1,757.6 L1514.3,756.2 Z" fill="#4b7f2a"/><polygon points="1511.2,774.4 1512.2,727 1516.4,727 1517.4,774.4" fill="#7d4b2a"/><line x1="1514.3" y1="748" x2="1506.5" y2="743.3" stroke="#7d4b2a" stroke-width="2.6" stroke-linecap="round"/><line x1="1514.3" y1="743.3" x2="1520.2" y2="734.7" stroke="#7d4b2a" stroke-width="2.6" stroke-linecap="round"/><ellipse cx="1770.1" cy="757" rx="13.3" ry="1.1" fill="#000" opacity="0.13"/><clipPath id="c2452"><rect x="1770.1" y="713.3" width="29.5" height="45.7"/></clipPath><g fill="#5e9a2a"><circle cx="1770.1" cy="722.7" r="8"/><circle cx="1764.5" cy="731.8" r="8.3"/><circle cx="1775.7" cy="731.8" r="8.3"/><circle cx="1764.5" cy="741.6" r="9.1"/><circle cx="1775.7" cy="741.6" r="9.1"/><circle cx="1770.1" cy="737" r="8.8"/></g><g fill="#4b7f2a" clip-path="url(#c2452)"><circle cx="1770.1" cy="722.7" r="8"/><circle cx="1764.5" cy="731.8" r="8.3"/><circle cx="1775.7" cy="731.8" r="8.3"/><circle cx="1764.5" cy="741.6" r="9.1"/><circle cx="1775.7" cy="741.6" r="9.1"/><circle cx="1770.1" cy="737" r="8.8"/></g><polygon points="1768.5,757 1768.8,726.5 1771.4,726.5 1771.7,757" fill="#7d4b2a"/><line x1="1770.1" y1="739.8" x2="1762.7" y2="734.6" stroke="#7d4b2a" stroke-width="1.8" stroke-linecap="round"/><line x1="1770.1" y1="745.1" x2="1777.5" y2="738.4" stroke="#7d4b2a" stroke-width="1.8" stroke-linecap="round"/><g fill="#5e9a2a"><circle cx="1594" cy="695.4" r="4.9"/><circle cx="1588.3" cy="700.9" r="4.4"/><circle cx="1599.7" cy="700.9" r="4.4"/><circle cx="1592" cy="701.7" r="4.6"/><circle cx="1596.7" cy="701.7" r="4.6"/><rect x="1583" y="699.8" width="22" height="6.2" rx="2"/></g><g fill="#4b7f2a"><path d="M1592.2,706 A5.1,4 0 0 1 1602.4,706 Z"/><ellipse cx="1594" cy="702.7" rx="1.1" ry="2.9" transform="rotate(-40 1594 704.9)"/><ellipse cx="1595.5" cy="702.7" rx="1.1" ry="2.9" transform="rotate(-20 1595.5 704.9)"/><ellipse cx="1597.3" cy="702.7" rx="1.1" ry="2.9" transform="rotate(0 1597.3 704.9)"/><ellipse cx="1599.1" cy="702.7" rx="1.1" ry="2.9" transform="rotate(20 1599.1 704.9)"/><ellipse cx="1600.6" cy="702.7" rx="1.1" ry="2.9" transform="rotate(40 1600.6 704.9)"/></g><g fill="#5e9a2a"><circle cx="1650.1" cy="830.4" r="4.9"/><circle cx="1644.4" cy="835.9" r="4.4"/><circle cx="1655.8" cy="835.9" r="4.4"/><circle cx="1648.1" cy="836.7" r="4.6"/><circle cx="1652.8" cy="836.7" r="4.6"/><rect x="1639.1" y="834.8" width="22" height="6.2" rx="2"/></g><g fill="#4b7f2a"><path d="M1648.3,841 A5.1,4 0 0 1 1658.5,841 Z"/><ellipse cx="1650.1" cy="837.7" rx="1.1" ry="2.9" transform="rotate(-40 1650.1 839.9)"/><ellipse cx="1651.6" cy="837.7" rx="1.1" ry="2.9" transform="rotate(-20 1651.6 839.9)"/><ellipse cx="1653.4" cy="837.7" rx="1.1" ry="2.9" transform="rotate(0 1653.4 839.9)"/><ellipse cx="1655.2" cy="837.7" rx="1.1" ry="2.9" transform="rotate(20 1655.2 839.9)"/><ellipse cx="1656.7" cy="837.7" rx="1.1" ry="2.9" transform="rotate(40 1656.7 839.9)"/></g><g fill="#5e9a2a"><circle cx="1706.6" cy="819.4" r="4.9"/><circle cx="1700.9" cy="824.9" r="4.4"/><circle cx="1712.3" cy="824.9" r="4.4"/><circle cx="1704.6" cy="825.7" r="4.6"/><circle cx="1709.3" cy="825.7" r="4.6"/><rect x="1695.6" y="823.8" width="22" height="6.2" rx="2"/></g><g fill="#4b7f2a"><path d="M1704.8,830 A5.1,4 0 0 1 1715,830 Z"/><ellipse cx="1706.6" cy="826.7" rx="1.1" ry="2.9" transform="rotate(-40 1706.6 828.9)"/><ellipse cx="1708.1" cy="826.7" rx="1.1" ry="2.9" transform="rotate(-20 1708.1 828.9)"/><ellipse cx="1709.9" cy="826.7" rx="1.1" ry="2.9" transform="rotate(0 1709.9 828.9)"/><ellipse cx="1711.7" cy="826.7" rx="1.1" ry="2.9" transform="rotate(20 1711.7 828.9)"/><ellipse cx="1713.2" cy="826.7" rx="1.1" ry="2.9" transform="rotate(40 1713.2 828.9)"/></g><g transform="translate(1576.7,737.8) scale(-1,1)"><path d="M-4.5,0 C-3,-2 1,-2 3,-0.3 L5.2,-1.8 L5.2,1.8 L3,0.3 C1,2 -3,2 -4.5,0Z" fill="#e8f4fb"/></g><g transform="translate(1619.5,729.7) scale(-1,1)"><path d="M-4.5,0 C-3,-2 1,-2 3,-0.3 L5.2,-1.8 L5.2,1.8 L3,0.3 C1,2 -3,2 -4.5,0Z" fill="#e8f4fb"/></g><g transform="translate(1709.5,737.8) scale(-1,1)"><path d="M-4.5,0 C-3,-2 1,-2 3,-0.3 L5.2,-1.8 L5.2,1.8 L3,0.3 C1,2 -3,2 -4.5,0Z" fill="#e8f4fb"/></g><g transform="translate(1555,757) scale(-1,1)"><path d="M-4.5,0 C-3,-2 1,-2 3,-0.3 L5.2,-1.8 L5.2,1.8 L3,0.3 C1,2 -3,2 -4.5,0Z" fill="#e8f4fb"/></g><g transform="translate(1635,765.5) scale(-1,1)"><path d="M-4.5,0 C-3,-2 1,-2 3,-0.3 L5.2,-1.8 L5.2,1.8 L3,0.3 C1,2 -3,2 -4.5,0Z" fill="#e8f4fb"/></g><g transform="translate(1699.5,776.3) scale(-1,1)"><path d="M-4.5,0 C-3,-2 1,-2 3,-0.3 L5.2,-1.8 L5.2,1.8 L3,0.3 C1,2 -3,2 -4.5,0Z" fill="#e8f4fb"/></g><g transform="translate(1738.5,768) scale(-1,1)"><path d="M-4.5,0 C-3,-2 1,-2 3,-0.3 L5.2,-1.8 L5.2,1.8 L3,0.3 C1,2 -3,2 -4.5,0Z" fill="#e8f4fb"/></g><g transform="translate(1675.5,818.5) scale(-1,1)"><path d="M-4.5,0 C-3,-2 1,-2 3,-0.3 L5.2,-1.8 L5.2,1.8 L3,0.3 C1,2 -3,2 -4.5,0Z" fill="#e8f4fb"/></g><g transform="translate(1545,722.8) scale(-0.9,0.9)"><path d="M-4.5,0 C-3,-2 1,-2 3,-0.3 L5.2,-1.8 L5.2,1.8 L3,0.3 C1,2 -3,2 -4.5,0Z" fill="#e07a1f"/></g><g transform="translate(1670.5,736) scale(-0.9,0.9)"><path d="M-4.5,0 C-3,-2 1,-2 3,-0.3 L5.2,-1.8 L5.2,1.8 L3,0.3 C1,2 -3,2 -4.5,0Z" fill="#e07a1f"/></g><g transform="translate(1597,780) scale(-0.9,0.9)"><path d="M-4.5,0 C-3,-2 1,-2 3,-0.3 L5.2,-1.8 L5.2,1.8 L3,0.3 C1,2 -3,2 -4.5,0Z" fill="#e07a1f"/></g><g transform="translate(1735.5,793.8) scale(-0.9,0.9)"><path d="M-4.5,0 C-3,-2 1,-2 3,-0.3 L5.2,-1.8 L5.2,1.8 L3,0.3 C1,2 -3,2 -4.5,0Z" fill="#e07a1f"/></g><g transform="translate(1784,808.8) scale(-0.9,0.9)"><path d="M-4.5,0 C-3,-2 1,-2 3,-0.3 L5.2,-1.8 L5.2,1.8 L3,0.3 C1,2 -3,2 -4.5,0Z" fill="#e07a1f"/></g><g transform="translate(1640.5,586) scale(-1,1)"><path d="M-4.5,0 C-3,-2 1,-2 3,-0.3 L5.2,-1.8 L5.2,1.8 L3,0.3 C1,2 -3,2 -4.5,0Z" fill="#e8f4fb"/></g><g transform="translate(1721.5,583) scale(-1,1)"><path d="M-4.5,0 C-3,-2 1,-2 3,-0.3 L5.2,-1.8 L5.2,1.8 L3,0.3 C1,2 -3,2 -4.5,0Z" fill="#e8f4fb"/></g><g transform="translate(1778,586) scale(-1,1)"><path d="M-4.5,0 C-3,-2 1,-2 3,-0.3 L5.2,-1.8 L5.2,1.8 L3,0.3 C1,2 -3,2 -4.5,0Z" fill="#e8f4fb"/></g><line x1="1664.1" y1="779.9" x2="1663.3" y2="817" stroke="#e0a070" stroke-width="0.6"/><line x1="1623.2" y1="815" x2="1664.1" y2="779.9" stroke="#c8c8c8" stroke-width="1.1"/><rect x="1605.1" y="825" width="24.7" height="11" fill="#c4c4c4"/><polygon points="1617.4,815.5 1623.8,815.5 1623.7,819 1617.5,819" fill="#5a3a28"/><polygon points="1617.5,816.9 1620.3,816.9 1619.9,827.2 1618,827.2" fill="#5a3a28"/><polygon points="1620.9,816.9 1623.7,816.9 1623.2,827.2 1621.3,827.2" fill="#5a3a28"/><rect x="1617.4" y="827" width="2.7" height="1" fill="#1d1d1b" rx="0.4"/><rect x="1621.1" y="827" width="2.7" height="1" fill="#1d1d1b" rx="0.4"/><path d="M1619.1,806.2 L1622.1,806.2 Q1624.8,806.5 1624.8,809 L1623.9,816.9 L1617.3,816.9 L1616.4,809 Q1616.4,806.5 1619.1,806.2 Z" fill="#1f2a4f"/><line x1="1616.8" y1="807.4" x2="1616.6" y2="814.5" stroke="#1b2547" stroke-width="1.8" stroke-linecap="round"/><line x1="1624.4" y1="807.4" x2="1624.6" y2="814.5" stroke="#1b2547" stroke-width="1.8" stroke-linecap="round"/><rect x="1619.8" y="804.8" width="1.7" height="2.1" fill="#f2c9a8"/><ellipse cx="1620.6" cy="803.3" rx="2.1" ry="2.6" fill="#f2c9a8"/><path d="M1618.3,803.3 Q1618,800 1620.6,799.9 Q1623.2,800 1622.9,803.3 Q1620.6,801.2 1618.3,803.3 Z" fill="#1d1d1b"/><line x1="1589.2" y1="815" x2="1595.5" y2="835.3" stroke="#d0d0d0" stroke-width="1.1"/><polygon points="1552.3,824.2 1578.1,786.6 1622.4,794.7 1605.8,802.8 1581.8,816.9" fill="#4b7f2a"/><ellipse cx="1539.4" cy="815.8" rx="8" ry="1.1" fill="#000" opacity="0.13"/><polygon points="1535,791.1 1539.6,791.1 1538.3,815 1535.5,815" fill="#5a4a42"/><polygon points="1539.2,791.1 1543.8,791.1 1543.3,815 1540.5,815" fill="#5a4a42"/><rect x="1534.5" y="814.7" width="4.1" height="1.4" fill="#1d1d1b" rx="0.7"/><rect x="1540.2" y="814.7" width="4.1" height="1.4" fill="#1d1d1b" rx="0.7"/><path d="M1537.3,775.1 L1541.5,775.1 Q1544.6,775.5 1544.6,778.9 L1543.9,793.2 L1534.9,793.2 L1534.2,778.9 Q1534.2,775.5 1537.3,775.1 Z" fill="#1080c8"/><line x1="1534.7" y1="776.8" x2="1534.1" y2="789.8" stroke="#0e73b4" stroke-width="2.4" stroke-linecap="round"/><line x1="1544.1" y1="776.8" x2="1544.7" y2="789.8" stroke="#0e73b4" stroke-width="2.4" stroke-linecap="round"/><circle cx="1534" cy="791.5" r="1.2" fill="#f2c9a8"/><circle cx="1544.8" cy="791.5" r="1.2" fill="#f2c9a8"/><rect x="1538.3" y="773.2" width="2.3" height="2.8" fill="#f2c9a8"/><ellipse cx="1539.4" cy="771.2" rx="2.8" ry="3.6" fill="#f2c9a8"/><path d="M1536.3,771.2 Q1535.8,766.7 1539.4,766.5 Q1543,766.7 1542.5,771.2 Q1539.4,768.3 1536.3,771.2 Z" fill="#5a3020"/><path d="M1535.8,771 Q1535,766.5 1539.4,766.3 Q1543.8,766.5 1543,771 L1543.6,783 L1535.2,783 Z" fill="#5a3020"/><ellipse cx="1504.7" cy="840.9" rx="16.2" ry="1.1" fill="#000" opacity="0.13"/><rect x="1491.3" y="822.4" width="26" height="7.8" fill="#7d4b2a"/><rect x="1489.1" y="832.4" width="31.2" height="4.8" fill="#7d4b2a"/><rect x="1488.4" y="827.4" width="2.1" height="13.5" fill="#7d4b2a"/><rect x="1518.8" y="827.4" width="2.1" height="13.5" fill="#7d4b2a"/><polygon points="1508.3,811.7 1515.1,811.7 1515,815.4 1508.4,815.4" fill="#1f2a4f"/><polygon points="1508.4,813.2 1511.3,813.2 1511,824.1 1508.9,824.1" fill="#1f2a4f"/><polygon points="1512.1,813.2 1515,813.2 1514.5,824.1 1512.4,824.1" fill="#1f2a4f"/><rect x="1508.3" y="823.9" width="2.9" height="1.1" fill="#1d1d1b" rx="0.4"/><rect x="1512.2" y="823.9" width="2.9" height="1.1" fill="#1d1d1b" rx="0.4"/><path d="M1510.1,801.8 L1513.3,801.8 Q1516.1,802.1 1516.1,804.7 L1515.3,813.2 L1508.1,813.2 L1507.3,804.7 Q1507.3,802.1 1510.1,801.8 Z" fill="#1f2a4f"/><line x1="1507.6" y1="803.1" x2="1507.4" y2="810.6" stroke="#1b2547" stroke-width="1.9" stroke-linecap="round"/><line x1="1515.8" y1="803.1" x2="1516" y2="810.6" stroke="#1b2547" stroke-width="1.9" stroke-linecap="round"/><rect x="1510.8" y="800.3" width="1.8" height="2.2" fill="#f2c9a8"/><ellipse cx="1511.7" cy="798.7" rx="2.2" ry="2.8" fill="#f2c9a8"/><path d="M1508.9,805 Q1508.4,795.4 1511.7,795.1 Q1515,795.4 1514.5,805 L1513.5,805 Q1513.9,797.5 1511.7,797 Q1509.5,797.5 1509.9,805 Z" fill="#d8a030"/><path d="M1507.8,800 Q1507.3,795 1511.7,794.8 Q1516.1,795 1515.6,800 L1516.2,810 L1507.2,810 Z" fill="#d8a030"/><rect x="1492.4" y="822.4" width="24.5" height="7.8" fill="#7d4b2a"/></svg></body></html>
